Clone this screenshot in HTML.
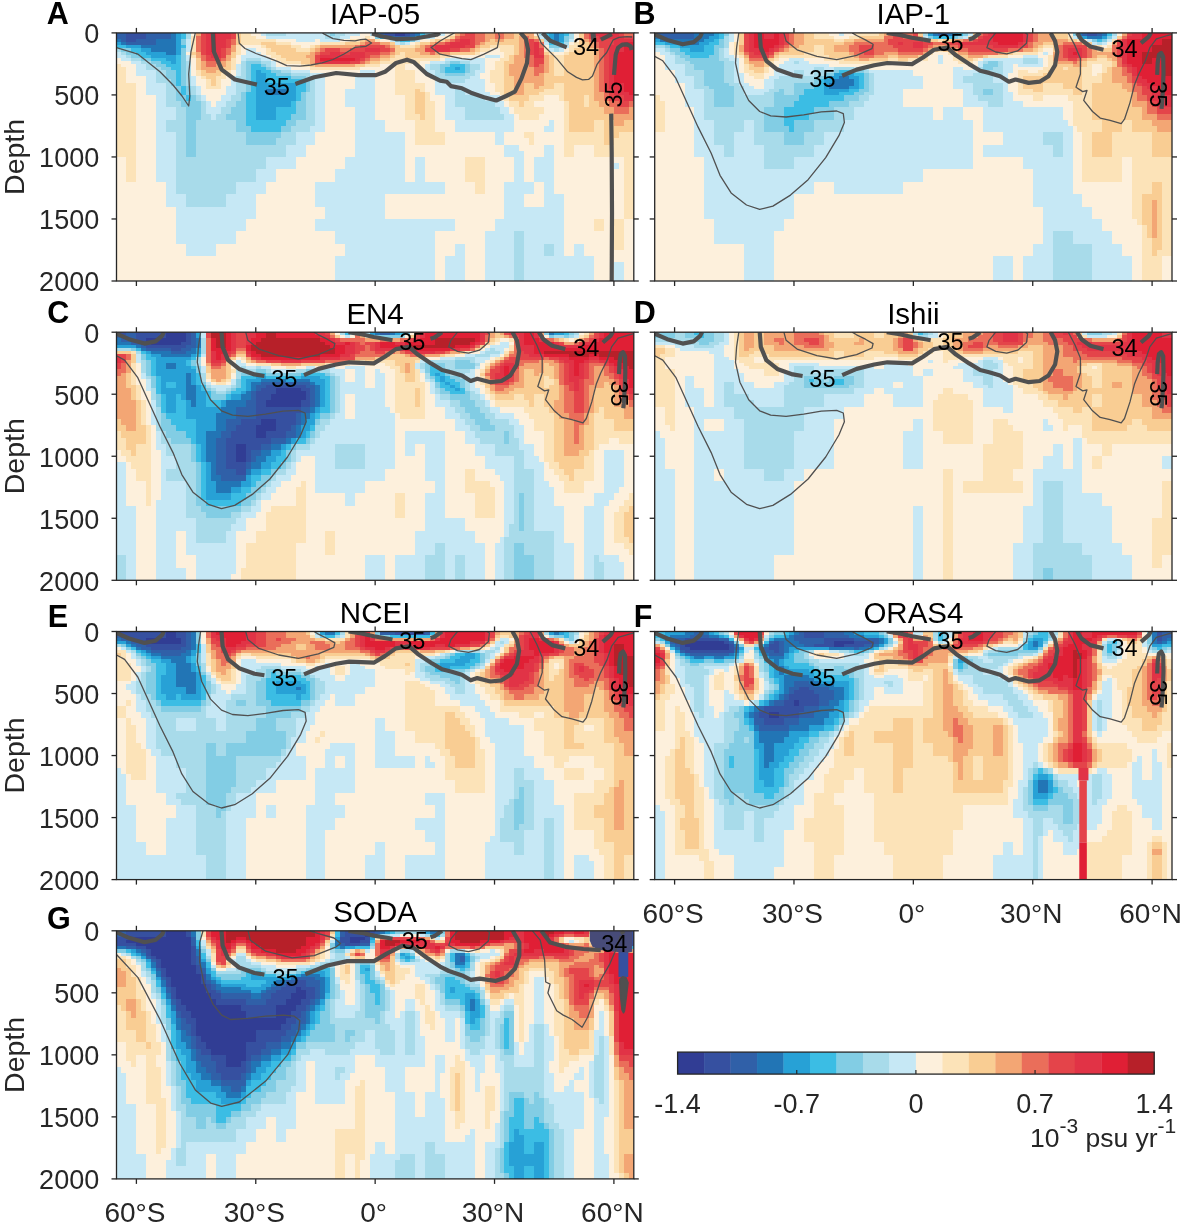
<!DOCTYPE html>
<html><head><meta charset="utf-8"><title>Salinity trend sections</title>
<style>html,body{margin:0;padding:0;background:#fff;} body{width:1181px;height:1225px;overflow:hidden;} svg{display:block;font-family:'Liberation Sans', Arial, Helvetica, sans-serif;}</style>
</head><body>
<svg width="1181" height="1225" viewBox="0 0 1181 1225">
<clipPath id="clipA"><rect x="116.50" y="32.90" width="517.30" height="248.10"/></clipPath>
<g clip-path="url(#clipA)">
<rect x="116.50" y="32.90" width="517.30" height="248.10" fill="#fdf0dc"/>
<g shape-rendering="crispEdges">
<g transform="translate(116.50,32.90) scale(4.97404,3.10125)">
<path fill="#f3a674" d="M16 0h1V1H16zM68 0h1V1H68zM82 0h2V1H82zM74 0h2V2H74zM78 0h2V2H78zM83 1h1V2H83zM50 2h2V3H50zM66 2h1V3H66zM74 2h1V3H74zM76 2h2V3H76zM94 2h1V3H94zM49 3h1V4H49zM53 3h2V4H53zM63 3h1V4H63zM73 3h1V4H73zM41 4h7V5H41zM55 4h1V5H55zM61 4h1V5H61zM72 4h1V5H72zM95 3h1V5H95zM23 4h1V6H23zM40 5h1V6H40zM60 5h2V6H60zM71 5h1V6H71zM39 6h1V7H39zM55 6h1V7H55zM61 6h2V7H61zM64 6h3V7H64zM81 1h1V7H81zM16 6h1V8H16zM38 7h2V8H38zM53 7h2V8H53zM80 7h2V8H80zM22 7h1V9H22zM51 8h2V9H51zM21 9h1V10H21zM39 8h1V10H39zM50 9h1V10H50zM80 8h3V10H80zM17 9h1V11H17zM20 10h2V11H20zM40 10h8V11H40zM79 10h4V11H79zM17 11h4V12H17zM18 12h2V13H18zM86 7h1V13H86zM79 11h5V14H79zM85 13h1V14H85zM80 14h6V16H80zM84 16h2V17H84zM84 17h1V18H84zM96 5h1V19H96zM80 16h2V20H80zM96 19h2V22H96zM97 22h2V24H97zM98 24h2V26H98zM103 24h1V26H103zM99 26h5V28H99zM100 28h2V30H100z"/>
<path fill="#fce3b8" d="M25 0h2V1H25zM67 0h1V1H67zM25 1h3V2H25zM50 1h1V2H50zM66 1h1V2H66zM25 2h7V3H25zM47 2h2V3H47zM52 2h1V3H52zM63 2h1V3H63zM25 3h4V4H25zM32 3h3V4H32zM41 3h5V4H41zM60 3h1V4H60zM92 3h1V4H92zM29 4h1V5H29zM35 4h2V5H35zM39 4h1V5H39zM57 4h3V5H57zM75 4h5V5H75zM91 4h2V5H91zM15 1h1V6H15zM30 5h1V6H30zM36 5h3V6H36zM73 5h2V6H73zM77 5h3V6H77zM86 5h1V6H86zM91 5h1V6H91zM24 4h1V7H24zM30 6h2V7H30zM57 6h1V7H57zM72 6h1V7H72zM78 6h2V7H78zM87 6h1V7H87zM90 6h1V7H90zM15 7h1V8H15zM31 7h2V8H31zM56 7h2V8H56zM65 7h2V8H65zM78 7h1V8H78zM32 8h2V9H32zM55 8h10V9H55zM77 8h2V9H77zM33 9h4V10H33zM53 9h8V10H53zM0 10h1V11H0zM37 10h2V11H37zM50 10h3V11H50zM23 8h1V12H23zM39 11h10V12H39zM56 10h2V12H56zM76 9h2V12H76zM22 12h1V13H22zM16 12h1V14H16zM21 13h2V14H21zM88 7h2V14H88zM17 14h1V15H17zM20 14h2V15H20zM0 11h2V16H0zM56 12h4V16H56zM75 12h3V16H75zM18 15h1V17H18zM20 15h1V17H20zM18 17h3V18H18zM56 16h6V18H56zM88 16h2V18H88zM61 18h1V19H61zM76 16h2V19H76zM86 18h4V19H86zM56 18h4V20H56zM77 19h1V20H77zM85 19h5V20H85zM62 19h1V22H62zM78 20h1V22H78zM83 20h3V22H83zM89 20h1V22H89zM79 22h2V24H79zM82 22h2V24H82zM94 20h1V24H94zM58 20h2V26H58zM80 24h6V26H80zM58 26h3V28H58zM62 22h2V28H62zM81 26h4V28H81zM60 28h4V32H60zM90 22h1V32H90zM96 28h2V32H96zM82 32h2V34H82zM101 32h3V34H101zM60 32h6V36H60zM83 34h1V36H83zM90 32h8V36H90zM100 34h4V36H100zM0 16h4V40H0zM90 36h2V40H90zM96 36h8V40H96zM2 40h2V48H2zM70 40h4V48H70zM72 48h2V52H72zM102 40h2V60H102zM96 60h2V64H96zM100 60h2V70H100z"/>
<path fill="#c6e8f5" d="M29 0h1V1H29zM34 0h8V1H34zM46 0h3V1H46zM51 0h1V1H51zM64 0h2V1H64zM30 1h12V2H30zM45 1h2V2H45zM63 1h1V2H63zM85 1h1V2H85zM36 2h4V3H36zM41 2h4V3H41zM55 2h1V3H55zM60 2h1V3H60zM91 2h1V3H91zM56 3h1V4H56zM58 3h1V4H58zM86 3h1V4H86zM90 4h1V5H90zM14 2h1V6H14zM26 5h2V6H26zM87 5h1V6H87zM89 5h1V6H89zM0 6h1V7H0zM26 6h3V7H26zM0 7h2V8H0zM25 7h5V8H25zM74 7h3V8H74zM1 8h2V9H1zM14 7h1V9H14zM25 8h1V9H25zM29 8h2V9H29zM66 8h8V9H66zM3 9h2V10H3zM63 9h3V10H63zM71 9h3V10H71zM31 9h1V11H31zM4 10h2V12H4zM32 11h3V12H32zM62 10h1V12H62zM73 10h1V12H73zM35 12h4V13H35zM49 12h3V13H49zM72 12h2V13H72zM4 12h4V14H4zM24 10h1V14H24zM39 13h3V14H39zM46 13h6V14H46zM62 12h2V14H62zM72 13h1V14H72zM63 14h1V15H63zM71 14h2V15H71zM6 14h2V16H6zM64 15h1V16H64zM70 15h4V16H70zM15 14h1V17H15zM23 14h1V17H23zM48 14h4V18H48zM64 16h10V18H64zM70 18h4V19H70zM6 16h4V20H6zM16 17h1V20H16zM22 17h2V20H22zM64 18h4V20H64zM70 19h5V20H70zM17 20h1V22H17zM21 20h2V22H21zM74 20h3V22H74zM8 20h2V24H8zM18 22h1V24H18zM20 22h2V24H20zM46 18h6V24H46zM66 20h2V24H66zM76 22h2V24H76zM18 24h3V26H18zM77 24h2V26H77zM8 24h4V28H8zM19 26h1V28H19zM48 24h4V28H48zM66 24h4V28H66zM78 26h2V28H78zM40 14h2V30H40zM87 28h1V30H87zM8 28h2V32H8zM39 30h3V32H39zM48 28h6V32H48zM68 28h12V32H68zM86 30h2V32H86zM36 32h4V36H36zM76 32h2V36H76zM78 36h3V38H78zM34 36h4V40H34zM48 32h10V40H48zM78 38h4V40H78zM86 36h2V40H86zM30 40h6V44H30zM46 40h12V44H46zM100 42h1V44H100zM8 32h4V48H8zM28 44h4V48H28zM44 44h14V48H44zM60 40h2V48H60zM80 40h2V48H80zM84 40h4V48H84zM10 48h2V52H10zM24 48h6V52H24zM40 48h26V52H40zM78 48h6V52H78zM86 48h2V52H86zM10 52h4V56H10zM22 52h6V56H22zM40 52h14V56H40zM78 52h4V56H78zM86 52h4V56H86zM12 56h16V60H12zM42 56h12V60H42zM78 56h12V60H78zM12 60h14V64H12zM40 60h28V64H40zM76 60h14V64H76zM12 64h12V68H12zM44 64h20V68H44zM82 64h8V68H82zM14 68h6V72H14zM46 68h18V72H46zM68 68h2V72H68zM82 68h4V72H82zM88 68h2V72H88zM92 68h2V72H92zM44 72h20V80H44zM66 72h4V80H66zM74 64h6V80H74zM82 72h14V80H82zM100 74h2V80H100z"/>
<path fill="#a8dbea" d="M30 0h4V1H30zM42 0h1V1H42zM44 0h2V1H44zM63 0h1V1H63zM85 0h1V1H85zM14 0h1V2H14zM42 1h3V2H42zM62 1h1V2H62zM91 0h1V2H91zM86 2h1V3H86zM57 3h1V4H57zM90 3h1V4H90zM0 5h1V6H0zM88 5h1V6H88zM1 6h1V7H1zM2 7h1V8H2zM3 8h2V9H3zM26 8h3V9H26zM5 9h2V10H5zM29 9h2V10H29zM66 9h1V10H66zM69 9h2V10H69zM6 10h2V11H6zM30 10h1V11H30zM6 11h3V12H6zM31 11h1V12H31zM63 10h2V12H63zM71 10h2V12H71zM33 12h2V13H33zM64 12h1V13H64zM71 12h1V13H71zM25 9h1V14H25zM35 13h4V14H35zM64 13h2V14H64zM70 13h2V14H70zM8 12h2V15H8zM38 14h2V15H38zM64 14h7V15H64zM8 15h3V16H8zM65 15h5V16H65zM10 16h1V17H10zM14 9h1V17H14zM24 14h2V19H24zM39 15h1V19H39zM15 17h1V20H15zM24 19h1V20H24zM68 18h2V20H68zM10 17h2V22H10zM16 20h1V22H16zM23 20h2V22H23zM68 20h6V22H68zM10 22h3V24H10zM22 22h2V24H22zM68 22h8V24H68zM17 22h1V26H17zM21 24h2V26H21zM70 24h7V26H70zM12 24h2V28H12zM17 26h2V28H17zM20 26h2V28H20zM38 19h2V28H38zM70 26h8V28H70zM36 28h4V30H36zM10 28h4V32H10zM16 28h8V32H16zM35 30h4V32H35zM33 32h3V34H33zM16 32h10V36H16zM32 34h4V36H32zM12 32h2V40H12zM16 36h18V40H16zM12 40h18V44H12zM12 44h16V48H12zM12 48h12V52H12zM14 52h8V56H14zM86 68h2V72H86zM80 64h2V80H80z"/>
<path fill="#82cde4" d="M43 0h1V1H43zM62 0h1V1H62zM52 1h1V2H52zM61 1h1V2H61zM86 1h1V2H86zM56 2h1V3H56zM59 2h1V3H59zM90 1h1V3H90zM13 2h1V4H13zM87 4h3V5H87zM1 5h2V6H1zM2 6h2V7H2zM3 7h2V8H3zM5 8h2V9H5zM7 9h2V10H7zM26 9h3V10H26zM67 9h2V10H67zM8 10h2V11H8zM29 10h1V11H29zM65 10h2V11H65zM9 11h2V12H9zM30 11h1V12H30zM31 12h2V13H31zM65 11h1V13H65zM70 10h1V13H70zM32 13h3V14H32zM66 13h4V14H66zM10 12h2V15H10zM35 14h3V15H35zM11 15h1V17H11zM13 5h1V17H13zM26 10h1V19H26zM38 15h1V19H38zM12 17h1V20H12zM14 17h1V20H14zM12 20h2V22H12zM15 20h1V22H15zM25 19h1V22H25zM37 19h1V22H37zM13 22h4V24H13zM24 22h2V24H24zM23 24h3V26H23zM36 22h2V26H36zM14 24h3V28H14zM22 26h4V28H22zM35 26h3V28H35zM24 28h2V30H24zM34 28h2V30H34zM24 30h3V32H24zM33 30h2V32H33zM26 32h7V34H26zM26 34h6V36H26zM14 28h2V40H14z"/>
<path fill="#27a1d6" d="M52 0h1V1H52zM53 1h2V2H53zM87 0h1V3H87zM89 0h1V3H89zM0 3h1V4H0zM88 3h1V4H88zM2 4h3V5H2zM5 5h2V6H5zM6 6h4V7H6zM12 0h1V7H12zM7 7h5V8H7zM10 8h2V9H10zM11 9h1V10H11zM68 11h1V12H68zM28 12h1V13H28zM28 13h2V16H28zM28 16h8V18H28zM28 18h2V20H28zM34 18h2V20H34zM28 20h8V22H28zM28 22h7V24H28zM28 24h4V28H28z"/>
<path fill="#3060a8" d="M53 0h1V1H53zM59 0h1V1H59zM0 0h2V2H0zM6 0h5V2H6zM56 1h3V2H56zM1 2h1V3H1zM4 2h4V3H4zM2 3h6V4H2z"/>
<path fill="#3650a0" d="M54 0h2V1H54zM58 0h1V1H58zM2 0h4V2H2zM2 2h2V3H2z"/>
<path fill="#313d94" d="M56 0h2V1H56z"/>
<path fill="#2275b5" d="M60 0h1V1H60zM11 0h1V2H11zM55 1h1V2H55zM59 1h1V2H59zM0 2h1V3H0zM88 0h1V3H88zM1 3h1V4H1zM8 2h4V4H8zM5 4h7V5H5zM7 5h5V6H7zM10 6h2V7H10zM30 18h4V20H30z"/>
<path fill="#3bbde4" d="M61 0h1V1H61zM86 0h1V1H86zM90 0h1V1H90zM13 0h1V2H13zM60 1h1V2H60zM57 2h2V3H57zM87 3h1V4H87zM89 3h1V4H89zM0 4h2V5H0zM13 4h1V5H13zM3 5h2V6H3zM4 6h2V7H4zM5 7h2V8H5zM7 8h3V9H7zM9 9h2V10H9zM12 7h1V10H12zM10 10h3V11H10zM27 10h2V11H27zM67 10h3V11H67zM11 11h2V12H11zM27 11h3V12H27zM66 11h2V12H66zM69 11h1V12H69zM29 12h2V13H29zM66 12h4V13H66zM30 13h2V14H30zM30 14h5V15H30zM30 15h8V16H30zM12 12h1V17H12zM27 12h1V19H27zM36 16h2V19H36zM13 17h1V20H13zM14 20h1V22H14zM36 19h1V22H36zM35 22h1V24H35zM32 24h4V26H32zM26 19h2V28H26zM32 26h3V28H32zM26 28h8V30H26zM27 30h6V32H27z"/>
<path fill="#ea6e5a" d="M69 0h1V1H69zM102 0h2V1H102zM68 1h1V2H68zM76 0h2V2H76zM94 0h1V2H94zM67 2h1V3H67zM72 0h2V3H72zM84 2h1V3H84zM95 2h1V3H95zM23 2h1V4H23zM50 3h3V4H50zM64 3h2V4H64zM72 3h1V4H72zM48 4h1V5H48zM54 4h1V5H54zM62 4h1V5H62zM85 3h1V5H85zM96 3h1V5H96zM16 1h1V6H16zM41 5h1V6H41zM45 5h2V6H45zM55 5h1V6H55zM69 5h2V6H69zM22 5h1V7H22zM40 6h1V7H40zM53 6h2V7H53zM63 6h1V7H63zM82 1h1V7H82zM51 7h2V8H51zM82 7h2V8H82zM17 7h1V9H17zM21 8h1V9H21zM50 8h1V9H50zM18 9h3V10H18zM49 9h1V10H49zM18 10h2V11H18zM83 8h1V11H83zM85 10h1V11H85zM84 11h2V13H84zM84 13h1V14H84zM97 5h1V19H97zM98 19h1V22H98zM99 22h2V24H99zM103 22h1V24H103zM100 24h3V26H100z"/>
<path fill="#e4444a" d="M70 0h2V1H70zM95 0h1V1H95zM101 0h1V1H101zM23 0h1V2H23zM69 1h3V2H69zM95 1h2V2H95zM102 1h2V2H102zM68 2h1V3H68zM96 2h4V3H96zM66 3h1V4H66zM71 2h1V4H71zM97 3h3V4H97zM22 2h1V5H22zM49 4h5V5H49zM63 4h1V5H63zM70 4h2V5H70zM97 4h2V5H97zM42 5h3V6H42zM47 5h3V6H47zM53 5h2V6H53zM62 5h2V6H62zM67 5h2V6H67zM17 0h1V7H17zM41 6h2V7H41zM45 6h2V7H45zM50 6h3V7H50zM83 2h1V7H83zM85 5h1V7H85zM18 7h1V8H18zM21 5h1V8H21zM50 7h1V8H50zM18 8h3V9H18zM49 8h1V9H49zM40 7h1V10H40zM47 9h2V10H47zM84 8h2V10H84zM84 10h1V11H84zM98 5h1V18H98zM98 18h2V19H98zM99 19h1V20H99zM99 20h3V22H99zM101 22h2V24H101z"/>
<path fill="#f9cd93" d="M80 0h2V1H80zM67 1h1V2H67zM80 1h1V2H80zM84 1h1V2H84zM49 2h1V3H49zM64 2h2V3H64zM75 2h1V3H75zM78 2h3V3H78zM85 2h1V3H85zM93 0h1V3H93zM24 0h1V4H24zM29 3h3V4H29zM46 3h3V4H46zM55 3h1V4H55zM61 3h2V4H61zM74 3h7V4H74zM30 4h5V5H30zM40 4h1V5H40zM56 4h1V5H56zM60 4h1V5H60zM73 4h2V5H73zM93 3h2V5H93zM31 5h5V6H31zM39 5h1V6H39zM56 5h4V6H56zM72 5h1V6H72zM92 5h4V6H92zM15 6h1V7H15zM32 6h7V7H32zM56 6h1V7H56zM58 6h3V7H58zM67 6h5V7H67zM80 4h1V7H80zM86 6h1V7H86zM91 6h5V7H91zM23 6h1V8H23zM33 7h5V8H33zM55 7h1V8H55zM58 7h7V8H58zM34 8h5V9H34zM53 8h2V9H53zM79 7h1V9H79zM37 9h2V10H37zM51 9h2V10H51zM78 9h2V10H78zM22 9h1V11H22zM39 10h1V11H39zM48 10h2V11H48zM16 8h1V12H16zM21 11h2V12H21zM17 12h1V13H17zM20 12h2V13H20zM87 7h1V13H87zM17 13h4V14H17zM78 10h1V14H78zM86 13h2V14H86zM90 7h6V14H90zM18 14h2V15H18zM86 14h10V16H86zM19 15h1V17H19zM86 16h2V17H86zM82 16h2V18H82zM85 17h3V18H85zM60 18h1V19H60zM82 18h4V19H82zM78 14h2V20H78zM82 19h3V20H82zM90 16h6V20H90zM79 20h4V22H79zM90 20h4V22H90zM95 20h1V22H95zM81 22h1V24H81zM91 22h3V24H91zM95 22h2V24H95zM60 19h2V26H60zM91 24h7V26H91zM61 26h1V28H61zM91 26h8V28H91zM98 28h2V30H98zM102 28h2V30H102zM91 28h5V32H91zM98 30h6V32H98zM98 32h3V34H98zM98 34h2V36H98z"/>
<path fill="#e13346" d="M96 0h5V1H96zM20 0h3V2H20zM97 1h5V2H97zM69 2h2V3H69zM100 2h4V3H100zM67 3h4V4H67zM100 3h2V4H100zM20 2h2V5H20zM64 4h6V5H64zM18 0h1V6H18zM20 5h1V6H20zM50 5h3V6H50zM64 5h3V6H64zM99 4h3V6H99zM18 6h3V7H18zM43 6h2V7H43zM47 6h3V7H47zM84 3h1V7H84zM19 7h2V8H19zM41 7h9V8H41zM84 7h2V8H84zM48 8h1V9H48zM41 9h6V10H41zM99 6h1V16H99zM99 16h3V18H99zM100 18h2V19H100zM100 19h3V20H100zM102 20h2V22H102z"/>
<path fill="#e01f35" d="M19 0h1V6H19zM102 3h2V6H102zM41 8h7V9H41zM100 6h4V16H100zM102 16h2V19H102zM103 19h1V20H103z"/>
</g>
</g>
<path d="M116.5,47.6 L138.0,54.2 L160.0,71.8 L173.0,85.0 L182.0,96.0 L188.7,106.0 L189.8,96.0 L188.7,74.0 L190.9,52.0 L195.3,32.9" fill="none" stroke="#505050" stroke-width="1.3" stroke-linejoin="round" stroke-linecap="butt"/>
<path d="M212.9,33.3 L214.0,52.0 L221.7,69.6 L234.9,79.5 L256.9,84.6" fill="none" stroke="#505050" stroke-width="4.2" stroke-linejoin="round" stroke-linecap="butt"/>
<path d="M295.4,84.0 L314.2,77.3 L336.2,73.0 L358.2,75.1 L376.0,75.1 L385.0,71.8 L396.0,63.0 L407.0,59.7 L413.6,61.9 L426.8,74.0 L440.0,80.6 L446.7,81.7 L451.0,86.1 L462.0,88.3 L470.9,92.7 L484.0,97.2 L496.2,100.5 L506.1,96.0 L514.9,91.6 L521.5,78.4 L527.0,63.0 L528.1,49.8 L525.9,38.8 L520.4,32.6" fill="none" stroke="#505050" stroke-width="4.2" stroke-linejoin="round" stroke-linecap="butt"/>
<path d="M238.2,33.3 L239.3,43.2 L245.0,48.5 L256.0,53.5 L267.0,57.3 L278.0,61.7 L286.8,65.6 L300.0,66.1 L311.0,65.0 L322.0,62.8 L333.0,59.5 L344.0,54.0 L355.0,47.4 L366.0,46.3 L371.6,43.0 L366.0,39.2 L360.6,39.7 L355.0,40.8 L344.0,40.3 L333.0,38.6 L324.3,34.2 L322.5,32.9" fill="none" stroke="#505050" stroke-width="1.3" stroke-linejoin="round" stroke-linecap="butt"/>
<path d="M372.0,33.5 L380.0,36.0 L397.0,39.2 L415.0,38.5 L436.6,34.8 L440.0,33.0" fill="none" stroke="#505050" stroke-width="4.2" stroke-linejoin="round" stroke-linecap="butt"/>
<path d="M455.5,32.2 L440.0,41.0 L431.2,47.6 L440.0,54.2 L462.0,58.6 L470.9,59.7 L484.0,54.2 L497.3,47.6 L499.5,36.6 L498.4,32.2" fill="none" stroke="#505050" stroke-width="1.3" stroke-linejoin="round" stroke-linecap="butt"/>
<path d="M542.5,33.1 L550.2,40.8 L566.7,47.4" fill="none" stroke="#505050" stroke-width="4.2" stroke-linejoin="round" stroke-linecap="butt"/>
<path d="M600.9,39.7 L611.9,34.2" fill="none" stroke="#505050" stroke-width="4.2" stroke-linejoin="round" stroke-linecap="butt"/>
<path d="M593.0,32.9 L594.0,41.9" fill="none" stroke="#505050" stroke-width="5" stroke-linejoin="round" stroke-linecap="butt"/>
<path d="M537.0,33.3 L541.3,43.2 L556.7,58.6 L567.7,71.8 L576.5,77.4 L582.5,79.9 L588.5,79.4 L592.5,75.9 L596.9,64.7 L601.0,59.0 L606.7,52.5 L610.8,44.3 L613.2,39.8 L619.0,37.4 L627.1,36.6 L632.0,37.0" fill="none" stroke="#505050" stroke-width="1.3" stroke-linejoin="round" stroke-linecap="butt"/>
<path d="M614.0,74.9 L615.7,54.9 L618.1,47.6 L622.2,44.7 L627.1,44.3 L630.8,46.4 L631.6,50.0" fill="none" stroke="#505050" stroke-width="4.2" stroke-linejoin="round" stroke-linecap="butt"/>
<path d="M611.2,113.6 L611.7,152.9 L612.0,212.9 L611.7,281.0" fill="none" stroke="#505050" stroke-width="4.2" stroke-linejoin="round" stroke-linecap="butt"/>
<text x="276.7" y="94.5" font-size="23.5" text-anchor="middle" fill="#000">35</text>
<text x="586.0" y="54.7" font-size="23.5" text-anchor="middle" fill="#000">34</text>
<text x="613.2" y="102.9" font-size="23.5" text-anchor="middle" fill="#000" transform="rotate(-90 613.2 94.5)">35</text>
</g>
<rect x="116.50" y="32.90" width="517.30" height="248.10" fill="none" stroke="#262626" stroke-width="1.3"/>
<line x1="136.40" y1="281.00" x2="136.40" y2="286.00" stroke="#262626" stroke-width="1.3"/>
<line x1="136.40" y1="32.90" x2="136.40" y2="27.90" stroke="#262626" stroke-width="1.3"/>
<line x1="255.77" y1="281.00" x2="255.77" y2="286.00" stroke="#262626" stroke-width="1.3"/>
<line x1="255.77" y1="32.90" x2="255.77" y2="27.90" stroke="#262626" stroke-width="1.3"/>
<line x1="375.15" y1="281.00" x2="375.15" y2="286.00" stroke="#262626" stroke-width="1.3"/>
<line x1="375.15" y1="32.90" x2="375.15" y2="27.90" stroke="#262626" stroke-width="1.3"/>
<line x1="494.53" y1="281.00" x2="494.53" y2="286.00" stroke="#262626" stroke-width="1.3"/>
<line x1="494.53" y1="32.90" x2="494.53" y2="27.90" stroke="#262626" stroke-width="1.3"/>
<line x1="613.90" y1="281.00" x2="613.90" y2="286.00" stroke="#262626" stroke-width="1.3"/>
<line x1="613.90" y1="32.90" x2="613.90" y2="27.90" stroke="#262626" stroke-width="1.3"/>
<line x1="116.50" y1="32.90" x2="111.50" y2="32.90" stroke="#262626" stroke-width="1.3"/>
<line x1="633.80" y1="32.90" x2="638.80" y2="32.90" stroke="#262626" stroke-width="1.3"/>
<line x1="116.50" y1="94.92" x2="111.50" y2="94.92" stroke="#262626" stroke-width="1.3"/>
<line x1="633.80" y1="94.92" x2="638.80" y2="94.92" stroke="#262626" stroke-width="1.3"/>
<line x1="116.50" y1="156.95" x2="111.50" y2="156.95" stroke="#262626" stroke-width="1.3"/>
<line x1="633.80" y1="156.95" x2="638.80" y2="156.95" stroke="#262626" stroke-width="1.3"/>
<line x1="116.50" y1="218.97" x2="111.50" y2="218.97" stroke="#262626" stroke-width="1.3"/>
<line x1="633.80" y1="218.97" x2="638.80" y2="218.97" stroke="#262626" stroke-width="1.3"/>
<line x1="116.50" y1="281.00" x2="111.50" y2="281.00" stroke="#262626" stroke-width="1.3"/>
<line x1="633.80" y1="281.00" x2="638.80" y2="281.00" stroke="#262626" stroke-width="1.3"/>
<text x="99.2" y="43.2" font-size="27" text-anchor="end" fill="#262626">0</text>
<text x="99.2" y="105.2" font-size="27" text-anchor="end" fill="#262626">500</text>
<text x="99.2" y="167.2" font-size="27" text-anchor="end" fill="#262626">1000</text>
<text x="99.2" y="229.3" font-size="27" text-anchor="end" fill="#262626">1500</text>
<text x="99.2" y="291.3" font-size="27" text-anchor="end" fill="#262626">2000</text>
<text x="24.3" y="156.9" font-size="28.5" text-anchor="middle" fill="#262626" transform="rotate(-90 24.3 156.9)">Depth</text>
<text x="375.1" y="24.2" font-size="29.5" text-anchor="middle" fill="#000">IAP-05</text>
<text x="46.8" y="24.1" font-size="30.5" font-weight="bold" fill="#000">A</text>
<clipPath id="clipB"><rect x="654.70" y="32.90" width="517.30" height="248.10"/></clipPath>
<g clip-path="url(#clipB)">
<rect x="654.70" y="32.90" width="517.30" height="248.10" fill="#fdf0dc"/>
<g shape-rendering="crispEdges">
<g transform="translate(654.70,32.90) scale(4.97404,3.10125)">
<path fill="#3060a8" d="M0 0h8V1H0zM57 0h2V1H57zM86 0h1V1H86zM89 0h1V1H89zM1 1h7V2H1z"/>
<path fill="#2275b5" d="M8 0h4V1H8zM56 0h1V1H56zM59 0h1V1H59zM85 0h1V1H85zM90 0h1V1H90zM0 1h1V2H0zM8 1h3V2H8zM87 1h3V2H87zM1 2h9V3H1zM5 3h4V4H5zM37 14h2V15H37zM36 15h4V16H36zM35 16h5V17H35zM35 17h4V18H35z"/>
<path fill="#27a1d6" d="M12 0h1V1H12zM55 0h1V1H55zM60 0h1V1H60zM11 1h2V2H11zM86 1h1V2H86zM90 1h1V2H90zM0 2h1V3H0zM10 2h2V3H10zM2 3h3V4H2zM9 3h2V4H9zM5 4h5V5H5zM7 5h3V6H7zM36 13h4V14H36zM35 14h2V15H35zM39 14h2V15H39zM34 15h2V16H34zM40 15h1V17H40zM34 16h1V18H34zM39 17h2V18H39zM34 18h5V19H34zM34 19h3V20H34z"/>
<path fill="#82cde4" d="M14 0h1V1H14zM62 0h1V1H62zM84 0h1V1H84zM55 1h1V2H55zM60 1h1V2H60zM85 1h1V2H85zM91 1h1V2H91zM88 2h1V3H88zM90 2h1V3H90zM13 2h1V4H13zM2 4h1V5H2zM12 4h2V5H12zM3 5h2V6H3zM4 6h2V7H4zM12 5h1V7H12zM5 7h2V8H5zM11 7h2V8H11zM6 8h7V9H6zM7 9h7V10H7zM67 9h2V10H67zM66 10h3V11H66zM8 10h6V12H8zM66 11h2V12H66zM36 12h1V13H36zM40 12h2V13H40zM34 13h2V14H34zM33 14h1V15H33zM10 12h4V16H10zM32 15h1V16H32zM10 16h5V17H10zM28 16h5V17H28zM11 17h5V18H11zM28 17h4V18H28zM42 13h1V18H42zM25 18h1V19H25zM41 18h2V19H41zM24 19h2V20H24zM28 18h2V20H28zM40 19h2V20H40zM66 18h2V20H66zM24 20h5V22H24zM38 20h3V22H38zM12 18h4V24H12zM24 22h4V24H24zM35 22h4V24H35zM32 24h4V26H32zM31 26h5V28H31zM22 24h4V30H22zM22 30h5V32H22zM28 28h4V32H28zM26 32h4V36H26z"/>
<path fill="#fce3b8" d="M32 0h3V1H32zM40 0h5V1H40zM32 1h4V2H32zM39 1h2V2H39zM63 1h1V2H63zM83 1h1V2H83zM36 2h2V3H36zM57 2h1V3H57zM85 2h1V3H85zM92 2h1V3H92zM78 4h2V5H78zM89 4h1V5H89zM91 4h1V5H91zM32 4h2V6H32zM57 5h1V6H57zM77 5h1V6H77zM16 3h1V7H16zM30 6h4V7H30zM55 6h1V7H55zM59 6h1V7H59zM72 6h5V7H72zM17 7h1V8H17zM25 7h10V8H25zM60 7h1V8H60zM67 7h4V8H67zM24 8h1V9H24zM34 8h4V9H34zM47 8h2V9H47zM51 8h2V9H51zM54 7h1V9H54zM60 8h2V9H60zM64 8h1V9H64zM89 8h2V9H89zM37 9h14V10H37zM61 9h3V10H61zM87 9h5V10H87zM23 9h1V11H23zM79 7h1V11H79zM87 10h1V11H87zM90 10h2V11H90zM18 10h1V12H18zM78 11h2V12H78zM82 11h1V12H82zM18 12h2V13H18zM22 11h1V13H22zM73 12h2V13H73zM77 12h2V13H77zM90 11h1V13H90zM19 13h3V14H19zM73 13h5V14H73zM86 11h2V14H86zM89 13h1V14H89zM20 14h2V15H20zM86 14h4V16H86zM73 14h1V18H73zM78 16h4V18H78zM73 18h3V19H73zM78 18h6V19H78zM73 19h11V20H73zM86 16h2V20H86zM0 20h1V22H0zM76 20h2V22H76zM83 20h5V22H83zM84 22h4V28H84zM84 28h6V30H84zM0 22h2V32H0zM85 30h5V32H85zM94 28h2V32H94zM86 32h2V40H86zM92 32h8V40H92zM86 40h8V48H86zM96 40h8V48H96zM96 48h4V52H96zM96 52h2V60H96zM97 60h1V62H97zM98 62h1V66H98zM102 48h2V70H102zM98 66h2V72H98zM101 70h3V72H101zM98 72h4V80H98z"/>
<path fill="#c6e8f5" d="M37 0h1V1H37zM63 0h1V1H63zM54 1h1V2H54zM62 1h1V2H62zM84 1h1V2H84zM92 1h1V2H92zM15 0h1V3H15zM87 2h1V3H87zM91 2h1V3H91zM88 3h1V4H88zM90 3h1V4H90zM0 5h2V6H0zM1 6h2V7H1zM14 5h1V7H14zM78 6h1V7H78zM14 7h2V8H14zM74 7h3V8H74zM15 8h2V9H15zM27 8h3V9H27zM66 8h8V9H66zM2 7h2V10H2zM26 9h2V10H26zM29 9h2V10H29zM57 7h1V10H57zM70 9h4V10H70zM77 8h1V10H77zM25 10h10V11H25zM65 9h1V11H65zM73 10h5V11H73zM2 10h4V12H2zM24 11h8V12H24zM34 11h2V12H34zM40 11h3V12H40zM60 11h2V12H60zM64 11h1V12H64zM16 9h1V13H16zM43 12h9V13H43zM60 12h5V13H60zM70 10h2V13H70zM4 12h2V14H4zM24 12h4V14H24zM30 12h2V14H30zM44 13h8V14H44zM60 13h4V14H60zM70 13h1V14H70zM23 14h2V15H23zM4 14h4V16H4zM16 13h2V16H16zM60 14h2V16H60zM68 14h3V16H68zM17 16h2V17H17zM6 16h2V18H6zM18 17h2V18H18zM22 15h2V18H22zM44 14h10V18H44zM60 16h4V18H60zM18 18h5V19H18zM70 16h1V19H70zM18 19h4V20H18zM44 18h6V20H44zM62 18h2V20H62zM43 20h7V22H43zM62 20h3V22H62zM70 19h2V22H70zM6 18h4V24H6zM42 22h8V24H42zM62 22h5V24H62zM70 22h4V24H70zM8 24h2V28H8zM40 24h16V28H40zM58 24h4V28H58zM66 24h16V28H66zM66 28h17V30H66zM18 28h2V32H18zM38 28h26V32H38zM66 30h18V32H66zM8 28h4V36H8zM16 32h4V36H16zM34 32h30V36H34zM70 32h8V36H70zM8 36h6V40H8zM16 36h6V40H16zM32 36h32V40H32zM66 36h14V40H66zM82 32h2V40H82zM10 40h12V44H10zM28 40h36V44H28zM74 40h10V44H74zM10 44h44V48H10zM10 48h22V52H10zM36 48h14V52H36zM76 44h8V52H76zM76 52h10V56H76zM10 52h18V60H10zM78 56h10V60H78zM12 60h14V64H12zM78 60h12V64H78zM12 64h12V68H12zM78 64h2V68H78zM84 64h8V68H84zM76 68h4V72H76zM88 68h6V72H88zM18 68h6V80H18zM68 72h4V80H68zM74 72h6V80H74zM88 72h8V80H88z"/>
<path fill="#f9cd93" d="M45 0h1V1H45zM53 0h1V1H53zM64 0h1V1H64zM30 0h2V2H30zM41 1h5V2H41zM80 0h3V2H80zM93 1h1V2H93zM30 2h6V3H30zM38 2h2V3H38zM55 2h2V3H55zM58 2h2V3H58zM83 2h2V3H83zM17 0h1V4H17zM30 3h8V4H30zM78 3h2V4H78zM87 3h1V4H87zM29 4h3V5H29zM77 4h1V5H77zM88 4h1V5H88zM27 5h5V6H27zM34 4h2V6H34zM56 5h1V6H56zM58 5h1V6H58zM76 5h1V6H76zM80 4h1V6H80zM89 5h3V6H89zM17 6h1V7H17zM25 6h5V7H25zM34 6h5V7H34zM60 6h1V7H60zM71 6h1V7H71zM24 7h1V8H24zM35 7h5V8H35zM47 7h2V8H47zM53 7h1V8H53zM61 7h2V8H61zM66 7h1V8H66zM89 7h2V8H89zM23 8h1V9H23zM38 8h3V9H38zM43 8h4V9H43zM49 8h2V9H49zM62 8h2V9H62zM87 8h2V9H87zM91 8h1V9H91zM18 8h1V10H18zM80 9h1V10H80zM19 10h1V11H19zM22 9h1V11H22zM80 10h4V11H80zM86 9h1V11H86zM92 9h1V11H92zM19 11h3V12H19zM80 11h2V12H80zM83 11h3V12H83zM20 12h2V13H20zM79 12h7V13H79zM91 11h1V13H91zM78 13h8V14H78zM74 14h12V16H74zM90 13h2V16H90zM74 16h4V18H74zM82 16h4V18H82zM88 16h6V18H88zM76 18h2V19H76zM88 18h7V19H88zM84 18h2V20H84zM88 19h8V24H88zM88 24h10V28H88zM96 28h4V30H96zM90 28h4V32H90zM96 30h5V32H96zM88 32h4V40H88zM100 32h4V40H100zM100 48h2V52H100zM98 52h4V54H98zM98 54h2V62H98zM99 62h1V66H99zM101 54h1V66H101zM100 66h2V70H100zM100 70h1V72H100z"/>
<path fill="#f3a674" d="M46 0h1V1H46zM94 0h1V1H94zM53 1h1V2H53zM64 1h1V2H64zM77 0h3V2H77zM40 2h6V3H40zM54 2h1V3H54zM60 2h2V3H60zM77 2h6V3H77zM28 0h2V4H28zM38 3h2V4H38zM76 3h2V4H76zM80 3h2V4H80zM86 3h1V4H86zM92 3h1V4H92zM27 4h2V5H27zM56 4h3V5H56zM76 4h1V5H76zM87 4h1V5H87zM17 4h1V6H17zM26 5h1V6H26zM36 4h3V6H36zM55 5h1V6H55zM59 5h2V6H59zM74 5h2V6H74zM88 5h1V6H88zM24 6h1V7H24zM39 6h1V7H39zM46 6h3V7H46zM54 6h1V7H54zM61 6h2V7H61zM69 6h2V7H69zM88 6h4V7H88zM18 7h1V8H18zM40 7h1V8H40zM44 7h3V8H44zM49 7h4V8H49zM63 7h3V8H63zM88 7h1V8H88zM91 7h2V8H91zM22 8h1V9H22zM41 8h2V9H41zM80 6h1V9H80zM86 8h1V9H86zM92 8h1V9H92zM19 9h3V10H19zM81 9h3V10H81zM85 9h1V10H85zM20 10h2V11H20zM84 10h2V11H84zM92 11h2V14H92zM92 14h3V16H92zM94 16h2V18H94zM95 18h1V19H95zM96 19h1V22H96zM96 22h3V24H96zM98 24h1V26H98zM98 26h3V28H98zM100 28h4V30H100zM101 30h3V32H101zM100 54h1V66H100z"/>
<path fill="#ea6e5a" d="M47 0h1V1H47zM65 0h1V1H65zM46 1h2V2H46zM50 0h2V2H50zM94 1h1V2H94zM46 2h1V3H46zM62 2h2V3H62zM76 0h1V3H76zM93 2h1V3H93zM27 0h1V4H27zM40 3h7V4H40zM56 3h3V4H56zM82 3h4V4H82zM26 4h1V5H26zM44 4h4V5H44zM55 4h1V5H55zM59 4h2V5H59zM75 3h1V5H75zM25 5h1V6H25zM39 4h2V6H39zM44 5h5V6H44zM54 5h1V6H54zM61 5h2V6H61zM71 5h3V6H71zM18 6h1V7H18zM40 6h2V7H40zM44 6h2V7H44zM49 6h5V7H49zM63 6h6V7H63zM92 4h1V7H92zM23 7h1V8H23zM41 7h3V8H41zM81 4h1V8H81zM87 5h1V8H87zM19 8h3V9H19zM81 8h2V9H81zM85 8h1V9H85zM84 9h1V10H84zM93 8h1V11H93zM94 11h1V13H94zM94 13h2V14H94zM95 14h1V16H95zM96 16h1V17H96zM96 17h2V19H96zM97 19h1V20H97zM97 20h2V22H97zM99 22h1V24H99zM99 24h2V26H99zM101 26h3V28H101z"/>
<path fill="#a8dbea" d="M54 0h1V1H54zM92 0h1V1H92zM61 1h1V2H61zM89 3h1V4H89zM0 4h2V5H0zM14 1h1V5H14zM2 5h1V6H2zM3 6h1V7H3zM4 7h1V8H4zM13 5h1V8H13zM4 8h2V9H4zM13 8h2V9H13zM4 9h3V10H4zM28 9h1V10H28zM66 9h1V10H66zM74 8h3V10H74zM69 9h1V11H69zM6 10h2V12H6zM32 11h2V12H32zM36 11h4V12H36zM65 11h1V12H65zM68 11h2V12H68zM32 12h4V13H32zM42 12h1V13H42zM65 12h5V13H65zM6 12h4V14H6zM28 12h2V14H28zM32 13h2V14H32zM64 13h6V14H64zM25 14h8V15H25zM14 9h2V16H14zM24 15h8V16H24zM62 14h6V16H62zM8 14h2V17H8zM15 16h2V17H15zM8 17h3V18H8zM24 16h4V18H24zM64 16h6V18H64zM23 18h2V19H23zM43 13h1V19H43zM16 17h2V20H16zM22 19h2V20H22zM26 18h2V20H26zM42 19h2V20H42zM64 18h2V20H64zM68 18h2V20H68zM41 20h2V22H41zM65 20h5V22H65zM10 18h2V24H10zM16 20h8V24H16zM39 22h3V24H39zM67 22h3V24H67zM10 24h12V28H10zM36 24h4V28H36zM12 28h6V32H12zM20 28h2V32H20zM32 28h6V32H32zM12 32h4V36H12zM20 32h6V36H20zM30 32h4V36H30zM78 32h4V36H78zM14 36h2V40H14zM22 36h10V40H22zM80 36h2V40H80zM22 40h6V44H22zM80 64h4V68H80zM80 68h8V80H80z"/>
<path fill="#3bbde4" d="M61 0h1V1H61zM91 0h1V1H91zM13 0h1V2H13zM56 1h4V2H56zM12 2h1V3H12zM89 2h1V3H89zM0 3h2V4H0zM11 3h2V4H11zM3 4h2V5H3zM5 5h2V6H5zM10 4h2V6H10zM6 6h6V7H6zM7 7h4V8H7zM37 12h3V13H37zM40 13h2V14H40zM34 14h1V15H34zM33 15h1V17H33zM32 17h2V18H32zM41 14h1V18H41zM39 18h2V19H39zM30 18h4V20H30zM37 19h3V20H37zM29 20h9V22H29zM28 22h7V24H28zM26 24h6V26H26zM26 26h5V28H26zM26 28h2V30H26zM27 30h1V32H27z"/>
<path fill="#e4444a" d="M66 0h1V1H66zM95 0h1V1H95zM48 0h2V2H48zM52 0h1V2H52zM65 1h1V2H65zM47 2h7V3H47zM64 2h1V3H64zM75 0h1V3H75zM26 0h1V4H26zM47 3h2V4H47zM50 3h2V4H50zM54 3h2V4H54zM59 3h2V4H59zM74 3h1V4H74zM25 4h1V5H25zM48 4h4V5H48zM54 4h1V5H54zM61 4h7V5H61zM73 4h2V5H73zM82 4h5V5H82zM18 0h1V6H18zM24 5h1V6H24zM41 4h3V6H41zM49 5h5V6H49zM63 5h8V6H63zM19 6h1V7H19zM23 6h1V7H23zM42 6h2V7H42zM19 7h4V8H19zM82 5h1V8H82zM86 5h1V8H86zM93 3h1V8H93zM83 8h2V9H83zM94 10h1V11H94zM95 11h1V13H95zM96 14h1V16H96zM97 16h1V17H97zM98 17h1V18H98zM98 18h2V20H98zM99 20h1V22H99zM100 22h1V24H100zM101 24h3V26H101z"/>
<path fill="#e13346" d="M67 0h1V1H67zM96 0h2V1H96zM22 0h2V2H22zM66 1h2V2H66zM95 1h3V2H95zM65 2h3V3H65zM74 0h1V3H74zM25 0h1V4H25zM49 3h1V4H49zM61 3h8V4H61zM73 3h1V4H73zM19 0h1V5H19zM24 4h1V5H24zM52 3h2V5H52zM68 4h5V5H68zM19 5h2V6H19zM23 5h1V6H23zM83 5h3V6H83zM20 6h3V7H20zM83 6h1V7H83zM85 6h1V7H85zM83 7h3V8H83zM94 2h1V10H94zM95 10h1V11H95zM96 11h1V14H96zM97 14h1V15H97zM97 15h2V16H97zM98 16h2V17H98zM99 17h2V18H99zM100 18h2V20H100zM100 20h4V22H100zM101 22h3V24H101z"/>
<path fill="#3650a0" d="M87 0h2V1H87z"/>
<path fill="#e01f35" d="M20 0h2V2H20zM24 0h1V2H24zM98 0h6V2H98zM68 0h6V3H68zM20 2h5V4H20zM69 3h4V4H69zM95 2h7V4H95zM20 4h4V5H20zM21 5h2V6H21zM95 4h5V6H95zM84 6h1V7H84zM95 6h3V10H95zM100 8h2V10H100zM96 10h6V11H96zM97 11h5V14H97zM98 14h6V15H98zM99 15h5V16H99zM100 16h4V17H100zM101 17h3V18H101zM102 18h2V20H102z"/>
<path fill="#b72029" d="M102 2h2V4H102zM100 4h4V6H100zM98 6h6V8H98zM98 8h2V10H98zM102 8h2V14H102z"/>
</g>
</g>
<path d="M654.7,34.4 L667.2,39.9 L682.7,44.3 L693.7,42.1 L700.2,36.6 L702.0,32.9" fill="none" stroke="#505050" stroke-width="4.2" stroke-linejoin="round" stroke-linecap="butt"/>
<path d="M654.7,56.4 L662.8,60.8 L676.0,78.4 L687.0,102.7 L698.0,126.9 L711.2,153.3 L720.0,175.3 L731.1,192.9 L746.5,205.0 L759.7,209.4 L772.9,206.1 L790.5,195.1 L808.1,179.7 L825.7,157.7 L838.9,135.7 L844.4,122.5 L843.3,113.7 L836.7,111.0 L821.3,111.9 L803.7,114.8 L786.1,117.0 L770.7,115.9 L759.7,111.5 L748.7,100.5 L739.9,82.9 L735.5,63.0 L736.6,47.6 L738.8,32.9" fill="none" stroke="#505050" stroke-width="1.3" stroke-linejoin="round" stroke-linecap="butt"/>
<path d="M759.7,32.9 L760.8,47.6 L766.3,60.8 L777.3,69.6 L792.7,75.1 L802.6,76.7" fill="none" stroke="#505050" stroke-width="4.2" stroke-linejoin="round" stroke-linecap="butt"/>
<path d="M842.2,75.8 L856.6,69.6 L874.2,65.2 L887.4,63.0 L912.0,64.1 L923.0,57.5 L934.0,49.8 L947.2,47.6 L956.0,55.3 L969.2,64.1 L980.2,70.7 L989.1,72.9 L1000.1,76.2 L1008.9,81.7 L1015.5,79.5 L1028.7,82.9 L1039.7,81.7 L1048.5,76.2 L1055.1,65.2 L1057.3,52.0 L1055.1,41.0 L1050.7,32.9" fill="none" stroke="#505050" stroke-width="4.2" stroke-linejoin="round" stroke-linecap="butt"/>
<path d="M783.9,32.9 L786.1,41.0 L797.1,49.8 L816.9,56.4 L836.7,59.7 L856.6,55.3 L872.0,48.7 L873.1,44.3 L865.4,39.9 L856.6,35.5 L852.2,32.9" fill="none" stroke="#505050" stroke-width="1.3" stroke-linejoin="round" stroke-linecap="butt"/>
<path d="M886.7,32.9 L899.7,34.9 L912.0,37.7 L925.2,39.9 L930.7,40.9" fill="none" stroke="#505050" stroke-width="4.2" stroke-linejoin="round" stroke-linecap="butt"/>
<path d="M968.7,39.4 L972.7,38.2 L980.2,32.9" fill="none" stroke="#505050" stroke-width="4.2" stroke-linejoin="round" stroke-linecap="butt"/>
<path d="M995.7,32.9 L989.1,41.0 L986.9,47.6 L995.7,52.0 L1006.7,53.8 L1017.7,50.9 L1026.5,43.2 L1027.6,34.4 L1025.4,32.9" fill="none" stroke="#505050" stroke-width="1.3" stroke-linejoin="round" stroke-linecap="butt"/>
<path d="M1077.1,32.9 L1081.5,39.9 L1090.3,46.5 L1103.5,49.8" fill="none" stroke="#505050" stroke-width="4.2" stroke-linejoin="round" stroke-linecap="butt"/>
<path d="M1141.0,43.2 L1148.7,36.6 L1150.9,32.9" fill="none" stroke="#505050" stroke-width="4.2" stroke-linejoin="round" stroke-linecap="butt"/>
<path d="M1068.3,32.9 L1074.9,45.4 L1080.4,58.6 L1080.4,74.0 L1076.0,87.2 L1082.7,91.6 L1087.0,90.5 L1083.7,100.4 L1092.5,111.5 L1100.2,118.1 L1110.1,120.3 L1121.2,123.6 L1124.5,119.2 L1130.0,102.6 L1134.4,85.0 L1138.8,74.0 L1145.4,60.8 L1149.8,47.6 L1156.4,38.8 L1167.4,35.5 L1172.0,34.4" fill="none" stroke="#505050" stroke-width="1.3" stroke-linejoin="round" stroke-linecap="butt"/>
<path d="M1157.2,74.9 L1157.7,62.9 L1158.9,54.9 L1161.2,52.9 L1163.2,56.9 L1163.5,72.9 L1163.0,87.9 L1162.0,103.9 L1161.5,108.9" fill="none" stroke="#505050" stroke-width="4.2" stroke-linejoin="round" stroke-linecap="butt"/>
<text x="822.4" y="87.3" font-size="23.5" text-anchor="middle" fill="#000">35</text>
<text x="950.5" y="50.5" font-size="23.5" text-anchor="middle" fill="#000">35</text>
<text x="1124.5" y="57.1" font-size="23.5" text-anchor="middle" fill="#000">34</text>
<text x="1158.0" y="102.6" font-size="23.5" text-anchor="middle" fill="#000" transform="rotate(90 1158.0 94.2)">35</text>
</g>
<rect x="654.70" y="32.90" width="517.30" height="248.10" fill="none" stroke="#262626" stroke-width="1.3"/>
<line x1="674.60" y1="281.00" x2="674.60" y2="286.00" stroke="#262626" stroke-width="1.3"/>
<line x1="674.60" y1="32.90" x2="674.60" y2="27.90" stroke="#262626" stroke-width="1.3"/>
<line x1="793.97" y1="281.00" x2="793.97" y2="286.00" stroke="#262626" stroke-width="1.3"/>
<line x1="793.97" y1="32.90" x2="793.97" y2="27.90" stroke="#262626" stroke-width="1.3"/>
<line x1="913.35" y1="281.00" x2="913.35" y2="286.00" stroke="#262626" stroke-width="1.3"/>
<line x1="913.35" y1="32.90" x2="913.35" y2="27.90" stroke="#262626" stroke-width="1.3"/>
<line x1="1032.73" y1="281.00" x2="1032.73" y2="286.00" stroke="#262626" stroke-width="1.3"/>
<line x1="1032.73" y1="32.90" x2="1032.73" y2="27.90" stroke="#262626" stroke-width="1.3"/>
<line x1="1152.10" y1="281.00" x2="1152.10" y2="286.00" stroke="#262626" stroke-width="1.3"/>
<line x1="1152.10" y1="32.90" x2="1152.10" y2="27.90" stroke="#262626" stroke-width="1.3"/>
<line x1="654.70" y1="32.90" x2="649.70" y2="32.90" stroke="#262626" stroke-width="1.3"/>
<line x1="1172.00" y1="32.90" x2="1177.00" y2="32.90" stroke="#262626" stroke-width="1.3"/>
<line x1="654.70" y1="94.92" x2="649.70" y2="94.92" stroke="#262626" stroke-width="1.3"/>
<line x1="1172.00" y1="94.92" x2="1177.00" y2="94.92" stroke="#262626" stroke-width="1.3"/>
<line x1="654.70" y1="156.95" x2="649.70" y2="156.95" stroke="#262626" stroke-width="1.3"/>
<line x1="1172.00" y1="156.95" x2="1177.00" y2="156.95" stroke="#262626" stroke-width="1.3"/>
<line x1="654.70" y1="218.97" x2="649.70" y2="218.97" stroke="#262626" stroke-width="1.3"/>
<line x1="1172.00" y1="218.97" x2="1177.00" y2="218.97" stroke="#262626" stroke-width="1.3"/>
<line x1="654.70" y1="281.00" x2="649.70" y2="281.00" stroke="#262626" stroke-width="1.3"/>
<line x1="1172.00" y1="281.00" x2="1177.00" y2="281.00" stroke="#262626" stroke-width="1.3"/>
<text x="913.4" y="24.2" font-size="29.5" text-anchor="middle" fill="#000">IAP-1</text>
<text x="633.6" y="24.0" font-size="30.5" font-weight="bold" fill="#000">B</text>
<clipPath id="clipC"><rect x="116.50" y="332.20" width="517.30" height="248.10"/></clipPath>
<g clip-path="url(#clipC)">
<rect x="116.50" y="332.20" width="517.30" height="248.10" fill="#fdf0dc"/>
<g shape-rendering="crispEdges">
<g transform="translate(116.50,332.20) scale(4.97404,3.10125)">
<path fill="#3650a0" d="M0 0h2V1H0zM4 0h6V2H4zM4 2h2V3H4zM14 0h1V3H14zM5 3h2V4H5zM13 3h2V4H13zM6 4h8V5H6zM11 5h2V6H11zM30 17h8V18H30zM29 18h3V19H29zM37 18h2V19H37zM28 19h4V20H28zM28 20h3V22H28zM38 19h1V22H38zM28 22h2V24H28zM37 22h2V24H37zM28 24h9V26H28zM28 26h8V28H28zM25 28h4V30H25zM32 28h4V30H32zM24 30h4V32H24zM32 30h3V32H32zM23 32h5V34H23zM30 32h4V34H30zM22 34h9V36H22zM26 36h3V38H26zM22 36h2V42H22zM26 38h1V42H26zM22 42h4V44H22zM24 44h2V46H24z"/>
<path fill="#3060a8" d="M2 0h2V1H2zM53 0h2V1H53zM0 1h4V2H0zM1 2h3V3H1zM3 3h2V4H3zM15 0h1V4H15zM5 4h1V5H5zM14 4h2V5H14zM6 5h5V6H6zM13 5h2V6H13zM11 6h3V7H11zM29 16h10V17H29zM28 17h2V18H28zM38 17h2V18H38zM28 18h1V19H28zM27 19h1V22H27zM26 22h2V24H26zM39 18h1V24H39zM37 24h2V26H37zM24 24h4V28H24zM22 28h3V30H22zM36 26h1V30H36zM22 30h2V32H22zM35 30h1V32H35zM21 32h2V34H21zM34 32h2V34H34zM31 34h3V36H31zM29 36h2V38H29zM27 38h2V40H27zM27 40h1V42H27zM20 34h2V44H20zM26 42h1V44H26zM20 44h4V46H20zM21 46h5V48H21z"/>
<path fill="#e01f35" d="M32 0h8V1H32zM28 0h2V2H28zM32 1h9V2H32zM62 0h11V2H62zM82 0h2V2H82zM98 0h6V2H98zM27 2h2V3H27zM41 2h2V3H41zM61 2h3V3H61zM72 2h1V3H72zM82 2h3V3H82zM97 2h7V3H97zM27 3h1V4H27zM42 3h2V4H42zM46 3h1V4H46zM53 3h3V4H53zM58 3h6V4H58zM71 3h1V4H71zM82 3h6V4H82zM96 3h8V4H96zM19 2h1V5H19zM22 0h1V5H22zM43 4h3V5H43zM53 4h6V5H53zM68 4h3V5H68zM84 4h5V5H84zM94 4h10V5H94zM19 5h4V6H19zM26 4h1V6H26zM58 5h9V6H58zM84 5h20V6H84zM20 6h2V7H20zM27 6h1V7H27zM44 5h2V7H44zM84 6h2V7H84zM27 7h2V8H27zM41 7h4V8H41zM86 7h5V8H86zM95 7h2V8H95zM20 7h1V9H20zM29 8h12V9H29zM91 8h4V9H91zM97 8h3V9H97zM92 9h2V10H92zM99 9h2V10H99zM100 10h2V11H100zM101 11h2V12H101zM78 11h1V14H78zM92 10h1V14H92zM102 12h2V15H102zM103 15h1V18H103z"/>
<path fill="#e13346" d="M40 0h2V1H40zM79 0h3V1H79zM26 0h2V2H26zM41 1h2V2H41zM61 0h1V2H61zM84 0h1V2H84zM97 0h1V2H97zM43 2h1V3H43zM60 2h1V3H60zM73 0h1V3H73zM85 2h1V3H85zM96 2h1V3H96zM26 2h1V4H26zM44 3h2V4H44zM47 3h1V4H47zM56 3h2V4H56zM72 3h1V4H72zM81 1h1V4H81zM88 3h1V4H88zM94 3h2V4H94zM52 3h1V5H52zM71 4h1V5H71zM89 4h5V5H89zM23 0h1V6H23zM52 5h6V6H52zM67 5h2V6H67zM81 4h3V6H81zM22 6h1V7H22zM26 6h1V7H26zM46 4h2V7H46zM60 6h4V7H60zM82 6h2V7H82zM45 7h2V8H45zM83 7h3V8H83zM19 6h1V9H19zM21 7h1V9H21zM28 8h1V9H28zM41 8h4V9H41zM89 8h2V9H89zM95 8h2V9H95zM0 8h1V10H0zM19 9h2V10H19zM33 9h4V10H33zM90 9h2V10H90zM94 9h1V10H94zM97 9h2V10H97zM78 10h2V11H78zM99 10h1V11H99zM100 11h1V12H100zM77 11h1V13H77zM100 12h2V13H100zM76 13h2V14H76zM79 11h1V14H79zM91 10h1V14H91zM93 10h1V14H93zM76 14h3V15H76zM91 14h3V15H91zM101 13h1V15H101zM77 15h2V16H77zM91 15h2V16H91zM102 15h1V18H102zM92 16h1V19H92zM102 18h2V19H102zM103 19h1V20H103z"/>
<path fill="#e4444a" d="M42 0h1V1H42zM74 0h1V1H74zM78 0h1V1H78zM18 0h1V2H18zM60 1h1V2H60zM80 1h1V2H80zM96 0h1V2H96zM44 2h1V3H44zM59 2h1V3H59zM95 2h1V3H95zM48 3h1V4H48zM50 3h2V4H50zM73 3h1V4H73zM89 3h1V4H89zM93 3h1V4H93zM24 0h2V5H24zM48 4h2V6H48zM51 4h1V6H51zM69 5h2V6H69zM23 6h1V7H23zM48 6h1V7H48zM52 6h2V7H52zM58 6h2V7H58zM64 6h2V7H64zM81 6h1V7H81zM0 7h2V8H0zM22 7h1V8H22zM26 7h1V8H26zM47 7h1V8H47zM81 7h2V8H81zM27 8h1V9H27zM45 8h3V9H45zM79 8h7V9H79zM87 8h2V9H87zM1 8h1V10H1zM21 9h1V10H21zM30 9h3V10H30zM37 9h5V10H37zM78 9h3V10H78zM89 9h1V10H89zM95 9h2V10H95zM19 10h2V11H19zM77 10h1V11H77zM98 10h1V11H98zM0 10h1V12H0zM76 11h1V12H76zM80 10h1V12H80zM75 12h2V13H75zM99 11h1V13H99zM75 13h1V15H75zM94 10h1V15H94zM100 13h1V15H100zM76 15h1V16H76zM79 14h1V16H79zM90 10h1V16H90zM76 16h3V17H76zM90 16h2V17H90zM91 17h1V19H91zM93 15h1V19H93zM101 15h1V19H101zM102 19h1V20H102zM103 20h1V22H103zM92 19h2V26H92z"/>
<path fill="#f3a674" d="M43 0h1V1H43zM48 0h2V1H48zM77 0h1V1H77zM85 0h1V1H85zM95 0h1V1H95zM49 1h1V2H49zM75 0h1V2H75zM78 1h1V2H78zM50 2h3V3H50zM55 2h2V3H55zM88 2h1V3H88zM93 2h1V3H93zM90 3h2V4H90zM24 6h2V7H24zM56 6h1V7H56zM67 6h2V7H67zM79 6h1V7H79zM54 7h1V8H54zM58 7h1V8H58zM62 7h3V8H62zM22 8h1V9H22zM26 8h1V9H26zM48 8h4V9H48zM27 9h1V10H27zM47 9h1V10H47zM76 9h1V10H76zM85 9h3V10H85zM18 10h1V11H18zM33 10h4V11H33zM75 10h1V11H75zM82 10h4V11H82zM87 10h2V11H87zM21 11h1V12H21zM81 11h5V12H81zM2 9h1V13H2zM58 10h1V13H58zM74 12h1V13H74zM84 12h2V13H84zM1 13h1V14H1zM84 13h1V14H84zM96 11h2V14H96zM19 12h3V15H19zM88 11h1V15H88zM96 14h3V15H96zM20 15h1V16H20zM74 14h1V16H74zM81 12h1V16H81zM96 15h4V16H96zM80 16h2V17H80zM96 16h2V17H96zM99 16h1V17H99zM0 14h2V18H0zM79 17h3V18H79zM95 17h3V18H95zM75 17h1V19H75zM78 18h2V19H78zM76 19h3V20H76zM0 18h3V22H0zM89 17h1V22H89zM100 17h1V22H100zM100 22h3V24H100zM88 22h2V26H88zM95 18h1V26H95zM0 22h4V28H0zM89 26h2V28H89zM102 24h2V28H102zM1 28h3V30H1zM94 26h1V30H94zM2 30h2V32H2zM90 28h2V36H90zM93 30h1V36H93zM90 36h4V38H90zM90 38h3V40H90z"/>
<path fill="#a8dbea" d="M45 0h1V1H45zM47 0h1V1H47zM50 0h1V1H50zM92 0h1V1H92zM57 1h1V2H57zM88 1h2V2H88zM91 1h1V2H91zM0 5h3V6H0zM75 5h1V6H75zM4 6h1V7H4zM17 2h1V7H17zM74 6h3V7H74zM72 7h3V8H72zM68 8h4V9H68zM62 9h6V10H62zM71 9h1V10H71zM16 8h1V11H16zM72 10h1V11H72zM25 11h1V12H25zM28 11h1V12H28zM61 10h1V12H61zM66 10h2V12H66zM5 9h1V13H5zM24 12h4V13H24zM30 12h1V13H30zM36 12h2V13H36zM41 12h2V13H41zM67 12h4V13H67zM43 13h1V14H43zM67 13h3V14H67zM6 14h1V15H6zM24 13h1V15H24zM62 13h1V15H62zM69 14h1V15H69zM17 13h1V16H17zM63 15h1V16H63zM18 17h1V18H18zM23 17h1V18H23zM19 18h1V19H19zM22 18h1V19H22zM70 15h1V19H70zM20 19h2V20H20zM64 18h1V20H64zM71 19h1V20H71zM7 18h1V22H7zM65 20h2V22H65zM71 20h2V22H71zM67 22h2V24H67zM72 22h2V24H72zM44 14h1V26H44zM68 24h2V26H68zM73 24h2V26H73zM43 26h1V28H43zM69 26h2V28H69zM74 26h2V28H74zM41 28h2V30H41zM70 28h2V30H70zM75 28h4V30H75zM8 24h1V32H8zM40 30h2V32H40zM71 30h2V32H71zM76 30h4V32H76zM9 32h1V34H9zM40 32h1V34H40zM72 32h6V34H72zM79 32h1V34H79zM9 34h2V36H9zM39 34h1V36H39zM73 34h5V36H73zM79 34h2V36H79zM36 36h3V38H36zM76 36h5V38H76zM10 36h5V40H10zM76 38h6V40H76zM12 40h3V42H12zM35 38h1V42H35zM12 42h4V44H12zM34 42h1V44H34zM44 36h6V44H44zM80 40h2V44H80zM32 44h2V46H32zM10 44h6V48H10zM31 46h1V48H31zM30 48h1V50H30zM29 50h1V52H29zM80 44h4V52H80zM28 52h1V54H28zM14 48h2V56H14zM27 54h1V56H27zM14 56h3V58H14zM25 56h2V58H25zM14 58h4V60H14zM23 58h2V60H23zM16 60h8V62H16zM80 52h1V62H80zM16 62h7V64H16zM79 62h2V64H79zM82 52h2V64H82zM79 64h9V66H79zM16 64h6V68H16zM78 66h10V68H78zM64 68h2V72H64zM82 68h6V72H82zM96 72h1V74H96zM0 72h2V80H0zM62 72h4V80H62zM68 72h2V80H68zM78 68h2V80H78zM84 72h4V80H84zM96 74h2V80H96z"/>
<path fill="#3bbde4" d="M46 0h1V1H46zM57 0h1V1H57zM90 0h1V1H90zM4 5h1V6H4zM5 6h1V7H5zM6 7h1V8H6zM16 7h1V8H16zM6 8h2V9H6zM15 8h1V9H15zM14 9h1V11H14zM15 11h1V12H15zM63 11h2V12H63zM63 12h3V13H63zM7 9h1V14H7zM28 13h2V14H28zM37 13h5V14H37zM63 13h1V14H63zM65 13h1V14H65zM25 14h3V15H25zM30 14h7V15H30zM41 14h2V15H41zM66 14h1V15H66zM64 14h1V16H64zM66 15h2V16H66zM16 13h1V17H16zM65 16h1V17H65zM67 16h2V17H67zM10 16h2V18H10zM25 15h1V18H25zM65 17h2V18H65zM68 17h1V18H68zM17 17h1V19H17zM24 18h2V19H24zM66 18h2V19H66zM69 18h1V19H69zM8 14h1V20H8zM23 19h2V20H23zM67 19h3V20H67zM12 20h1V22H12zM18 19h1V22H18zM22 20h1V22H22zM18 22h3V24H18zM42 15h1V24H42zM9 20h1V26H9zM12 22h2V26H12zM41 24h2V26H41zM10 26h4V28H10zM40 26h1V28H40zM11 28h5V30H11zM12 30h4V32H12zM39 30h1V32H39zM14 32h2V34H14zM38 32h1V34H38zM15 34h1V36H15zM36 34h2V36H36zM34 36h1V38H34zM33 38h1V40H33zM16 36h1V42H16zM32 40h2V42H32zM31 42h2V44H31zM29 44h2V46H29zM27 46h2V48H27zM27 48h1V50H27zM25 50h2V52H25zM17 42h1V54H17zM23 52h3V54H23zM18 54h7V56H18z"/>
<path fill="#27a1d6" d="M51 0h1V1H51zM56 0h1V1H56zM88 0h2V1H88zM16 0h1V2H16zM0 4h4V5H0zM6 6h1V7H6zM16 5h1V7H16zM7 7h2V8H7zM15 7h1V8H15zM8 8h7V9H8zM8 9h6V10H8zM12 10h2V11H12zM8 10h2V12H8zM12 11h3V12H12zM8 12h8V13H8zM8 13h6V14H8zM64 13h1V14H64zM28 14h2V15H28zM37 14h4V15H37zM9 14h5V16H9zM26 15h3V16H26zM34 15h2V16H34zM39 15h3V16H39zM65 14h1V16H65zM15 13h1V17H15zM40 16h2V17H40zM66 16h1V17H66zM9 16h1V18H9zM12 16h2V18H12zM67 17h1V18H67zM16 17h1V19H16zM26 16h1V19H26zM68 18h1V19H68zM9 18h5V20H9zM25 19h1V20H25zM13 20h1V22H13zM23 20h2V22H23zM14 22h1V24H14zM16 19h2V24H16zM21 22h1V24H21zM41 17h1V24H41zM10 20h2V26H10zM14 24h7V26H14zM40 24h1V26H40zM14 26h6V28H14zM39 26h1V28H39zM38 28h2V30H38zM16 28h4V32H16zM37 30h2V32H37zM37 32h1V34H37zM16 32h2V36H16zM35 34h1V36H35zM33 36h1V38H33zM31 38h2V40H31zM17 36h1V42H17zM30 40h2V42H30zM29 42h2V44H29zM27 44h2V46H27zM18 42h1V48H18zM26 46h1V48H26zM25 48h2V50H25zM18 48h2V52H18zM23 50h2V52H23zM18 52h5V54H18z"/>
<path fill="#2275b5" d="M52 0h1V1H52zM55 0h1V1H55zM87 0h1V1H87zM0 2h1V3H0zM0 3h3V4H0zM4 4h1V5H4zM16 2h1V5H16zM5 5h1V6H5zM15 5h1V6H15zM7 6h4V7H7zM14 6h2V7H14zM9 7h6V8H9zM10 10h2V12H10zM29 15h5V16H29zM36 15h3V16H36zM14 13h1V17H14zM27 16h2V17H27zM39 16h1V17H39zM27 17h1V19H27zM26 19h1V20H26zM14 17h2V22H14zM25 20h2V22H25zM15 22h1V24H15zM22 22h4V24H22zM40 17h1V24H40zM21 24h3V26H21zM39 24h1V26H39zM20 26h4V28H20zM37 26h2V28H37zM37 28h1V30H37zM20 28h2V32H20zM18 32h3V34H18zM36 30h1V34H36zM34 34h1V36H34zM31 36h2V38H31zM29 38h2V40H29zM18 34h2V42H18zM28 40h2V42H28zM27 42h2V44H27zM19 42h1V46H19zM26 44h1V46H26zM19 46h2V48H19zM20 48h5V50H20zM20 50h3V52H20z"/>
<path fill="#82cde4" d="M58 0h1V1H58zM86 0h1V1H86zM91 0h1V1H91zM51 1h6V2H51zM87 1h1V2H87zM90 1h1V2H90zM3 5h1V6H3zM5 7h1V9H5zM68 9h3V10H68zM15 9h1V11H15zM62 10h4V11H62zM65 11h1V12H65zM68 10h4V12H68zM16 11h1V13H16zM28 12h2V13H28zM38 12h3V13H38zM62 11h1V13H62zM6 9h1V14H6zM25 13h3V14H25zM30 13h7V14H30zM42 13h1V14H42zM66 12h1V14H66zM63 14h1V15H63zM67 14h2V15H67zM68 15h2V16H68zM17 16h1V17H17zM7 14h1V18H7zM24 15h1V18H24zM64 16h1V18H64zM69 16h1V18H69zM18 18h1V19H18zM23 18h1V19H23zM65 18h1V19H65zM19 19h1V20H19zM22 19h1V20H22zM65 19h2V20H65zM70 19h1V20H70zM19 20h3V22H19zM67 20h4V22H67zM8 20h1V24H8zM69 22h3V24H69zM43 14h1V26H43zM70 24h3V26H70zM9 26h1V28H9zM41 26h2V28H41zM71 26h3V28H71zM9 28h2V30H9zM40 28h1V30H40zM72 28h3V30H72zM9 30h3V32H9zM73 30h3V32H73zM10 32h4V34H10zM39 32h1V34H39zM11 34h4V36H11zM38 34h1V36H38zM78 32h1V36H78zM35 36h1V38H35zM15 36h1V42H15zM34 38h1V42H34zM33 42h1V44H33zM31 44h1V46H31zM29 46h2V48H29zM28 48h2V50H28zM27 50h2V52H27zM16 42h1V54H16zM26 52h2V54H26zM16 54h2V56H16zM25 54h2V56H25zM17 56h8V58H17zM18 58h5V60H18zM81 52h1V64H81zM80 68h2V72H80zM80 72h4V80H80z"/>
<path fill="#ea6e5a" d="M60 0h1V1H60zM43 1h1V2H43zM48 1h1V2H48zM79 1h1V2H79zM85 1h1V2H85zM95 1h1V2H95zM45 2h5V3H45zM53 2h2V3H53zM57 2h2V3H57zM74 1h1V3H74zM86 2h2V3H86zM94 2h1V3H94zM49 3h1V4H49zM92 3h1V4H92zM72 4h1V5H72zM24 5h2V6H24zM50 4h1V6H50zM71 5h1V6H71zM49 6h3V7H49zM54 6h2V7H54zM57 6h1V7H57zM66 6h1V7H66zM80 2h1V7H80zM23 7h1V8H23zM48 7h6V8H48zM59 7h3V8H59zM79 7h2V8H79zM2 7h1V9H2zM78 8h1V9H78zM86 8h1V9H86zM18 2h1V10H18zM28 9h2V10H28zM42 9h5V10H42zM77 9h1V10H77zM81 9h4V10H81zM88 9h1V10H88zM21 10h1V11H21zM76 10h1V11H76zM81 10h1V11H81zM95 10h3V11H95zM1 10h1V12H1zM19 11h2V12H19zM75 11h1V12H75zM0 12h2V13H0zM98 11h1V13H98zM0 13h1V14H0zM74 13h1V14H74zM98 13h2V14H98zM95 11h1V15H95zM99 14h1V15H99zM80 12h1V16H80zM75 15h1V17H75zM79 16h1V17H79zM89 10h1V17H89zM94 15h2V17H94zM100 15h1V17H100zM76 17h3V18H76zM76 18h2V19H76zM90 17h1V19H90zM101 19h1V20H101zM101 20h2V22H101zM103 22h1V24H103zM90 19h2V26H90zM94 17h1V26H94zM91 26h3V28H91zM92 28h2V30H92zM92 30h1V36H92z"/>
<path fill="#f9cd93" d="M76 0h1V1H76zM44 1h1V2H44zM59 1h1V2H59zM76 1h2V2H76zM94 1h1V2H94zM75 2h1V3H75zM89 2h1V3H89zM74 3h1V4H74zM73 4h1V5H73zM72 5h1V6H72zM0 6h3V7H0zM69 6h1V7H69zM24 7h2V8H24zM55 7h3V8H55zM65 7h1V8H65zM78 7h1V8H78zM23 8h1V9H23zM52 8h9V9H52zM77 8h1V9H77zM3 7h1V10H3zM26 9h1V10H26zM48 9h1V10H48zM50 9h2V10H50zM56 9h4V10H56zM31 10h2V11H31zM37 10h5V11H37zM56 10h2V11H56zM86 10h1V11H86zM74 11h1V12H74zM18 11h1V13H18zM57 11h1V13H57zM59 10h1V13H59zM86 11h2V13H86zM73 13h1V14H73zM82 12h2V14H82zM85 13h3V14H85zM22 9h1V15H22zM87 14h1V15H87zM19 15h1V16H19zM21 15h1V16H21zM58 13h2V16H58zM2 13h1V17H2zM88 15h1V17H88zM98 16h1V17H98zM2 17h2V18H2zM74 16h1V18H74zM82 14h4V18H82zM87 17h2V18H87zM98 17h2V18H98zM80 18h9V19H80zM75 19h1V20H75zM79 19h10V20H79zM3 18h1V22H3zM76 20h4V22H76zM82 20h2V22H82zM86 20h3V22H86zM60 18h1V24H60zM83 22h1V24H83zM86 22h2V24H86zM96 18h4V24H96zM87 24h1V26H87zM96 24h1V26H96zM88 26h1V28H88zM98 24h4V28H98zM0 28h1V30H0zM4 22h1V30H4zM95 26h1V30H95zM0 30h2V32H0zM4 30h2V32H4zM100 28h4V32H100zM1 32h5V34H1zM2 34h4V36H2zM2 36h2V38H2zM94 30h2V38H94zM3 38h1V40H3zM88 28h2V40H88zM93 38h2V40H93zM88 40h6V42H88zM89 42h5V44H89zM90 44h2V46H90zM91 46h1V48H91zM103 56h1V58H103zM102 58h2V66H102zM103 66h1V68H103z"/>
<path fill="#fce3b8" d="M94 0h1V1H94zM93 1h1V2H93zM76 2h1V3H76zM79 2h1V3H79zM90 2h1V3H90zM92 2h1V3H92zM75 3h1V4H75zM79 4h1V6H79zM3 6h1V7H3zM70 6h1V7H70zM78 6h1V7H78zM66 7h2V8H66zM25 8h1V9H25zM61 8h1V9H61zM76 8h1V9H76zM49 9h1V10H49zM52 9h4V10H52zM60 9h1V10H60zM75 9h1V10H75zM28 10h3V11H28zM42 10h5V11H42zM51 10h1V11H51zM54 10h2V11H54zM74 10h1V11H74zM34 11h2V12H34zM55 11h2V12H55zM23 12h1V13H23zM56 12h1V13H56zM73 12h1V13H73zM18 13h1V15H18zM86 14h1V15H86zM22 15h1V16H22zM56 13h2V16H56zM60 12h1V16H60zM3 10h1V17H3zM20 16h2V17H20zM73 14h1V17H73zM86 15h2V17H86zM56 16h6V18H56zM86 17h1V18H86zM74 18h1V20H74zM4 17h1V22H4zM75 20h1V22H75zM80 20h2V22H80zM56 18h4V24H56zM61 18h1V24H61zM76 22h7V24H76zM84 20h2V24H84zM56 24h6V26H56zM82 24h5V26H82zM97 24h1V26H97zM57 26h5V28H57zM83 26h5V28H83zM96 26h2V28H96zM5 22h1V30H5zM84 28h4V32H84zM96 28h4V32H96zM0 32h1V34H0zM96 32h8V34H96zM6 30h1V36H6zM96 34h3V36H96zM101 34h3V36H101zM0 34h2V38H0zM96 36h1V38H96zM1 38h2V40H1zM4 36h3V40H4zM95 38h1V40H95zM2 40h5V42H2zM86 32h2V42H86zM3 42h4V44H3zM87 42h2V44H87zM94 40h2V44H94zM88 44h2V46H88zM4 44h3V48H4zM70 44h2V48H70zM89 46h2V48H89zM92 44h4V48H92zM37 48h1V50H37zM70 48h5V50H70zM70 50h6V52H70zM90 48h4V52H90zM103 52h1V54H103zM6 48h1V56H6zM36 50h2V56H36zM102 54h2V56H102zM31 56h7V58H31zM101 56h2V58H101zM56 52h2V60H56zM72 52h4V60H72zM30 58h8V64H30zM100 58h2V66H100zM28 64h10V68H28zM100 66h3V68H100zM102 68h2V70H102zM42 64h2V72H42zM103 70h1V72H103zM26 68h10V76H26zM25 76h11V80H25z"/>
<path fill="#313d94" d="M10 0h4V2H10zM6 2h8V3H6zM7 3h6V4H7zM32 18h5V19H32zM32 19h6V20H32zM31 20h7V22H31zM30 22h7V24H30zM29 28h3V30H29zM28 30h4V32H28zM28 32h2V34H28zM24 36h2V42H24z"/>
<path fill="#c6e8f5" d="M17 0h1V2H17zM46 1h1V2H46zM92 1h1V2H92zM77 3h2V4H77zM75 4h4V5H75zM74 5h1V6H74zM76 5h2V6H76zM73 6h1V7H73zM77 6h1V7H77zM17 7h1V8H17zM70 7h2V8H70zM75 7h2V8H75zM65 8h3V9H65zM72 8h3V9H72zM4 7h1V10H4zM24 9h1V10H24zM61 9h1V10H61zM72 9h2V10H72zM24 10h2V11H24zM24 11h1V12H24zM26 11h2V12H26zM29 11h2V12H29zM38 11h2V12H38zM42 11h2V12H42zM46 11h4V12H46zM60 10h1V12H60zM72 11h1V12H72zM17 11h1V13H17zM31 12h5V13H31zM43 12h3V13H43zM52 12h1V13H52zM61 12h1V13H61zM71 12h1V13H71zM44 13h2V14H44zM5 13h1V15H5zM70 13h2V15H70zM45 14h1V16H45zM48 12h2V16H48zM62 15h1V16H62zM18 16h1V17H18zM23 15h1V17H23zM19 17h4V18H19zM45 16h5V18H45zM52 13h2V18H52zM71 15h1V18H71zM6 15h1V19H6zM20 18h2V19H20zM71 18h2V19H71zM45 18h9V20H45zM63 16h1V20H63zM72 19h1V20H72zM64 20h1V22H64zM73 20h1V22H73zM48 20h6V24H48zM64 22h3V24H64zM74 22h1V24H74zM45 20h1V26H45zM48 24h7V26H48zM66 24h2V26H66zM75 24h2V26H75zM44 26h2V28H44zM48 26h8V28H48zM66 26h3V28H66zM76 26h4V28H76zM7 22h1V30H7zM43 28h13V30H43zM68 28h2V30H68zM79 28h2V30H79zM42 30h14V32H42zM68 30h3V32H68zM41 32h15V34H41zM70 32h2V34H70zM80 30h2V34H80zM8 32h1V36H8zM40 34h16V36H40zM58 32h8V36H58zM70 34h3V36H70zM81 34h1V36H81zM8 36h2V38H8zM39 36h5V38H39zM81 36h3V38H81zM9 38h1V40H9zM36 38h8V40H36zM58 36h2V40H58zM72 36h4V40H72zM82 38h2V40H82zM36 40h1V42H36zM82 40h3V42H82zM9 40h3V44H9zM35 42h1V44H35zM40 40h4V44H40zM50 36h6V44H50zM74 40h6V44H74zM82 42h4V44H82zM34 44h2V46H34zM76 44h4V46H76zM9 44h1V48H9zM32 46h3V48H32zM40 44h14V48H40zM62 36h4V48H62zM77 46h3V48H77zM84 44h2V48H84zM31 48h2V50H31zM84 48h3V50H84zM98 38h4V50H98zM30 50h2V52H30zM40 48h10V52H40zM64 48h2V52H64zM98 50h3V52H98zM9 48h5V54H9zM29 52h2V54H29zM96 52h4V54H96zM0 42h2V56H0zM28 54h1V56H28zM46 52h2V56H46zM84 50h4V56H84zM96 54h3V56H96zM27 56h2V58H27zM8 54h6V60H8zM25 58h3V60H25zM62 52h4V60H62zM24 60h2V62H24zM78 48h2V62H78zM8 60h8V64H8zM23 62h3V64H23zM62 60h8V64H62zM84 56h6V64H84zM78 62h1V66H78zM14 64h2V68H14zM22 64h2V68H22zM60 64h12V68H60zM77 66h1V68H77zM88 64h2V68H88zM0 56h4V72H0zM14 68h10V72H14zM60 68h4V72H60zM66 68h8V72H66zM94 56h4V72H94zM97 72h4V74H97zM8 64h4V76H8zM16 72h8V78H16zM2 72h2V80H2zM8 76h6V80H8zM16 78h7V80H16zM50 72h4V80H50zM56 72h6V80H56zM66 72h2V80H66zM70 72h4V80H70zM76 68h2V80H76zM88 68h4V80H88zM94 72h2V80H94zM98 74h4V80H98z"/>
<path fill="#b72029" d="M19 0h3V2H19zM30 0h2V2H30zM29 2h12V3H29zM64 2h8V3H64zM28 3h14V4H28zM64 3h7V4H64zM20 2h2V5H20zM27 4h16V5H27zM59 4h9V5H59zM27 5h17V6H27zM28 6h16V7H28zM86 6h18V7H86zM29 7h12V8H29zM91 7h4V8H91zM97 7h7V8H97zM100 8h4V9H100zM101 9h3V10H101zM102 10h2V11H102zM103 11h1V12H103z"/>
</g>
</g>
<path d="M116.5,333.7 L129.0,339.2 L144.5,343.6 L155.5,341.4 L162.0,335.9 L163.8,332.2" fill="none" stroke="#505050" stroke-width="4.2" stroke-linejoin="round" stroke-linecap="butt"/>
<path d="M116.5,355.7 L124.6,360.1 L137.8,377.7 L148.8,402.0 L159.8,426.2 L173.0,452.6 L181.8,474.6 L192.9,492.2 L208.3,504.3 L221.5,508.7 L234.7,505.4 L252.3,494.4 L269.9,479.0 L287.5,457.0 L300.7,435.0 L306.2,421.8 L305.1,413.0 L298.5,410.3 L283.1,411.2 L265.5,414.1 L247.9,416.3 L232.5,415.2 L221.5,410.8 L210.5,399.8 L201.7,382.2 L197.3,362.3 L198.4,346.9 L200.6,332.2" fill="none" stroke="#505050" stroke-width="1.3" stroke-linejoin="round" stroke-linecap="butt"/>
<path d="M221.5,332.2 L222.6,346.9 L228.1,360.1 L239.1,368.9 L254.5,374.4 L264.4,376.0" fill="none" stroke="#505050" stroke-width="4.2" stroke-linejoin="round" stroke-linecap="butt"/>
<path d="M304.0,375.1 L318.4,368.9 L336.0,364.5 L349.2,362.3 L373.8,363.4 L384.8,356.8 L395.8,349.1 L409.0,346.9 L417.8,354.6 L431.0,363.4 L442.0,370.0 L450.9,372.2 L461.9,375.5 L470.7,381.0 L477.3,378.8 L490.5,382.2 L501.5,381.0 L510.3,375.5 L516.9,364.5 L519.1,351.3 L516.9,340.3 L512.5,332.2" fill="none" stroke="#505050" stroke-width="4.2" stroke-linejoin="round" stroke-linecap="butt"/>
<path d="M245.7,332.2 L247.9,340.3 L258.9,349.1 L278.7,355.7 L298.5,359.0 L318.4,354.6 L333.8,348.0 L334.9,343.6 L327.2,339.2 L318.4,334.8 L314.0,332.2" fill="none" stroke="#505050" stroke-width="1.3" stroke-linejoin="round" stroke-linecap="butt"/>
<path d="M348.5,332.2 L361.5,334.2 L373.8,337.0 L387.0,339.2 L392.5,340.2" fill="none" stroke="#505050" stroke-width="4.2" stroke-linejoin="round" stroke-linecap="butt"/>
<path d="M430.5,338.7 L434.5,337.5 L442.0,332.2" fill="none" stroke="#505050" stroke-width="4.2" stroke-linejoin="round" stroke-linecap="butt"/>
<path d="M457.5,332.2 L450.9,340.3 L448.7,346.9 L457.5,351.3 L468.5,353.1 L479.5,350.2 L488.3,342.5 L489.4,333.7 L487.2,332.2" fill="none" stroke="#505050" stroke-width="1.3" stroke-linejoin="round" stroke-linecap="butt"/>
<path d="M538.9,332.2 L543.3,339.2 L552.1,345.8 L565.3,349.1" fill="none" stroke="#505050" stroke-width="4.2" stroke-linejoin="round" stroke-linecap="butt"/>
<path d="M602.8,342.5 L610.5,335.9 L612.7,332.2" fill="none" stroke="#505050" stroke-width="4.2" stroke-linejoin="round" stroke-linecap="butt"/>
<path d="M530.1,332.2 L536.7,344.7 L542.2,357.9 L542.2,373.3 L537.8,386.5 L544.5,390.9 L548.8,389.8 L545.5,399.7 L554.3,410.8 L562.0,417.4 L571.9,419.6 L583.0,422.9 L586.3,418.5 L591.8,401.9 L596.2,384.3 L600.6,373.3 L607.2,360.1 L611.6,346.9 L618.2,338.1 L629.2,334.8 L633.8,333.7" fill="none" stroke="#505050" stroke-width="1.3" stroke-linejoin="round" stroke-linecap="butt"/>
<path d="M619.0,374.2 L619.5,362.2 L620.7,354.2 L623.0,352.2 L625.0,356.2 L625.3,372.2 L624.8,387.2 L623.8,403.2 L623.3,408.2" fill="none" stroke="#505050" stroke-width="4.2" stroke-linejoin="round" stroke-linecap="butt"/>
<text x="284.2" y="386.6" font-size="23.5" text-anchor="middle" fill="#000">35</text>
<text x="412.3" y="349.8" font-size="23.5" text-anchor="middle" fill="#000">35</text>
<text x="586.3" y="356.4" font-size="23.5" text-anchor="middle" fill="#000">34</text>
<text x="619.8" y="401.9" font-size="23.5" text-anchor="middle" fill="#000" transform="rotate(90 619.8 393.5)">35</text>
</g>
<rect x="116.50" y="332.20" width="517.30" height="248.10" fill="none" stroke="#262626" stroke-width="1.3"/>
<line x1="136.40" y1="580.30" x2="136.40" y2="585.30" stroke="#262626" stroke-width="1.3"/>
<line x1="136.40" y1="332.20" x2="136.40" y2="327.20" stroke="#262626" stroke-width="1.3"/>
<line x1="255.77" y1="580.30" x2="255.77" y2="585.30" stroke="#262626" stroke-width="1.3"/>
<line x1="255.77" y1="332.20" x2="255.77" y2="327.20" stroke="#262626" stroke-width="1.3"/>
<line x1="375.15" y1="580.30" x2="375.15" y2="585.30" stroke="#262626" stroke-width="1.3"/>
<line x1="375.15" y1="332.20" x2="375.15" y2="327.20" stroke="#262626" stroke-width="1.3"/>
<line x1="494.53" y1="580.30" x2="494.53" y2="585.30" stroke="#262626" stroke-width="1.3"/>
<line x1="494.53" y1="332.20" x2="494.53" y2="327.20" stroke="#262626" stroke-width="1.3"/>
<line x1="613.90" y1="580.30" x2="613.90" y2="585.30" stroke="#262626" stroke-width="1.3"/>
<line x1="613.90" y1="332.20" x2="613.90" y2="327.20" stroke="#262626" stroke-width="1.3"/>
<line x1="116.50" y1="332.20" x2="111.50" y2="332.20" stroke="#262626" stroke-width="1.3"/>
<line x1="633.80" y1="332.20" x2="638.80" y2="332.20" stroke="#262626" stroke-width="1.3"/>
<line x1="116.50" y1="394.22" x2="111.50" y2="394.22" stroke="#262626" stroke-width="1.3"/>
<line x1="633.80" y1="394.22" x2="638.80" y2="394.22" stroke="#262626" stroke-width="1.3"/>
<line x1="116.50" y1="456.25" x2="111.50" y2="456.25" stroke="#262626" stroke-width="1.3"/>
<line x1="633.80" y1="456.25" x2="638.80" y2="456.25" stroke="#262626" stroke-width="1.3"/>
<line x1="116.50" y1="518.27" x2="111.50" y2="518.27" stroke="#262626" stroke-width="1.3"/>
<line x1="633.80" y1="518.27" x2="638.80" y2="518.27" stroke="#262626" stroke-width="1.3"/>
<line x1="116.50" y1="580.30" x2="111.50" y2="580.30" stroke="#262626" stroke-width="1.3"/>
<line x1="633.80" y1="580.30" x2="638.80" y2="580.30" stroke="#262626" stroke-width="1.3"/>
<text x="99.2" y="342.5" font-size="27" text-anchor="end" fill="#262626">0</text>
<text x="99.2" y="404.5" font-size="27" text-anchor="end" fill="#262626">500</text>
<text x="99.2" y="466.6" font-size="27" text-anchor="end" fill="#262626">1000</text>
<text x="99.2" y="528.6" font-size="27" text-anchor="end" fill="#262626">1500</text>
<text x="99.2" y="590.6" font-size="27" text-anchor="end" fill="#262626">2000</text>
<text x="24.3" y="456.2" font-size="28.5" text-anchor="middle" fill="#262626" transform="rotate(-90 24.3 456.2)">Depth</text>
<text x="375.1" y="323.5" font-size="29.5" text-anchor="middle" fill="#000">EN4</text>
<text x="47.3" y="323.0" font-size="30.5" font-weight="bold" fill="#000">C</text>
<clipPath id="clipD"><rect x="654.70" y="332.20" width="517.30" height="248.10"/></clipPath>
<g clip-path="url(#clipD)">
<rect x="654.70" y="332.20" width="517.30" height="248.10" fill="#fdf0dc"/>
<g shape-rendering="crispEdges">
<g transform="translate(654.70,332.20) scale(4.97404,3.10125)">
<path fill="#82cde4" d="M6 0h2V1H6zM54 0h1V1H54zM87 0h3V1H87zM0 0h4V2H0zM6 1h3V2H6zM10 0h2V2H10zM8 2h4V3H8zM9 3h2V4H9zM30 14h3V15H30zM36 14h4V15H36zM30 15h1V16H30zM32 15h2V16H32zM35 15h1V16H35zM30 16h6V17H30zM38 15h2V17H38zM30 17h9V18H30zM78 76h2V80H78z"/>
<path fill="#3bbde4" d="M8 0h2V1H8zM53 0h1V1H53zM9 1h1V2H9zM31 15h1V16H31zM36 15h2V17H36z"/>
<path fill="#ea6e5a" d="M28 0h5V1H28zM66 0h2V1H66zM84 0h1V1H84zM94 0h1V1H94zM28 1h6V2H28zM50 1h1V2H50zM65 1h3V2H65zM74 0h2V2H74zM78 0h2V2H78zM24 2h2V3H24zM28 2h2V3H28zM63 2h5V3H63zM74 2h1V3H74zM78 2h4V3H78zM86 2h2V3H86zM93 2h1V3H93zM25 3h1V4H25zM28 3h3V4H28zM33 2h1V4H33zM62 3h2V4H62zM66 3h3V4H66zM79 3h4V4H79zM30 4h4V5H30zM49 2h1V5H49zM52 3h1V5H52zM62 4h1V5H62zM66 4h1V5H66zM69 4h4V5H69zM62 5h4V6H62zM82 4h2V6H82zM82 6h4V7H82zM82 7h5V8H82zM84 8h10V9H84zM84 9h1V10H84zM93 9h3V10H93zM96 10h2V11H96zM97 11h2V12H97zM98 12h1V13H98zM80 12h2V14H80zM98 13h2V14H98zM99 14h1V15H99zM79 14h5V16H79zM80 16h4V18H80zM82 18h2V19H82zM100 15h1V19H100zM100 19h2V22H100zM101 22h2V24H101zM102 24h2V26H102z"/>
<path fill="#f3a674" d="M33 0h1V1H33zM50 0h1V1H50zM62 0h4V1H62zM22 0h6V2H22zM49 1h1V2H49zM51 1h1V2H51zM62 1h3V2H62zM76 0h2V2H76zM85 1h1V2H85zM22 2h2V3H22zM34 1h1V3H34zM41 2h1V3H41zM52 2h1V3H52zM60 2h3V3H60zM75 2h3V3H75zM88 2h5V3H88zM22 3h3V4H22zM26 2h2V4H26zM40 3h2V4H40zM74 3h5V4H74zM18 0h2V5H18zM24 4h6V5H24zM34 3h2V5H34zM48 2h1V5H48zM53 3h1V5H53zM60 3h2V5H60zM67 4h2V5H67zM73 4h2V5H73zM18 5h1V6H18zM24 5h11V6H24zM48 5h2V6H48zM52 5h1V6H52zM61 5h1V6H61zM66 5h7V6H66zM49 6h4V7H49zM62 6h4V7H62zM78 4h4V8H78zM78 8h6V10H78zM85 9h8V10H85zM78 10h8V11H78zM93 10h3V11H93zM78 11h7V12H78zM96 11h1V12H96zM82 12h3V13H82zM78 12h2V14H78zM82 13h4V14H82zM96 12h2V14H96zM96 14h3V15H96zM78 14h1V16H78zM78 16h2V18H78zM84 14h2V18H84zM92 16h2V18H92zM78 18h4V19H78zM84 18h1V19H84zM79 19h5V20H79zM96 15h4V20H96zM82 20h1V22H82zM98 20h2V22H98zM98 22h3V24H98zM100 24h2V26H100zM100 26h4V28H100z"/>
<path fill="#f9cd93" d="M34 0h2V1H34zM46 0h4V1H46zM51 0h1V1H51zM85 0h1V1H85zM35 1h1V2H35zM40 0h4V2H40zM46 1h3V2H46zM59 0h3V2H59zM93 1h1V2H93zM35 2h6V3H35zM53 2h1V3H53zM20 0h2V4H20zM36 3h4V4H36zM42 2h6V4H42zM58 2h2V4H58zM20 4h4V5H20zM36 4h12V5H36zM54 3h2V5H54zM59 4h1V5H59zM75 4h3V5H75zM17 0h1V6H17zM19 5h5V6H19zM35 5h13V6H35zM53 5h2V6H53zM60 5h1V6H60zM73 5h5V6H73zM0 5h2V7H0zM17 6h3V7H17zM22 6h14V7H22zM46 6h3V7H46zM53 6h1V7H53zM60 6h2V7H60zM66 6h7V7H66zM0 7h1V8H0zM17 7h2V8H17zM23 7h13V8H23zM38 6h4V8H38zM49 7h4V8H49zM86 10h1V11H86zM90 10h3V11H90zM76 6h2V12H76zM85 11h1V13H85zM86 13h1V14H86zM74 12h4V16H74zM90 11h6V16H90zM76 16h2V18H76zM86 14h2V18H86zM90 16h2V18H90zM94 16h2V18H94zM77 18h1V19H77zM85 18h11V19H85zM78 19h1V20H78zM84 19h12V20H84zM79 20h3V22H79zM83 20h5V22H83zM81 22h7V24H81zM90 20h8V24H90zM84 24h2V26H84zM88 24h12V28H88zM88 28h8V30H88zM98 28h6V30H98zM88 30h7V32H88zM99 30h5V32H99z"/>
<path fill="#a8dbea" d="M52 0h1V1H52zM55 0h1V1H55zM90 0h2V1H90zM4 0h2V2H4zM53 1h2V2H53zM0 2h8V3H0zM12 0h2V3H12zM4 3h5V4H4zM11 3h2V4H11zM8 4h4V5H8zM66 9h2V10H66zM66 10h3V12H66zM28 11h4V13H28zM34 12h8V13H34zM28 13h14V14H28zM64 12h4V14H64zM33 14h3V15H33zM28 14h2V16H28zM34 15h1V16H34zM27 16h3V17H27zM40 14h2V17H40zM66 14h2V17H66zM26 17h4V18H26zM39 17h3V18H39zM67 17h1V18H67zM14 16h2V20H14zM26 18h14V20H26zM14 20h5V22H14zM14 22h6V24H14zM26 20h8V24H26zM16 24h14V28H16zM18 28h12V32H18zM18 32h10V44H18zM22 44h4V48H22zM78 48h4V68H78zM76 68h10V72H76zM76 72h12V76H76zM76 76h2V80H76zM80 76h8V80H80z"/>
<path fill="#c6e8f5" d="M56 0h1V1H56zM86 0h1V1H86zM92 0h1V1H92zM55 1h2V2H55zM87 1h4V2H87zM14 0h1V3H14zM0 3h4V4H0zM13 3h2V4H13zM4 4h4V5H4zM12 4h2V5H12zM5 5h9V6H5zM11 6h3V7H11zM12 7h2V8H12zM12 8h3V9H12zM66 8h3V9H66zM55 9h1V10H55zM65 9h1V10H65zM68 9h2V10H68zM27 10h6V11H27zM46 10h5V11H46zM61 10h5V11H61zM12 9h4V12H12zM32 11h12V12H32zM46 11h6V12H46zM60 11h6V12H60zM69 10h1V12H69zM12 12h5V13H12zM27 11h1V13H27zM32 12h2V13H32zM42 12h10V14H42zM54 12h2V14H54zM62 12h2V14H62zM12 13h6V16H12zM26 13h2V16H26zM42 14h12V16H42zM62 14h4V16H62zM68 12h2V16H68zM24 16h3V17H24zM64 16h2V17H64zM68 16h3V17H68zM6 14h2V18H6zM16 16h4V18H16zM24 17h2V18H24zM42 16h6V18H42zM50 16h4V18H50zM64 17h3V18H64zM68 17h4V18H68zM16 18h10V20H16zM40 18h4V20H40zM46 18h8V20H46zM19 20h7V22H19zM6 18h4V24H6zM12 16h2V24H12zM20 22h6V24H20zM34 20h8V24H34zM48 20h6V24H48zM66 18h6V24H66zM70 24h2V26H70zM8 24h8V28H8zM30 24h8V28H30zM78 28h1V30H78zM8 28h2V32H8zM14 28h4V32H14zM30 28h6V32H30zM52 28h2V32H52zM78 30h2V32H78zM0 32h1V34H0zM80 36h2V40H80zM0 34h2V44H0zM8 32h10V44H8zM28 32h8V44H28zM50 32h4V44H50zM78 40h4V44H78zM84 34h2V44H84zM102 40h2V44H102zM8 44h4V48H8zM14 44h8V48H14zM26 44h4V48H26zM76 44h10V48H76zM82 48h4V52H82zM76 48h2V56H76zM82 52h8V56H82zM74 56h4V68H74zM82 56h10V68H82zM8 48h20V72H8zM86 68h8V72H86zM0 44h4V80H0zM8 72h16V80H8zM52 56h2V80H52zM72 68h4V80H72zM88 72h8V80H88z"/>
<path fill="#e4444a" d="M80 0h2V1H80zM83 0h1V1H83zM80 1h5V2H80zM30 2h3V3H30zM68 0h2V3H68zM73 0h1V3H73zM82 2h4V3H82zM94 1h1V3H94zM31 3h2V4H31zM64 3h2V4H64zM69 3h5V4H69zM83 3h2V4H83zM88 3h6V4H88zM63 4h3V5H63zM84 4h2V5H84zM50 2h2V6H50zM84 5h3V6H84zM86 6h8V7H86zM87 7h8V8H87zM94 8h4V9H94zM96 9h3V10H96zM98 10h2V11H98zM99 11h1V13H99zM100 13h1V14H100zM100 14h2V15H100zM101 15h1V19H101zM102 19h1V20H102zM102 20h2V22H102zM103 22h1V24H103z"/>
<path fill="#e13346" d="M82 0h1V1H82zM102 0h2V2H102zM70 0h3V3H70zM95 0h1V3H95zM85 3h3V4H85zM94 3h2V4H94zM86 4h10V5H86zM87 5h9V6H87zM94 6h4V7H94zM95 7h4V8H95zM98 8h2V9H98zM99 9h2V10H99zM100 10h2V13H100zM101 13h2V14H101zM102 14h2V19H102zM103 19h1V20H103z"/>
<path fill="#fce3b8" d="M93 0h1V1H93zM36 0h4V2H36zM44 0h2V2H44zM58 0h1V2H58zM86 1h1V2H86zM54 2h4V3H54zM56 3h2V4H56zM0 4h2V5H0zM56 4h3V5H56zM55 5h5V6H55zM2 5h2V7H2zM20 6h2V7H20zM42 6h4V7H42zM54 6h2V7H54zM58 6h2V7H58zM73 6h3V7H73zM1 7h3V8H1zM16 0h1V8H16zM19 7h4V8H19zM36 6h2V8H36zM42 7h7V8H42zM53 7h2V8H53zM58 7h18V8H58zM16 8h4V9H16zM22 8h22V9H22zM49 8h5V9H49zM58 8h3V9H58zM17 9h3V10H17zM22 9h2V10H22zM58 9h1V10H58zM70 8h3V10H70zM74 8h2V10H74zM18 10h7V11H18zM71 10h5V11H71zM87 10h3V11H87zM0 8h2V12H0zM19 11h6V12H19zM72 11h4V12H72zM86 11h2V12H86zM89 11h1V12H89zM86 12h4V13H86zM22 12h3V14H22zM87 13h3V14H87zM72 12h2V16H72zM72 16h4V17H72zM73 17h3V18H73zM88 14h2V18H88zM74 18h3V19H74zM58 18h2V20H58zM74 19h4V20H74zM57 20h6V22H57zM77 20h2V22H77zM0 12h4V24H0zM78 22h3V24H78zM88 20h2V24H88zM80 24h4V26H80zM86 24h2V26H86zM81 26h7V28H81zM2 24h2V30H2zM68 28h3V30H68zM82 28h6V30H82zM96 28h2V30H96zM3 30h1V32H3zM56 22h8V32H56zM68 30h4V32H68zM82 30h1V32H82zM86 30h2V32H86zM95 30h4V32H95zM86 32h18V34H86zM58 32h6V36H58zM68 32h6V36H68zM87 34h17V36H87zM90 36h2V40H90zM66 36h8V44H66zM88 40h2V44H88zM66 44h6V48H66zM62 48h12V52H62zM102 48h2V60H102zM100 60h4V72H100zM100 72h2V76H100zM58 44h2V80H58z"/>
<path fill="#e01f35" d="M96 0h6V2H96zM96 2h8V6H96zM98 6h6V7H98zM99 7h5V8H99zM100 8h4V9H100zM101 9h3V10H101zM102 10h2V13H102zM103 13h1V14H103z"/>
</g>
</g>
<path d="M654.7,333.7 L667.2,339.2 L682.7,343.6 L693.7,341.4 L700.2,335.9 L702.0,332.2" fill="none" stroke="#505050" stroke-width="4.2" stroke-linejoin="round" stroke-linecap="butt"/>
<path d="M654.7,355.7 L662.8,360.1 L676.0,377.7 L687.0,402.0 L698.0,426.2 L711.2,452.6 L720.0,474.6 L731.1,492.2 L746.5,504.3 L759.7,508.7 L772.9,505.4 L790.5,494.4 L808.1,479.0 L825.7,457.0 L838.9,435.0 L844.4,421.8 L843.3,413.0 L836.7,410.3 L821.3,411.2 L803.7,414.1 L786.1,416.3 L770.7,415.2 L759.7,410.8 L748.7,399.8 L739.9,382.2 L735.5,362.3 L736.6,346.9 L738.8,332.2" fill="none" stroke="#505050" stroke-width="1.3" stroke-linejoin="round" stroke-linecap="butt"/>
<path d="M759.7,332.2 L760.8,346.9 L766.3,360.1 L777.3,368.9 L792.7,374.4 L802.6,376.0" fill="none" stroke="#505050" stroke-width="4.2" stroke-linejoin="round" stroke-linecap="butt"/>
<path d="M842.2,375.1 L856.6,368.9 L874.2,364.5 L887.4,362.3 L912.0,363.4 L923.0,356.8 L934.0,349.1 L947.2,346.9 L956.0,354.6 L969.2,363.4 L980.2,370.0 L989.1,372.2 L1000.1,375.5 L1008.9,381.0 L1015.5,378.8 L1028.7,382.2 L1039.7,381.0 L1048.5,375.5 L1055.1,364.5 L1057.3,351.3 L1055.1,340.3 L1050.7,332.2" fill="none" stroke="#505050" stroke-width="4.2" stroke-linejoin="round" stroke-linecap="butt"/>
<path d="M783.9,332.2 L786.1,340.3 L797.1,349.1 L816.9,355.7 L836.7,359.0 L856.6,354.6 L872.0,348.0 L873.1,343.6 L865.4,339.2 L856.6,334.8 L852.2,332.2" fill="none" stroke="#505050" stroke-width="1.3" stroke-linejoin="round" stroke-linecap="butt"/>
<path d="M886.7,332.2 L899.7,334.2 L912.0,337.0 L925.2,339.2 L930.7,340.2" fill="none" stroke="#505050" stroke-width="4.2" stroke-linejoin="round" stroke-linecap="butt"/>
<path d="M968.7,338.7 L972.7,337.5 L980.2,332.2" fill="none" stroke="#505050" stroke-width="4.2" stroke-linejoin="round" stroke-linecap="butt"/>
<path d="M995.7,332.2 L989.1,340.3 L986.9,346.9 L995.7,351.3 L1006.7,353.1 L1017.7,350.2 L1026.5,342.5 L1027.6,333.7 L1025.4,332.2" fill="none" stroke="#505050" stroke-width="1.3" stroke-linejoin="round" stroke-linecap="butt"/>
<path d="M1077.1,332.2 L1081.5,339.2 L1090.3,345.8 L1103.5,349.1" fill="none" stroke="#505050" stroke-width="4.2" stroke-linejoin="round" stroke-linecap="butt"/>
<path d="M1141.0,342.5 L1148.7,335.9 L1150.9,332.2" fill="none" stroke="#505050" stroke-width="4.2" stroke-linejoin="round" stroke-linecap="butt"/>
<path d="M1068.3,332.2 L1074.9,344.7 L1080.4,357.9 L1080.4,373.3 L1076.0,386.5 L1082.7,390.9 L1087.0,389.8 L1083.7,399.7 L1092.5,410.8 L1100.2,417.4 L1110.1,419.6 L1121.2,422.9 L1124.5,418.5 L1130.0,401.9 L1134.4,384.3 L1138.8,373.3 L1145.4,360.1 L1149.8,346.9 L1156.4,338.1 L1167.4,334.8 L1172.0,333.7" fill="none" stroke="#505050" stroke-width="1.3" stroke-linejoin="round" stroke-linecap="butt"/>
<path d="M1157.2,374.2 L1157.7,362.2 L1158.9,354.2 L1161.2,352.2 L1163.2,356.2 L1163.5,372.2 L1163.0,387.2 L1162.0,403.2 L1161.5,408.2" fill="none" stroke="#505050" stroke-width="4.2" stroke-linejoin="round" stroke-linecap="butt"/>
<text x="822.4" y="386.6" font-size="23.5" text-anchor="middle" fill="#000">35</text>
<text x="950.5" y="349.8" font-size="23.5" text-anchor="middle" fill="#000">35</text>
<text x="1124.5" y="356.4" font-size="23.5" text-anchor="middle" fill="#000">34</text>
<text x="1158.0" y="401.9" font-size="23.5" text-anchor="middle" fill="#000" transform="rotate(90 1158.0 393.5)">35</text>
</g>
<rect x="654.70" y="332.20" width="517.30" height="248.10" fill="none" stroke="#262626" stroke-width="1.3"/>
<line x1="674.60" y1="580.30" x2="674.60" y2="585.30" stroke="#262626" stroke-width="1.3"/>
<line x1="674.60" y1="332.20" x2="674.60" y2="327.20" stroke="#262626" stroke-width="1.3"/>
<line x1="793.97" y1="580.30" x2="793.97" y2="585.30" stroke="#262626" stroke-width="1.3"/>
<line x1="793.97" y1="332.20" x2="793.97" y2="327.20" stroke="#262626" stroke-width="1.3"/>
<line x1="913.35" y1="580.30" x2="913.35" y2="585.30" stroke="#262626" stroke-width="1.3"/>
<line x1="913.35" y1="332.20" x2="913.35" y2="327.20" stroke="#262626" stroke-width="1.3"/>
<line x1="1032.73" y1="580.30" x2="1032.73" y2="585.30" stroke="#262626" stroke-width="1.3"/>
<line x1="1032.73" y1="332.20" x2="1032.73" y2="327.20" stroke="#262626" stroke-width="1.3"/>
<line x1="1152.10" y1="580.30" x2="1152.10" y2="585.30" stroke="#262626" stroke-width="1.3"/>
<line x1="1152.10" y1="332.20" x2="1152.10" y2="327.20" stroke="#262626" stroke-width="1.3"/>
<line x1="654.70" y1="332.20" x2="649.70" y2="332.20" stroke="#262626" stroke-width="1.3"/>
<line x1="1172.00" y1="332.20" x2="1177.00" y2="332.20" stroke="#262626" stroke-width="1.3"/>
<line x1="654.70" y1="394.22" x2="649.70" y2="394.22" stroke="#262626" stroke-width="1.3"/>
<line x1="1172.00" y1="394.22" x2="1177.00" y2="394.22" stroke="#262626" stroke-width="1.3"/>
<line x1="654.70" y1="456.25" x2="649.70" y2="456.25" stroke="#262626" stroke-width="1.3"/>
<line x1="1172.00" y1="456.25" x2="1177.00" y2="456.25" stroke="#262626" stroke-width="1.3"/>
<line x1="654.70" y1="518.27" x2="649.70" y2="518.27" stroke="#262626" stroke-width="1.3"/>
<line x1="1172.00" y1="518.27" x2="1177.00" y2="518.27" stroke="#262626" stroke-width="1.3"/>
<line x1="654.70" y1="580.30" x2="649.70" y2="580.30" stroke="#262626" stroke-width="1.3"/>
<line x1="1172.00" y1="580.30" x2="1177.00" y2="580.30" stroke="#262626" stroke-width="1.3"/>
<text x="913.4" y="323.5" font-size="29.5" text-anchor="middle" fill="#000">Ishii</text>
<text x="633.8" y="323.0" font-size="30.5" font-weight="bold" fill="#000">D</text>
<clipPath id="clipE"><rect x="116.50" y="631.50" width="517.30" height="248.10"/></clipPath>
<g clip-path="url(#clipE)">
<rect x="116.50" y="631.50" width="517.30" height="248.10" fill="#fdf0dc"/>
<g shape-rendering="crispEdges">
<g transform="translate(116.50,631.50) scale(4.97404,3.10125)">
<path fill="#3650a0" d="M0 0h10V1H0zM56 0h6V1H56zM1 1h9V2H1zM12 0h2V2H12zM4 2h2V3H4zM5 3h2V4H5zM13 2h1V4H13zM6 4h8V5H6zM7 5h6V6H7z"/>
<path fill="#e13346" d="M19 0h1V1H19zM50 0h1V1H50zM83 0h2V1H83zM98 0h1V1H98zM19 1h2V2H19zM65 0h1V2H65zM82 1h3V2H82zM20 2h2V3H20zM26 0h2V3H26zM51 2h1V3H51zM64 2h1V3H64zM74 0h1V3H74zM85 2h1V3H85zM25 3h3V4H25zM56 3h3V4H56zM71 3h3V4H71zM21 3h1V5H21zM24 4h2V5H24zM49 1h1V5H49zM56 4h1V5H56zM58 4h2V5H58zM64 4h2V5H64zM68 4h3V5H68zM22 5h2V6H22zM50 5h2V6H50zM54 5h1V6H54zM61 5h2V6H61zM82 2h1V6H82zM22 6h1V7H22zM52 6h2V7H52zM81 6h3V7H81zM88 3h1V7H88zM97 1h1V7H97zM80 7h4V8H80zM85 7h2V8H85zM78 8h2V9H78zM84 8h1V9H84zM77 9h1V10H77zM83 9h2V10H83zM98 7h1V11H98zM76 11h1V12H76zM82 10h2V12H82zM76 12h2V13H76zM80 12h4V13H80zM93 11h1V13H93zM77 13h2V14H77zM80 13h3V14H80zM78 14h5V15H78zM99 11h1V15H99zM79 15h4V16H79zM79 16h3V17H79zM79 17h2V18H79zM100 15h1V18H100zM100 18h2V19H100zM101 19h1V20H101zM101 20h3V22H101zM103 22h1V24H103z"/>
<path fill="#e01f35" d="M20 0h6V1H20zM99 0h5V1H99zM21 1h5V2H21zM66 0h8V2H66zM22 2h4V3H22zM50 1h1V3H50zM65 2h9V3H65zM83 2h2V3H83zM22 3h3V4H22zM59 3h12V4H59zM98 1h6V4H98zM22 4h2V5H22zM50 3h6V5H50zM60 4h4V5H60zM66 4h2V5H66zM52 5h2V6H52zM83 3h5V6H83zM84 6h4V7H84zM98 4h2V7H98zM84 7h1V8H84zM102 4h2V8H102zM80 8h4V9H80zM78 9h5V10H78zM99 7h1V11H99zM77 10h5V12H77zM78 12h2V13H78zM79 13h1V14H79zM100 11h1V14H100zM100 14h2V15H100zM101 15h1V17H101zM101 17h2V18H101zM102 18h2V20H102z"/>
<path fill="#f3a674" d="M34 0h4V1H34zM51 0h1V1H51zM64 0h1V1H64zM76 0h1V1H76zM85 0h1V1H85zM34 1h5V2H34zM47 0h1V2H47zM36 2h4V3H36zM46 2h1V3H46zM55 2h8V3H55zM88 2h1V3H88zM95 0h1V3H95zM18 2h1V4H18zM35 3h4V4H35zM42 3h2V4H42zM45 3h1V4H45zM80 0h1V4H80zM89 3h1V4H89zM33 4h3V5H33zM90 4h1V5H90zM94 3h1V5H94zM32 5h4V6H32zM38 4h2V6H38zM43 4h3V6H43zM69 5h2V6H69zM25 6h24V7H25zM55 6h1V7H55zM61 6h3V7H61zM35 7h6V8H35zM50 7h1V8H50zM54 7h1V8H54zM92 5h2V8H92zM19 6h1V9H19zM36 8h2V9H36zM39 8h2V9H39zM52 8h2V9H52zM87 8h1V9H87zM90 8h2V9H90zM23 8h1V10H23zM38 9h2V10H38zM86 9h1V10H86zM20 9h1V11H20zM22 10h1V11H22zM75 10h1V11H75zM20 11h3V12H20zM20 12h2V13H20zM21 13h1V14H21zM74 12h1V15H74zM90 9h1V15H90zM75 15h2V16H75zM76 16h1V17H76zM96 16h2V17H96zM85 12h1V18H85zM90 15h2V18H90zM95 17h3V18H95zM77 17h1V19H77zM97 18h1V19H97zM78 19h1V20H78zM84 18h2V20H84zM90 18h6V20H90zM78 20h2V22H78zM82 20h3V22H82zM98 19h1V22H98zM90 20h4V26H90zM98 22h2V26H98zM91 26h2V28H91zM99 26h2V28H99zM100 28h2V32H100zM100 32h4V34H100zM101 34h3V36H101zM102 36h2V40H102zM101 48h1V50H101zM100 50h2V64H100z"/>
<path fill="#f9cd93" d="M38 0h1V1H38zM77 0h3V1H77zM76 1h1V2H76zM79 1h1V2H79zM40 2h2V3H40zM94 1h1V3H94zM44 3h1V4H44zM75 3h1V4H75zM93 3h1V4H93zM74 4h1V5H74zM79 4h1V5H79zM91 4h3V5H91zM36 4h2V6H36zM71 5h2V6H71zM18 4h1V7H18zM56 6h5V7H56zM64 6h2V7H64zM78 5h1V7H78zM0 7h1V8H0zM24 7h1V8H24zM27 7h8V8H27zM41 7h9V8H41zM55 7h1V8H55zM77 7h1V8H77zM35 8h1V9H35zM41 8h1V9H41zM51 8h1V9H51zM54 8h1V9H54zM76 8h1V9H76zM88 8h2V9H88zM36 9h2V10H36zM40 9h1V10H40zM58 10h1V11H58zM23 10h1V12H23zM74 11h1V12H74zM19 9h1V13H19zM20 13h1V14H20zM22 12h1V14H22zM89 12h1V14H89zM20 14h3V15H20zM73 13h1V15H73zM21 15h2V16H21zM73 15h2V16H73zM86 10h1V16H86zM88 14h2V16H88zM74 16h2V17H74zM75 17h2V18H75zM76 18h1V19H76zM96 18h1V19H96zM76 19h2V20H76zM86 16h4V20H86zM96 19h2V20H96zM77 20h1V22H77zM85 20h5V22H85zM78 22h12V24H78zM88 24h2V26H88zM94 20h4V26H94zM66 26h2V28H66zM88 26h3V28H88zM93 26h6V28H93zM66 28h3V30H66zM90 28h3V30H90zM66 30h4V32H66zM66 32h5V34H66zM98 28h2V34H98zM90 30h2V36H90zM98 34h3V36H98zM66 34h6V38H66zM90 36h4V38H90zM67 38h5V40H67zM100 36h2V40H100zM68 40h4V44H68zM100 40h4V48H100zM100 48h1V50H100zM99 50h1V52H99zM98 52h2V56H98zM96 56h4V60H96zM98 60h2V64H98zM102 48h2V64H102zM98 64h6V68H98zM100 68h4V72H100zM100 72h2V80H100z"/>
<path fill="#a8dbea" d="M40 0h1V1H40zM45 0h1V1H45zM86 0h1V1H86zM92 0h1V1H92zM44 1h1V2H44zM87 1h1V2H87zM90 2h1V3H90zM77 3h1V4H77zM0 4h1V5H0zM76 5h1V6H76zM3 6h1V7H3zM69 6h4V7H69zM74 6h2V7H74zM66 7h1V8H66zM4 8h1V9H4zM64 8h2V9H64zM74 7h1V9H74zM62 9h1V10H62zM5 9h1V11H5zM61 10h2V11H61zM73 10h1V11H73zM29 11h4V12H29zM72 11h1V12H72zM6 11h1V13H6zM17 10h1V13H17zM33 12h4V13H33zM61 11h1V13H61zM70 12h1V13H70zM28 12h2V14H28zM37 13h2V14H37zM62 13h1V14H62zM26 14h4V15H26zM39 14h1V15H39zM62 14h3V15H62zM5 13h1V16H5zM18 14h1V16H18zM26 15h3V16H26zM40 15h1V16H40zM63 15h4V16H63zM66 16h2V17H66zM69 13h1V17H69zM67 17h3V18H67zM4 16h2V20H4zM19 17h1V20H19zM26 16h2V20H26zM40 16h2V20H40zM68 18h2V20H68zM5 20h2V22H5zM23 20h5V22H23zM40 20h1V22H40zM6 22h2V24H6zM18 20h1V24H18zM22 22h2V24H22zM26 22h2V24H26zM39 22h1V24H39zM6 24h3V26H6zM17 24h1V26H17zM37 24h2V26H37zM7 26h11V28H7zM22 24h8V28H22zM35 26h3V28H35zM8 28h4V32H8zM16 28h4V32H16zM22 28h6V32H22zM32 28h4V32H32zM34 32h2V34H34zM8 32h18V36H8zM8 36h10V38H8zM34 34h1V38H34zM9 38h9V40H9zM20 36h2V40H20zM33 38h1V40H33zM24 40h9V42H24zM12 40h6V44H12zM24 42h8V44H24zM24 44h6V48H24zM80 44h2V48H80zM24 48h4V50H24zM80 48h4V50H80zM14 44h4V52H14zM23 50h4V52H23zM12 52h6V54H12zM80 50h1V54H80zM13 54h5V56H13zM22 52h2V56H22zM79 54h1V56H79zM22 56h1V58H22zM16 56h4V60H16zM21 58h1V60H21zM78 56h2V60H78zM82 50h2V62H82zM77 60h3V64H77zM81 62h3V64H81zM77 64h5V68H77zM16 60h6V72H16zM80 68h2V72H80zM18 72h4V80H18zM86 60h2V80H86z"/>
<path fill="#27a1d6" d="M41 0h1V1H41zM87 0h1V1H87zM89 0h1V1H89zM0 3h2V4H0zM2 4h1V5H2zM5 6h1V7H5zM6 7h1V8H6zM15 6h1V8H15zM70 7h2V8H70zM7 8h2V9H7zM69 8h3V9H69zM9 9h2V10H9zM14 8h1V10H14zM68 9h3V10H68zM65 10h5V11H65zM65 11h2V12H65zM15 10h1V13H15zM10 10h2V14H10zM32 16h5V17H32zM9 14h3V18H9zM32 17h6V18H32zM32 18h4V19H32zM37 18h1V19H37zM9 18h5V20H9zM16 13h1V20H16zM32 19h6V20H32zM10 20h2V22H10zM13 20h4V22H13zM36 20h1V22H36z"/>
<path fill="#2275b5" d="M42 0h2V1H42zM88 0h1V1H88zM0 2h1V3H0zM2 3h1V4H2zM3 4h1V5H3zM4 5h1V6H4zM15 0h1V6H15zM6 6h1V7H6zM14 6h1V7H14zM7 7h2V8H7zM13 7h2V8H13zM9 8h5V9H9zM11 9h3V10H11zM12 10h3V13H12zM12 13h4V18H12zM36 18h1V19H36zM14 18h2V20H14z"/>
<path fill="#3bbde4" d="M44 0h1V1H44zM63 0h1V1H63zM42 1h2V2H42zM55 1h8V2H55zM90 0h1V2H90zM3 5h1V6H3zM4 6h1V7H4zM16 4h1V7H16zM5 7h1V8H5zM68 7h2V8H68zM6 8h1V9H6zM67 8h2V9H67zM72 7h1V9H72zM7 9h2V10H7zM15 8h1V10H15zM65 9h3V10H65zM71 9h2V10H71zM70 10h2V11H70zM64 10h1V12H64zM67 11h4V12H67zM16 11h1V13H16zM64 12h3V13H64zM8 10h2V14H8zM31 13h1V14H31zM31 14h6V15H31zM30 15h8V16H30zM37 16h2V17H37zM8 14h1V20H8zM30 16h2V20H30zM38 17h1V20H38zM8 20h2V22H8zM12 20h1V22H12zM17 14h1V22H17zM30 20h6V22H30zM37 20h2V22H37zM9 22h8V24H9zM31 22h6V24H31z"/>
<path fill="#ea6e5a" d="M48 0h1V1H48zM81 0h1V1H81zM18 0h1V2H18zM30 0h4V2H30zM51 1h1V2H51zM64 1h1V2H64zM85 1h1V2H85zM96 0h1V2H96zM30 2h2V3H30zM33 2h3V3H33zM47 2h1V3H47zM52 2h3V3H52zM63 2h1V3H63zM75 2h1V3H75zM87 2h1V3H87zM30 3h5V4H30zM39 3h3V4H39zM74 3h1V4H74zM19 4h1V5H19zM30 4h3V5H30zM46 3h2V5H46zM73 4h1V5H73zM80 4h1V5H80zM95 3h1V5H95zM19 5h2V6H19zM26 5h6V6H26zM40 4h3V6H40zM46 5h3V6H46zM56 5h2V6H56zM67 5h2V6H67zM79 5h2V6H79zM20 6h1V7H20zM24 6h1V7H24zM49 6h2V7H49zM79 6h1V7H79zM90 5h2V7H90zM20 7h2V8H20zM23 7h1V8H23zM51 7h1V8H51zM53 7h1V8H53zM78 7h1V8H78zM89 7h3V8H89zM94 5h2V8H94zM20 8h3V9H20zM38 8h1V9H38zM77 8h1V9H77zM86 8h1V9H86zM92 8h4V9H92zM21 9h2V10H21zM76 9h1V10H76zM91 9h5V10H91zM21 10h1V11H21zM94 10h3V11H94zM85 10h1V12H85zM95 11h3V12H95zM75 11h1V14H75zM91 10h1V14H91zM75 14h2V15H75zM91 14h2V15H91zM96 12h2V15H96zM92 15h2V16H92zM95 15h4V16H95zM77 15h1V17H77zM84 13h1V17H84zM92 16h4V17H92zM83 17h2V18H83zM92 17h3V18H92zM78 18h1V19H78zM82 18h2V19H82zM98 16h1V19H98zM79 19h5V20H79zM80 20h2V22H80zM99 19h1V22H99zM100 22h1V24H100zM100 24h2V26H100zM101 26h2V28H101zM102 28h2V32H102z"/>
<path fill="#e4444a" d="M49 0h1V1H49zM82 0h1V1H82zM97 0h1V1H97zM75 0h1V2H75zM19 2h1V3H19zM32 2h1V3H32zM86 2h1V3H86zM19 3h2V4H19zM28 0h2V4H28zM20 4h1V5H20zM26 4h4V5H26zM48 1h1V5H48zM57 4h1V5H57zM71 4h2V5H71zM24 5h2V6H24zM49 5h1V6H49zM55 5h1V6H55zM58 5h3V6H58zM63 5h4V6H63zM81 1h1V6H81zM21 5h1V7H21zM23 6h1V7H23zM51 6h1V7H51zM54 6h1V7H54zM80 6h1V7H80zM89 4h1V7H89zM96 2h1V7H96zM22 7h1V8H22zM52 7h1V8H52zM79 7h1V8H79zM87 7h2V8H87zM85 8h1V10H85zM96 7h2V10H96zM76 10h1V11H76zM92 10h2V11H92zM97 10h1V11H97zM94 11h1V12H94zM84 10h1V13H84zM92 11h1V13H92zM94 12h2V13H94zM76 13h1V14H76zM92 13h4V14H92zM77 14h1V15H77zM93 14h3V15H93zM98 11h1V15H98zM83 13h1V16H83zM94 15h1V16H94zM82 16h2V17H82zM78 15h1V18H78zM81 17h2V18H81zM79 18h3V19H79zM99 15h1V19H99zM100 19h1V22H100zM101 22h2V24H101zM102 24h2V26H102zM103 26h1V28H103z"/>
<path fill="#82cde4" d="M52 0h1V1H52zM41 1h1V2H41zM53 1h2V2H53zM88 1h2V2H88zM91 0h1V3H91zM16 0h1V4H16zM1 4h1V5H1zM2 5h1V6H2zM4 7h1V8H4zM67 7h1V8H67zM5 8h1V9H5zM66 8h1V9H66zM6 9h1V10H6zM63 9h2V10H63zM73 7h1V10H73zM6 10h2V11H6zM16 7h1V11H16zM63 10h1V11H63zM72 10h1V11H72zM71 11h1V12H71zM7 11h1V13H7zM30 12h3V13H30zM62 11h2V13H62zM67 12h3V13H67zM17 13h1V14H17zM32 13h5V14H32zM63 13h6V14H63zM30 13h1V15H30zM37 14h2V15H37zM65 14h4V15H65zM29 15h1V16H29zM38 15h2V16H38zM67 15h2V16H67zM68 16h1V17H68zM6 13h2V20H6zM18 16h1V20H18zM7 20h1V22H7zM28 16h2V22H28zM39 16h1V22H39zM8 22h1V24H8zM17 22h1V24H17zM24 22h2V24H24zM28 22h3V24H28zM37 22h2V24H37zM9 24h8V26H9zM30 24h7V26H30zM30 26h5V28H30zM28 28h4V32H28zM26 32h8V36H26zM22 36h12V38H22zM18 36h2V40H18zM22 38h11V40H22zM18 40h6V50H18zM18 50h5V52H18zM81 50h1V54H81zM18 52h4V56H18zM20 56h2V58H20zM20 58h1V60H20zM80 54h2V62H80zM80 62h1V64H80z"/>
<path fill="#3060a8" d="M53 0h3V1H53zM62 0h1V1H62zM0 1h1V2H0zM1 2h3V3H1zM3 3h2V4H3zM4 4h2V5H4zM14 0h1V5H14zM5 5h2V6H5zM13 5h2V6H13zM7 6h7V7H7zM9 7h4V8H9z"/>
<path fill="#fce3b8" d="M94 0h1V1H94zM39 1h1V2H39zM46 0h1V2H46zM77 1h2V2H77zM42 2h4V3H42zM76 2h1V3H76zM89 2h1V3H89zM93 2h1V3H93zM79 3h1V4H79zM78 4h1V5H78zM73 5h1V6H73zM0 6h2V7H0zM66 6h1V7H66zM1 7h1V8H1zM25 7h2V8H25zM56 7h8V8H56zM24 8h1V9H24zM28 8h7V9H28zM42 8h9V9H42zM55 8h5V9H55zM0 8h2V10H0zM35 9h1V10H35zM41 9h1V10H41zM51 9h9V10H51zM75 9h1V10H75zM87 9h3V10H87zM18 7h1V11H18zM38 10h2V11H38zM53 10h5V11H53zM59 10h1V11H59zM54 11h6V12H54zM87 10h1V12H87zM89 10h1V12H89zM58 12h2V13H58zM73 12h1V13H73zM19 13h1V14H19zM44 11h2V14H44zM58 13h1V14H58zM87 12h2V14H87zM0 10h3V16H0zM20 15h1V16H20zM23 12h1V16H23zM72 13h1V16H72zM87 14h1V16H87zM21 16h3V17H21zM58 16h3V17H58zM72 16h2V17H72zM58 17h4V18H58zM73 17h2V18H73zM58 18h5V19H58zM74 18h2V20H74zM75 20h2V22H75zM2 22h1V24H2zM58 19h6V24H58zM77 22h1V24H77zM58 24h11V26H58zM77 24h11V26H77zM0 24h2V28H0zM68 26h2V28H68zM81 26h3V28H81zM86 26h2V28H86zM2 28h1V30H2zM69 28h2V30H69zM93 28h5V30H93zM58 26h8V32H58zM70 30h2V32H70zM84 28h6V32H84zM92 30h2V32H92zM96 30h2V32H96zM41 32h1V34H41zM71 32h1V34H71zM2 30h2V36H2zM40 34h1V36H40zM60 32h6V36H60zM92 32h6V36H92zM2 36h3V38H2zM64 36h2V38H64zM72 34h1V38H72zM86 32h4V38H86zM94 36h6V38H94zM65 38h2V40H65zM86 38h14V40H86zM88 40h3V42H88zM66 40h2V44H66zM72 38h2V44H72zM88 42h2V44H88zM96 40h4V44H96zM2 38h4V46H2zM3 46h3V48H3zM66 44h8V48H66zM90 44h4V48H90zM98 44h2V48H98zM96 48h4V50H96zM68 48h6V52H68zM96 50h3V52H96zM92 52h6V56H92zM92 56h4V60H92zM92 60h6V64H92zM96 64h2V68H96zM96 68h4V70H96zM97 70h3V72H97zM98 72h2V80H98zM102 72h2V80H102z"/>
<path fill="#313d94" d="M10 0h2V2H10zM6 2h7V3H6zM7 3h6V4H7z"/>
<path fill="#c6e8f5" d="M40 1h1V2H40zM45 1h1V2H45zM52 1h1V2H52zM63 1h1V2H63zM77 2h2V3H77zM92 1h1V3H92zM76 3h1V4H76zM78 3h1V4H78zM91 3h1V4H91zM76 4h2V5H76zM1 5h1V6H1zM75 5h1V6H75zM2 6h1V7H2zM68 6h1V7H68zM73 6h1V7H73zM76 6h1V7H76zM65 7h1V8H65zM3 7h1V9H3zM61 8h3V9H61zM75 7h1V9H75zM17 4h1V10H17zM25 9h3V10H25zM60 9h2V10H60zM74 9h1V10H74zM4 9h1V11H4zM25 10h8V11H25zM42 10h1V11H42zM47 10h2V11H47zM25 11h4V12H25zM33 11h5V12H33zM40 11h3V12H40zM47 11h3V12H47zM73 11h1V12H73zM5 11h1V13H5zM37 12h6V13H37zM60 10h1V13H60zM71 12h1V13H71zM18 13h1V14H18zM25 12h3V14H25zM39 13h4V14H39zM47 12h5V14H47zM40 14h4V15H40zM60 13h2V15H60zM4 13h1V16H4zM41 15h3V16H41zM46 14h6V16H46zM61 15h2V16H61zM3 16h1V17H3zM19 15h1V17H19zM25 14h1V17H25zM63 16h3V17H63zM70 13h1V17H70zM42 16h10V18H42zM65 17h2V18H65zM2 17h2V19H2zM20 17h1V19H20zM24 17h2V19H24zM3 19h1V20H3zM20 19h2V20H20zM23 19h3V20H23zM42 18h8V20H42zM66 18h2V20H66zM70 17h2V20H70zM4 20h1V22H4zM19 20h4V22H19zM41 20h2V22H41zM67 20h6V22H67zM19 22h3V24H19zM40 22h2V24H40zM44 20h4V24H44zM69 22h5V24H69zM4 22h2V26H4zM39 24h2V26H39zM72 24h3V26H72zM5 26h2V28H5zM18 24h4V28H18zM38 26h2V28H38zM73 26h3V28H73zM36 28h4V30H36zM74 28h5V30H74zM12 28h4V32H12zM20 28h2V32H20zM36 30h3V32H36zM52 28h2V32H52zM36 32h2V34H36zM74 30h8V34H74zM35 34h3V36H35zM75 34h7V36H75zM6 28h2V38H6zM35 36h1V38H35zM43 36h5V38H43zM7 38h2V40H7zM34 38h2V40H34zM42 38h6V40H42zM52 32h4V40H52zM76 36h6V40H76zM33 40h5V42H33zM62 40h1V42H62zM8 40h4V44H8zM32 42h6V44H32zM42 40h2V44H42zM46 40h2V44H46zM52 40h8V44H52zM62 42h2V44H62zM76 40h8V44H76zM0 44h1V46H0zM30 44h8V48H30zM82 44h4V48H82zM28 48h4V50H28zM8 44h6V52H8zM27 50h5V52H27zM40 44h8V52H40zM10 52h2V54H10zM76 44h4V54H76zM0 46h2V56H0zM10 54h3V56H10zM24 52h4V56H24zM40 52h4V56H40zM62 52h4V56H62zM76 54h3V56H76zM84 48h4V56H84zM23 56h5V58H23zM12 56h4V60H12zM22 58h6V60H22zM30 56h2V60H30zM38 56h8V60H38zM64 56h2V60H64zM76 56h2V60H76zM84 56h6V60H84zM38 60h6V64H38zM60 60h6V64H60zM84 60h2V64H84zM76 60h1V66H76zM0 56h4V68H0zM62 64h4V68H62zM75 66h2V68H75zM0 68h6V72H0zM10 60h6V72H10zM52 68h2V72H52zM64 68h2V72H64zM74 68h6V72H74zM82 64h4V72H82zM92 72h3V74H92zM0 72h18V80H0zM22 60h4V80H22zM38 64h4V80H38zM50 72h4V80H50zM58 72h8V80H58zM74 72h12V80H74zM88 60h2V80H88zM92 74h4V80H92z"/>
<path fill="#b72029" d="M100 4h2V8H100zM100 8h4V11H100zM101 11h3V14H101zM102 14h2V17H102zM103 17h1V18H103z"/>
</g>
</g>
<path d="M116.5,633.0 L129.0,638.5 L144.5,642.9 L155.5,640.7 L162.0,635.2 L163.8,631.5" fill="none" stroke="#505050" stroke-width="4.2" stroke-linejoin="round" stroke-linecap="butt"/>
<path d="M116.5,655.0 L124.6,659.4 L137.8,677.0 L148.8,701.3 L159.8,725.5 L173.0,751.9 L181.8,773.9 L192.9,791.5 L208.3,803.6 L221.5,808.0 L234.7,804.7 L252.3,793.7 L269.9,778.3 L287.5,756.3 L300.7,734.3 L306.2,721.1 L305.1,712.3 L298.5,709.6 L283.1,710.5 L265.5,713.4 L247.9,715.6 L232.5,714.5 L221.5,710.1 L210.5,699.1 L201.7,681.5 L197.3,661.6 L198.4,646.2 L200.6,631.5" fill="none" stroke="#505050" stroke-width="1.3" stroke-linejoin="round" stroke-linecap="butt"/>
<path d="M221.5,631.5 L222.6,646.2 L228.1,659.4 L239.1,668.2 L254.5,673.7 L264.4,675.3" fill="none" stroke="#505050" stroke-width="4.2" stroke-linejoin="round" stroke-linecap="butt"/>
<path d="M304.0,674.4 L318.4,668.2 L336.0,663.8 L349.2,661.6 L373.8,662.7 L384.8,656.1 L395.8,648.4 L409.0,646.2 L417.8,653.9 L431.0,662.7 L442.0,669.3 L450.9,671.5 L461.9,674.8 L470.7,680.3 L477.3,678.1 L490.5,681.5 L501.5,680.3 L510.3,674.8 L516.9,663.8 L519.1,650.6 L516.9,639.6 L512.5,631.5" fill="none" stroke="#505050" stroke-width="4.2" stroke-linejoin="round" stroke-linecap="butt"/>
<path d="M245.7,631.5 L247.9,639.6 L258.9,648.4 L278.7,655.0 L298.5,658.3 L318.4,653.9 L333.8,647.3 L334.9,642.9 L327.2,638.5 L318.4,634.1 L314.0,631.5" fill="none" stroke="#505050" stroke-width="1.3" stroke-linejoin="round" stroke-linecap="butt"/>
<path d="M348.5,631.5 L361.5,633.5 L373.8,636.3 L387.0,638.5 L392.5,639.5" fill="none" stroke="#505050" stroke-width="4.2" stroke-linejoin="round" stroke-linecap="butt"/>
<path d="M430.5,638.0 L434.5,636.8 L442.0,631.5" fill="none" stroke="#505050" stroke-width="4.2" stroke-linejoin="round" stroke-linecap="butt"/>
<path d="M457.5,631.5 L450.9,639.6 L448.7,646.2 L457.5,650.6 L468.5,652.4 L479.5,649.5 L488.3,641.8 L489.4,633.0 L487.2,631.5" fill="none" stroke="#505050" stroke-width="1.3" stroke-linejoin="round" stroke-linecap="butt"/>
<path d="M538.9,631.5 L543.3,638.5 L552.1,645.1 L565.3,648.4" fill="none" stroke="#505050" stroke-width="4.2" stroke-linejoin="round" stroke-linecap="butt"/>
<path d="M602.8,641.8 L610.5,635.2 L612.7,631.5" fill="none" stroke="#505050" stroke-width="4.2" stroke-linejoin="round" stroke-linecap="butt"/>
<path d="M530.1,631.5 L536.7,644.0 L542.2,657.2 L542.2,672.6 L537.8,685.8 L544.5,690.2 L548.8,689.1 L545.5,699.0 L554.3,710.1 L562.0,716.7 L571.9,718.9 L583.0,722.2 L586.3,717.8 L591.8,701.2 L596.2,683.6 L600.6,672.6 L607.2,659.4 L611.6,646.2 L618.2,637.4 L629.2,634.1 L633.8,633.0" fill="none" stroke="#505050" stroke-width="1.3" stroke-linejoin="round" stroke-linecap="butt"/>
<path d="M619.0,673.5 L619.5,661.5 L620.7,653.5 L623.0,651.5 L625.0,655.5 L625.3,671.5 L624.8,686.5 L623.8,702.5 L623.3,707.5" fill="none" stroke="#505050" stroke-width="4.2" stroke-linejoin="round" stroke-linecap="butt"/>
<text x="284.2" y="685.9" font-size="23.5" text-anchor="middle" fill="#000">35</text>
<text x="412.3" y="649.1" font-size="23.5" text-anchor="middle" fill="#000">35</text>
<text x="586.3" y="655.7" font-size="23.5" text-anchor="middle" fill="#000">34</text>
<text x="619.8" y="701.2" font-size="23.5" text-anchor="middle" fill="#000" transform="rotate(90 619.8 692.8)">35</text>
</g>
<rect x="116.50" y="631.50" width="517.30" height="248.10" fill="none" stroke="#262626" stroke-width="1.3"/>
<line x1="136.40" y1="879.60" x2="136.40" y2="884.60" stroke="#262626" stroke-width="1.3"/>
<line x1="136.40" y1="631.50" x2="136.40" y2="626.50" stroke="#262626" stroke-width="1.3"/>
<line x1="255.77" y1="879.60" x2="255.77" y2="884.60" stroke="#262626" stroke-width="1.3"/>
<line x1="255.77" y1="631.50" x2="255.77" y2="626.50" stroke="#262626" stroke-width="1.3"/>
<line x1="375.15" y1="879.60" x2="375.15" y2="884.60" stroke="#262626" stroke-width="1.3"/>
<line x1="375.15" y1="631.50" x2="375.15" y2="626.50" stroke="#262626" stroke-width="1.3"/>
<line x1="494.53" y1="879.60" x2="494.53" y2="884.60" stroke="#262626" stroke-width="1.3"/>
<line x1="494.53" y1="631.50" x2="494.53" y2="626.50" stroke="#262626" stroke-width="1.3"/>
<line x1="613.90" y1="879.60" x2="613.90" y2="884.60" stroke="#262626" stroke-width="1.3"/>
<line x1="613.90" y1="631.50" x2="613.90" y2="626.50" stroke="#262626" stroke-width="1.3"/>
<line x1="116.50" y1="631.50" x2="111.50" y2="631.50" stroke="#262626" stroke-width="1.3"/>
<line x1="633.80" y1="631.50" x2="638.80" y2="631.50" stroke="#262626" stroke-width="1.3"/>
<line x1="116.50" y1="693.52" x2="111.50" y2="693.52" stroke="#262626" stroke-width="1.3"/>
<line x1="633.80" y1="693.52" x2="638.80" y2="693.52" stroke="#262626" stroke-width="1.3"/>
<line x1="116.50" y1="755.55" x2="111.50" y2="755.55" stroke="#262626" stroke-width="1.3"/>
<line x1="633.80" y1="755.55" x2="638.80" y2="755.55" stroke="#262626" stroke-width="1.3"/>
<line x1="116.50" y1="817.58" x2="111.50" y2="817.58" stroke="#262626" stroke-width="1.3"/>
<line x1="633.80" y1="817.58" x2="638.80" y2="817.58" stroke="#262626" stroke-width="1.3"/>
<line x1="116.50" y1="879.60" x2="111.50" y2="879.60" stroke="#262626" stroke-width="1.3"/>
<line x1="633.80" y1="879.60" x2="638.80" y2="879.60" stroke="#262626" stroke-width="1.3"/>
<text x="99.2" y="641.8" font-size="27" text-anchor="end" fill="#262626">0</text>
<text x="99.2" y="703.8" font-size="27" text-anchor="end" fill="#262626">500</text>
<text x="99.2" y="765.8" font-size="27" text-anchor="end" fill="#262626">1000</text>
<text x="99.2" y="827.9" font-size="27" text-anchor="end" fill="#262626">1500</text>
<text x="99.2" y="889.9" font-size="27" text-anchor="end" fill="#262626">2000</text>
<text x="24.3" y="755.5" font-size="28.5" text-anchor="middle" fill="#262626" transform="rotate(-90 24.3 755.5)">Depth</text>
<text x="375.1" y="622.8" font-size="29.5" text-anchor="middle" fill="#000">NCEI</text>
<text x="47.8" y="626.6" font-size="30.5" font-weight="bold" fill="#000">E</text>
<clipPath id="clipF"><rect x="654.70" y="631.50" width="517.30" height="248.10"/></clipPath>
<g clip-path="url(#clipF)">
<rect x="654.70" y="631.50" width="517.30" height="248.10" fill="#fdf0dc"/>
<g shape-rendering="crispEdges">
<g transform="translate(654.70,631.50) scale(4.97404,3.10125)">
<path fill="#27a1d6" d="M2 0h4V1H2zM11 0h1V1H11zM27 0h1V1H27zM40 0h2V1H40zM2 1h1V2H2zM13 1h1V2H13zM26 1h1V2H26zM42 1h3V2H42zM23 2h1V3H23zM76 2h2V3H76zM2 3h1V4H2zM46 2h1V4H46zM103 3h1V4H103zM45 4h1V5H45zM75 3h1V5H75zM77 3h1V5H77zM100 4h2V5H100zM17 5h1V6H17zM27 5h8V6H27zM43 5h1V6H43zM75 5h2V6H75zM4 6h1V7H4zM21 6h1V7H21zM27 6h1V7H27zM5 7h1V8H5zM16 7h1V8H16zM7 8h1V9H7zM10 8h2V9H10zM14 8h2V9H14zM22 8h1V9H22zM26 7h1V9H26zM61 9h1V10H61zM23 9h1V11H23zM25 9h1V11H25zM26 11h1V12H26zM26 12h5V13H26zM24 11h1V14H24zM26 13h6V14H26zM24 14h2V15H24zM31 14h1V15H31zM32 15h1V16H32zM33 16h6V17H33zM36 17h3V18H36zM25 15h1V20H25zM24 20h1V22H24zM38 18h1V22H38zM22 22h1V24H22zM37 22h1V24H37zM19 24h1V26H19zM36 24h2V26H36zM18 26h1V28H18zM35 26h2V28H35zM19 28h1V30H19zM34 28h2V30H34zM31 30h3V32H31zM27 32h4V34H27zM20 32h1V36H20zM26 34h3V36H26zM20 36h2V38H20zM24 36h4V38H24zM24 38h3V40H24zM24 40h2V42H24zM21 38h1V44H21zM23 42h2V44H23zM21 44h3V48H21zM77 46h2V48H77zM22 48h2V50H22zM76 48h1V52H76zM79 48h1V52H79zM76 52h3V54H76z"/>
<path fill="#2275b5" d="M6 0h2V1H6zM10 0h1V1H10zM28 0h1V1H28zM38 0h2V1H38zM3 1h4V2H3zM11 1h2V2H11zM27 1h1V2H27zM39 1h3V2H39zM2 2h1V3H2zM24 2h4V3H24zM103 2h1V3H103zM26 3h3V4H26zM45 2h1V4H45zM100 0h1V4H100zM102 3h1V4H102zM3 4h1V5H3zM16 4h1V5H16zM22 4h1V5H22zM26 4h4V5H26zM44 4h1V5H44zM76 3h1V5H76zM4 5h1V6H4zM21 5h1V6H21zM35 5h5V6H35zM41 5h2V6H41zM16 6h1V7H16zM26 5h1V7H26zM6 7h1V8H6zM15 7h1V8H15zM22 7h1V8H22zM8 8h2V9H8zM12 8h2V9H12zM23 8h3V9H23zM24 9h1V11H24zM25 11h1V14H25zM26 14h5V15H26zM26 15h6V16H26zM31 16h2V17H31zM26 16h2V18H26zM32 17h4V18H32zM35 18h3V19H35zM26 18h1V20H26zM25 20h1V22H25zM36 19h2V22H36zM23 22h1V24H23zM35 22h2V24H35zM20 24h1V26H20zM33 24h3V26H33zM19 26h1V28H19zM32 26h3V28H32zM29 28h5V30H29zM20 30h1V32H20zM27 30h4V32H27zM21 32h6V34H21zM21 34h5V36H21zM22 36h2V42H22zM22 42h1V44H22zM77 48h2V52H77z"/>
<path fill="#3060a8" d="M8 0h2V1H8zM29 0h1V1H29zM34 0h4V1H34zM7 1h4V2H7zM28 1h2V2H28zM34 1h5V2H34zM102 0h2V2H102zM3 2h3V3H3zM13 2h2V3H13zM28 2h6V3H28zM40 2h5V3H40zM102 2h1V3H102zM3 3h1V4H3zM15 3h1V4H15zM23 3h1V4H23zM29 3h5V4H29zM44 3h1V4H44zM101 3h1V4H101zM4 4h1V5H4zM30 4h2V5H30zM42 4h2V5H42zM16 5h1V6H16zM22 5h1V6H22zM40 5h1V6H40zM5 6h1V7H5zM22 6h2V7H22zM25 3h1V7H25zM7 7h8V8H7zM23 7h3V8H23zM28 16h3V17H28zM28 17h4V18H28zM27 18h2V19H27zM31 18h4V19H31zM27 19h1V20H27zM32 19h4V20H32zM26 20h1V22H26zM33 20h3V22H33zM24 22h2V24H24zM33 22h2V24H33zM21 24h1V26H21zM30 24h3V26H30zM20 26h1V28H20zM29 26h3V28H29zM20 28h2V30H20zM26 28h3V30H26zM21 30h6V32H21z"/>
<path fill="#3bbde4" d="M12 0h1V1H12zM26 0h1V1H26zM42 0h3V1H42zM77 0h2V1H77zM0 0h2V2H0zM14 1h1V2H14zM24 1h2V2H24zM45 1h1V2H45zM76 1h3V2H76zM1 2h1V3H1zM15 2h1V3H15zM57 0h1V3H57zM75 2h1V3H75zM78 2h1V3H78zM22 3h1V4H22zM92 3h1V4H92zM21 4h1V5H21zM102 4h2V5H102zM3 5h1V6H3zM20 5h1V6H20zM44 5h1V6H44zM74 4h1V6H74zM101 5h1V6H101zM17 6h1V7H17zM28 6h1V7H28zM40 6h2V7H40zM91 4h1V7H91zM21 7h1V8H21zM6 8h1V9H6zM16 8h1V9H16zM27 7h1V9H27zM7 9h3V10H7zM12 9h2V10H12zM22 9h1V10H22zM26 9h2V10H26zM62 9h1V10H62zM26 10h5V11H26zM27 11h5V12H27zM61 10h1V12H61zM31 12h2V13H31zM32 13h2V14H32zM23 11h1V15H23zM32 14h7V15H32zM33 15h7V16H33zM24 15h1V17H24zM24 19h1V20H24zM23 20h1V22H23zM39 16h1V22H39zM21 22h1V24H21zM18 24h1V26H18zM38 22h1V26H38zM37 26h1V28H37zM18 28h1V30H18zM36 28h1V30H36zM19 30h1V32H19zM34 30h2V32H34zM31 32h2V34H31zM29 34h2V36H29zM28 36h2V38H28zM27 38h2V40H27zM26 40h2V42H26zM15 40h1V44H15zM25 42h2V44H25zM77 44h1V46H77zM20 38h1V48H20zM76 46h1V48H76zM79 46h1V48H79zM20 48h2V50H20zM24 44h2V50H24zM20 50h5V52H20zM80 50h1V52H80zM22 52h2V54H22zM79 52h1V54H79zM76 54h3V56H76z"/>
<path fill="#82cde4" d="M13 0h1V1H13zM24 0h2V1H24zM45 0h1V1H45zM76 0h1V1H76zM23 1h1V2H23zM46 1h1V2H46zM75 1h1V2H75zM79 0h1V2H79zM0 2h1V3H0zM58 0h1V3H58zM16 3h1V4H16zM47 2h1V4H47zM74 3h1V4H74zM78 3h1V4H78zM91 3h1V4H91zM99 0h1V4H99zM2 4h1V5H2zM17 4h1V5H17zM46 4h1V5H46zM77 5h1V6H77zM100 5h1V6H100zM102 5h1V6H102zM20 6h1V7H20zM29 6h2V7H29zM39 6h1V7H39zM42 6h1V7H42zM69 6h8V7H69zM92 4h1V7H92zM4 7h1V8H4zM17 7h1V8H17zM67 7h6V8H67zM91 7h1V8H91zM5 8h1V9H5zM21 8h1V9H21zM28 7h2V9H28zM61 8h2V9H61zM6 9h1V10H6zM10 9h2V10H10zM14 9h2V10H14zM28 9h3V10H28zM63 9h1V10H63zM7 10h2V11H7zM31 10h1V11H31zM32 11h1V12H32zM36 11h2V12H36zM60 9h1V12H60zM62 10h1V12H62zM22 10h1V13H22zM33 12h7V13H33zM61 12h1V13H61zM34 13h6V14H34zM39 14h1V15H39zM23 15h1V17H23zM24 17h1V19H24zM23 19h1V20H23zM22 20h1V22H22zM40 15h1V22H40zM17 24h1V26H17zM39 22h1V26H39zM16 26h2V28H16zM38 26h1V28H38zM17 28h1V30H17zM37 28h1V30H37zM17 30h2V32H17zM36 30h1V32H36zM16 32h4V34H16zM33 32h2V34H33zM16 34h2V36H16zM19 34h1V36H19zM31 34h2V36H31zM15 36h5V38H15zM30 36h2V38H30zM14 38h6V40H14zM29 38h2V40H29zM28 40h2V42H28zM14 40h1V44H14zM16 40h4V44H16zM27 42h2V44H27zM26 44h2V46H26zM76 44h1V46H76zM78 44h1V46H78zM26 46h1V50H26zM80 48h1V50H80zM14 44h6V52H14zM25 50h1V52H25zM81 50h1V52H81zM14 52h2V54H14zM18 52h4V54H18zM24 52h2V54H24zM80 52h3V54H80zM15 54h1V56H15zM19 54h6V56H19zM75 48h1V56H75zM79 54h5V56H79zM76 56h3V58H76zM82 56h2V62H82z"/>
<path fill="#a8dbea" d="M14 0h1V1H14zM23 0h1V1H23zM46 0h1V1H46zM75 0h1V1H75zM80 0h1V1H80zM22 2h1V3H22zM56 0h1V3H56zM74 2h1V3H74zM79 2h1V3H79zM1 3h1V4H1zM57 3h1V4H57zM20 4h1V5H20zM47 4h1V5H47zM45 5h1V6H45zM69 5h5V6H69zM93 3h1V6H93zM99 4h1V6H99zM103 5h1V6H103zM31 6h1V7H31zM37 6h2V7H37zM43 6h1V7H43zM67 6h2V7H67zM100 6h3V7H100zM40 7h2V8H40zM66 7h1V8H66zM73 7h3V8H73zM90 4h1V8H90zM92 7h1V8H92zM4 8h1V9H4zM17 8h1V9H17zM20 7h1V9H20zM30 7h1V9H30zM63 8h2V9H63zM67 8h6V9H67zM91 8h2V9H91zM5 9h1V10H5zM16 9h1V10H16zM31 9h2V10H31zM64 9h2V10H64zM68 9h3V10H68zM5 10h2V11H5zM9 10h6V11H9zM32 10h9V11H32zM63 10h7V11H63zM6 11h4V12H6zM33 11h3V12H33zM38 11h4V12H38zM63 11h6V12H63zM21 9h1V13H21zM62 12h4V13H62zM6 12h5V14H6zM61 13h5V14H61zM40 12h2V15H40zM64 14h5V15H64zM22 13h1V16H22zM64 15h6V16H64zM6 14h4V17H6zM46 16h2V17H46zM64 16h7V17H64zM7 17h3V18H7zM47 17h1V18H47zM65 17h6V18H65zM23 17h1V19H23zM22 19h1V20H22zM66 18h6V20H66zM41 15h1V22H41zM70 20h3V22H70zM20 22h1V24H20zM71 22h3V24H71zM8 18h2V26H8zM15 24h2V26H15zM40 22h1V26H40zM72 24h3V26H72zM9 26h1V28H9zM14 26h2V28H14zM39 26h1V28H39zM73 26h3V28H73zM14 28h3V32H14zM89 22h1V32H89zM35 32h1V34H35zM14 32h2V36H14zM18 34h1V36H18zM33 34h2V36H33zM12 36h3V38H12zM32 36h2V38H32zM31 38h2V40H31zM30 40h2V42H30zM29 42h2V44H29zM76 42h1V44H76zM28 44h2V46H28zM79 44h1V46H79zM27 46h2V48H27zM75 44h1V48H75zM80 46h1V48H80zM27 48h1V50H27zM81 48h2V50H81zM26 50h2V52H26zM82 50h2V52H82zM12 38h2V54H12zM16 52h2V54H16zM26 52h1V54H26zM83 52h2V54H83zM88 46h2V54H88zM13 54h2V56H13zM16 54h3V56H16zM25 54h1V56H25zM74 50h1V56H74zM88 54h1V56H88zM14 56h11V58H14zM74 56h2V58H74zM79 56h3V58H79zM20 58h4V60H20zM75 58h7V60H75zM80 60h2V62H80zM84 54h2V62H84zM14 58h4V64H14zM81 62h4V64H81zM76 60h2V66H76zM82 64h2V66H82zM20 60h2V68H20zM83 66h1V68H83zM76 66h1V80H76z"/>
<path fill="#e4444a" d="M16 0h1V1H16zM21 0h1V1H21zM48 0h1V1H48zM97 0h1V1H97zM49 1h1V2H49zM61 0h1V2H61zM68 0h2V2H68zM90 1h1V2H90zM93 1h2V2H93zM54 2h1V3H54zM67 2h2V3H67zM82 2h1V3H82zM89 2h1V3H89zM19 3h1V4H19zM52 3h3V4H52zM66 3h1V4H66zM53 4h2V5H53zM60 4h5V5H60zM81 4h1V5H81zM88 4h1V5H88zM0 5h1V6H0zM50 2h1V6H50zM80 5h1V6H80zM1 6h1V7H1zM50 6h2V7H50zM79 6h2V7H79zM79 7h1V8H79zM51 7h1V9H51zM53 5h1V9H53zM78 8h1V9H78zM52 9h2V10H52zM100 9h1V10H100zM1 9h1V11H1zM77 10h1V11H77zM101 10h1V11H101zM0 11h1V12H0zM76 11h1V12H76zM75 12h2V13H75zM18 11h1V15H18zM75 13h1V15H75zM76 15h1V16H76zM101 15h1V16H101zM18 15h2V17H18zM76 16h4V17H76zM18 17h1V18H18zM77 17h4V18H77zM87 8h1V18H87zM81 18h2V19H81zM83 19h1V20H83zM100 16h2V20H100zM100 20h1V22H100zM86 19h1V32H86zM86 34h1V36H86zM83 36h1V38H83zM82 38h1V42H82zM87 38h1V42H87zM84 42h3V44H84z"/>
<path fill="#e01f35" d="M17 0h4V1H17zM49 0h1V1H49zM88 0h9V1H88zM18 1h3V2H18zM64 0h2V2H64zM84 0h2V2H84zM88 1h1V2H88zM19 2h1V3H19zM63 2h3V3H63zM84 2h4V3H84zM84 3h3V4H84zM83 4h3V5H83zM82 5h4V6H82zM85 6h2V7H85zM82 6h2V8H82zM81 8h3V9H81zM86 7h1V9H86zM0 7h1V10H0zM80 9h4V10H80zM79 10h5V12H79zM80 12h4V14H80zM80 14h2V15H80zM83 14h1V15H83zM85 9h1V15H85zM81 15h1V16H81zM84 15h2V19H84zM84 36h2V42H84z"/>
<path fill="#c6e8f5" d="M52 0h2V1H52zM15 1h1V2H15zM22 1h1V2H22zM47 1h1V2H47zM59 0h1V2H59zM74 0h1V2H74zM80 1h1V2H80zM91 2h2V3H91zM0 3h1V4H0zM48 3h1V4H48zM58 3h1V4H58zM90 3h1V4H90zM73 4h1V5H73zM78 4h1V5H78zM98 3h1V5H98zM18 5h2V6H18zM46 5h1V6H46zM68 5h1V6H68zM3 6h1V7H3zM18 6h1V7H18zM35 6h2V7H35zM66 6h1V7H66zM77 6h1V7H77zM99 6h1V7H99zM103 6h1V7H103zM38 7h2V8H38zM42 7h1V8H42zM76 7h1V8H76zM31 8h1V9H31zM38 8h5V9H38zM60 8h1V9H60zM65 8h2V9H65zM73 8h1V9H73zM90 8h1V9H90zM93 6h1V9H93zM17 9h1V10H17zM20 9h1V10H20zM33 9h9V10H33zM66 9h2V10H66zM71 9h1V10H71zM90 9h3V10H90zM4 9h1V11H4zM15 10h1V11H15zM41 10h2V11H41zM70 10h1V11H70zM10 11h5V12H10zM69 11h1V12H69zM14 12h1V13H14zM11 12h1V14H11zM42 11h1V14H42zM60 12h1V14H60zM66 12h4V14H66zM4 11h2V15H4zM21 13h1V15H21zM42 14h2V15H42zM46 14h3V15H46zM69 14h2V15H69zM42 15h8V16H42zM61 14h3V16H61zM70 15h1V16H70zM91 15h1V16H91zM5 15h1V17H5zM42 16h4V17H42zM62 16h2V17H62zM5 17h2V18H5zM42 17h5V18H42zM48 16h2V18H48zM63 17h2V18H63zM71 16h1V18H71zM22 16h1V19H22zM72 18h1V19H72zM14 19h1V20H14zM46 18h4V20H46zM64 18h2V20H64zM72 19h2V20H72zM90 16h2V20H90zM6 18h2V22H6zM14 20h2V22H14zM21 20h1V22H21zM42 18h2V22H42zM65 20h5V22H65zM73 20h2V22H73zM89 20h3V22H89zM10 14h1V24H10zM14 22h4V24H14zM19 22h1V24H19zM41 22h2V24H41zM67 22h4V24H67zM74 22h2V24H74zM7 22h1V26H7zM14 24h1V26H14zM41 24h1V26H41zM70 24h2V26H70zM75 24h2V26H75zM8 26h1V28H8zM10 24h2V28H10zM13 26h1V28H13zM40 26h1V28H40zM71 26h2V28H71zM76 26h2V28H76zM90 22h2V28H90zM38 28h1V30H38zM72 28h7V30H72zM37 30h1V32H37zM88 22h1V32H88zM90 28h1V32H90zM8 28h6V34H8zM36 32h1V34H36zM73 30h6V34H73zM89 32h1V34H89zM9 34h5V36H9zM35 34h1V36H35zM73 34h5V36H73zM34 36h2V38H34zM33 38h2V40H33zM32 40h2V42H32zM74 36h3V42H74zM97 40h1V42H97zM100 38h1V42H100zM31 42h2V44H31zM74 42h2V44H74zM77 42h1V44H77zM30 44h2V46H30zM89 44h2V46H89zM29 46h3V48H29zM74 44h1V48H74zM81 46h5V48H81zM87 46h1V48H87zM96 42h2V48H96zM100 42h2V48H100zM10 36h2V50H10zM73 48h2V50H73zM83 48h2V50H83zM86 48h2V50H86zM28 48h2V52H28zM84 50h4V52H84zM11 50h1V54H11zM27 52h3V54H27zM73 50h1V54H73zM85 52h3V54H85zM90 46h2V54H90zM96 48h6V54H96zM12 54h1V56H12zM26 54h4V56H26zM86 54h2V56H86zM89 54h2V56H89zM97 54h5V56H97zM0 56h1V58H0zM25 56h3V58H25zM72 54h2V58H72zM24 58h4V60H24zM72 58h3V60H72zM98 56h4V60H98zM78 60h2V62H78zM86 56h4V62H86zM12 56h2V64H12zM18 58h2V64H18zM22 60h6V64H22zM78 62h3V64H78zM85 62h4V64H85zM100 60h2V64H100zM78 64h1V66H78zM80 64h2V66H80zM12 64h8V68H12zM22 64h4V68H22zM80 66h3V68H80zM84 64h2V68H84zM12 68h14V70H12zM82 68h4V70H82zM13 70h13V72H13zM70 68h2V72H70zM74 60h2V72H74zM82 70h3V72H82zM16 72h10V76H16zM0 58h2V80H0zM16 76h8V80H16zM68 72h8V80H68zM77 66h1V80H77z"/>
<path fill="#f9cd93" d="M54 0h2V1H54zM55 1h1V2H55zM73 0h1V2H73zM71 2h1V3H71zM94 2h1V3H94zM97 2h1V3H97zM49 3h1V4H49zM72 3h1V4H72zM80 3h1V4H80zM95 3h2V4H95zM56 4h3V5H56zM67 4h1V5H67zM79 4h1V5H79zM48 5h1V6H48zM89 4h1V6H89zM2 6h1V7H2zM46 6h2V7H46zM63 6h2V7H63zM33 7h1V8H33zM44 7h1V8H44zM59 7h1V8H59zM44 8h4V9H44zM99 8h1V9H99zM45 9h4V10H45zM75 9h1V10H75zM2 9h1V11H2zM17 10h1V11H17zM49 10h2V11H49zM55 10h4V11H55zM73 10h1V11H73zM98 9h1V11H98zM102 9h1V11H102zM45 10h1V12H45zM51 11h8V12H51zM72 11h1V12H72zM89 10h1V12H89zM97 11h1V12H97zM44 12h2V13H44zM52 12h2V13H52zM16 14h1V16H16zM72 14h1V16H72zM89 14h1V16H89zM103 12h1V16H103zM2 14h1V17H2zM59 13h1V17H59zM73 16h1V17H73zM74 17h1V18H74zM96 12h2V18H96zM20 15h1V19H20zM60 17h1V19H60zM75 18h1V19H75zM1 17h1V20H1zM17 19h1V20H17zM76 19h1V20H76zM88 19h1V20H88zM0 20h1V22H0zM18 20h2V22H18zM78 20h3V22H78zM60 19h2V24H60zM95 18h3V24H95zM61 24h2V26H61zM96 24h3V26H96zM102 16h1V26H102zM56 12h2V28H56zM62 26h2V28H62zM80 22h2V28H80zM96 26h4V28H96zM101 26h1V28H101zM63 28h7V30H63zM98 28h4V30H98zM48 28h4V32H48zM54 28h4V32H54zM80 28h1V32H80zM98 30h3V32H98zM39 32h1V34H39zM54 32h5V34H54zM81 32h1V34H81zM87 22h1V34H87zM44 32h8V36H44zM54 34h6V36H54zM80 34h1V36H80zM5 34h1V38H5zM64 30h4V38H64zM88 36h1V38H88zM38 34h2V40H38zM56 36h4V40H56zM63 38h5V40H63zM70 30h1V40H70zM59 40h1V42H59zM79 36h1V42H79zM89 38h1V42H89zM4 38h2V44H4zM48 36h4V44H48zM80 42h1V44H80zM88 42h1V44H88zM4 44h3V46H4zM60 42h1V48H60zM62 40h2V48H62zM66 40h5V48H66zM48 44h2V52H48zM60 48h10V52H60zM4 46h4V54H4zM5 54h3V56H5zM6 56h2V60H6zM5 60h4V64H5zM6 64h3V70H6zM100 68h2V70H100zM100 72h2V80H100z"/>
<path fill="#ea6e5a" d="M70 0h2V1H70zM21 1h1V2H21zM51 0h1V2H51zM70 1h1V2H70zM82 0h1V2H82zM91 1h2V2H91zM97 1h1V2H97zM69 2h1V3H69zM96 2h1V3H96zM18 3h1V4H18zM60 2h1V4H60zM67 3h2V4H67zM81 3h1V4H81zM55 3h1V5H55zM65 4h1V5H65zM80 4h1V5H80zM58 5h6V6H58zM79 5h1V6H79zM49 6h1V7H49zM49 7h2V8H49zM54 5h2V8H54zM78 7h1V8H78zM88 5h1V8H88zM50 8h1V9H50zM54 8h1V9H54zM51 9h1V10H51zM77 9h1V10H77zM101 9h1V10H101zM18 10h1V11H18zM75 10h2V11H75zM1 11h1V12H1zM74 11h2V12H74zM73 12h2V14H73zM19 11h1V15H19zM74 14h1V15H74zM0 12h1V16H0zM17 14h1V16H17zM88 10h1V16H88zM75 15h1V17H75zM19 17h1V18H19zM76 17h1V18H76zM18 18h2V19H18zM77 18h4V19H77zM79 19h4V20H79zM87 18h1V20H87zM99 10h1V22H99zM101 20h1V22H101zM100 22h2V24H100zM60 28h1V30H60zM60 30h2V34H60zM86 32h1V34H86zM61 34h1V36H61zM83 20h1V36H83zM81 36h2V38H81zM87 36h1V38H87zM81 38h1V42H81zM83 42h1V44H83zM87 42h1V44H87z"/>
<path fill="#f3a674" d="M72 0h1V1H72zM16 1h1V2H16zM48 1h1V2H48zM54 1h1V2H54zM60 0h1V2H60zM71 1h2V2H71zM17 2h1V3H17zM21 2h1V3H21zM49 2h1V3H49zM52 2h2V3H52zM55 2h1V3H55zM70 2h1V3H70zM72 2h1V3H72zM81 2h1V3H81zM95 2h1V3H95zM20 3h1V4H20zM69 3h1V4H69zM89 3h1V4H89zM0 4h1V5H0zM59 4h1V5H59zM66 4h1V5H66zM1 5h1V6H1zM49 4h1V6H49zM56 5h2V6H56zM64 5h2V6H64zM48 6h1V7H48zM56 6h7V7H56zM78 6h1V7H78zM45 7h4V8H45zM56 7h3V8H56zM2 7h1V9H2zM48 8h2V9H48zM55 8h4V9H55zM77 8h1V9H77zM100 8h2V9H100zM49 9h2V10H49zM54 9h5V10H54zM76 9h1V10H76zM88 8h1V10H88zM99 9h1V10H99zM19 10h1V11H19zM51 10h4V11H51zM74 10h1V11H74zM73 11h1V12H73zM17 11h1V14H17zM72 12h1V14H72zM89 12h1V14H89zM73 14h1V15H73zM1 12h1V16H1zM73 15h2V16H73zM102 11h1V16H102zM0 16h2V17H0zM58 12h1V17H58zM74 16h1V17H74zM75 17h1V18H75zM17 16h1V19H17zM76 18h1V19H76zM88 16h1V19H88zM0 17h1V20H0zM18 19h2V20H18zM77 19h2V20H77zM81 20h2V22H81zM87 20h1V22H87zM98 11h1V22H98zM58 17h2V24H58zM98 22h2V24H98zM58 24h3V26H58zM99 24h3V26H99zM58 26h4V28H58zM82 22h1V28H82zM100 26h1V28H100zM61 28h2V30H61zM58 28h2V32H58zM81 28h2V32H81zM59 32h1V34H59zM82 32h1V34H82zM60 34h1V36H60zM62 30h2V36H62zM81 34h2V36H81zM87 34h1V36H87zM60 36h4V38H60zM60 38h3V40H60zM68 30h2V40H68zM60 40h2V42H60zM80 36h1V42H80zM88 38h1V42H88zM81 42h2V44H81zM61 42h1V48H61zM100 70h2V72H100z"/>
<path fill="#e13346" d="M17 1h1V2H17zM50 0h1V2H50zM62 0h2V2H62zM66 0h2V2H66zM86 0h2V2H86zM89 1h1V2H89zM95 1h2V2H95zM18 2h1V3H18zM20 2h1V3H20zM61 2h2V3H61zM66 2h1V3H66zM83 0h1V3H83zM88 2h1V3H88zM51 2h1V4H51zM61 3h5V4H61zM82 3h2V4H82zM87 3h2V4H87zM82 4h1V5H82zM51 4h2V6H51zM86 4h2V6H86zM0 6h1V7H0zM81 5h1V7H81zM80 7h2V8H80zM87 6h1V8H87zM1 7h1V9H1zM52 6h1V9H52zM79 8h2V9H79zM78 9h2V10H78zM0 10h1V11H0zM78 10h1V11H78zM100 10h1V11H100zM77 11h2V12H77zM77 12h3V13H77zM76 13h4V15H76zM82 14h1V15H82zM100 11h2V15H100zM77 15h4V16H77zM82 15h2V16H82zM100 15h1V16H100zM80 16h4V17H80zM81 17h3V18H81zM83 18h1V19H83zM86 9h1V19H86zM84 19h2V36H84zM83 38h1V42H83zM86 36h1V42H86z"/>
<path fill="#3650a0" d="M30 0h4V2H30zM6 2h7V3H6zM34 2h6V3H34zM101 0h1V3H101zM4 3h2V4H4zM14 3h1V4H14zM24 3h1V4H24zM34 3h2V4H34zM40 3h4V4H40zM5 4h1V5H5zM32 4h4V5H32zM38 4h4V5H38zM5 5h2V6H5zM15 4h1V6H15zM23 4h2V6H23zM6 6h10V7H6zM24 6h1V7H24zM29 18h2V19H29zM28 19h4V20H28zM27 20h6V22H27zM26 22h2V24H26zM29 22h4V24H29zM22 24h8V26H22zM21 26h2V28H21zM25 26h4V28H25zM22 28h4V30H22z"/>
<path fill="#fce3b8" d="M52 1h1V2H52zM81 0h1V2H81zM73 2h1V3H73zM80 2h1V3H80zM90 2h1V3H90zM59 3h1V4H59zM70 3h2V4H70zM97 3h1V4H97zM1 4h1V5H1zM18 4h2V5H18zM68 4h1V5H68zM66 5h1V6H66zM78 5h1V6H78zM45 6h1V7H45zM65 6h1V7H65zM95 4h3V7H95zM32 7h1V8H32zM34 7h3V8H34zM60 7h3V8H60zM77 7h1V8H77zM76 8h1V9H76zM95 7h4V9H95zM102 8h1V9H102zM18 9h2V10H18zM59 8h1V10H59zM74 9h1V10H74zM89 6h1V10H89zM94 9h4V10H94zM46 10h3V11H46zM72 10h1V11H72zM93 10h5V11H93zM44 9h1V12H44zM46 11h5V12H46zM90 11h1V12H90zM92 11h5V12H92zM103 9h1V12H103zM46 12h1V13H46zM51 12h1V13H51zM54 12h2V13H54zM59 11h1V13H59zM2 11h1V14H2zM13 13h1V14H13zM16 11h1V14H16zM44 13h2V14H44zM51 13h5V14H51zM71 11h1V14H71zM90 12h6V14H90zM20 11h1V15H20zM92 14h4V15H92zM51 14h3V16H51zM55 14h1V16H55zM60 16h1V17H60zM72 16h1V17H72zM73 17h1V18H73zM93 15h3V18H93zM12 14h2V19H12zM61 17h1V19H61zM74 18h1V19H74zM89 16h1V19H89zM93 18h2V19H93zM2 17h2V20H2zM16 16h1V20H16zM20 19h1V20H20zM75 19h1V20H75zM1 20h2V22H1zM17 20h1V22H17zM62 19h1V22H62zM76 20h2V22H76zM54 16h2V24H54zM62 22h2V24H62zM94 19h1V24H94zM4 24h1V26H4zM43 24h13V26H43zM63 24h4V26H63zM79 22h1V26H79zM103 16h1V26H103zM42 26h14V28H42zM64 26h5V28H64zM94 24h2V28H94zM41 28h7V30H41zM70 28h1V30H70zM94 28h4V30H94zM102 26h2V30H102zM0 22h2V32H0zM4 26h2V32H4zM39 30h9V32H39zM95 30h3V32H95zM101 30h3V32H101zM4 32h3V34H4zM38 32h1V34H38zM80 32h1V34H80zM96 32h6V34H96zM40 32h4V36H40zM52 28h2V36H52zM88 34h1V36H88zM97 34h4V36H97zM4 34h1V38H4zM37 34h1V38H37zM89 36h6V38H89zM3 38h1V40H3zM36 38h2V40H36zM40 36h8V40H40zM52 36h4V40H52zM52 40h7V42H52zM78 36h1V42H78zM90 38h6V42H90zM6 34h2V44H6zM36 40h12V44H36zM52 42h8V44H52zM79 42h1V44H79zM89 42h6V44H89zM103 36h1V44H103zM7 44h1V46H7zM35 44h5V46H35zM81 44h7V46H81zM34 46h6V48H34zM64 40h2V48H64zM71 30h1V48H71zM8 46h1V50H8zM70 48h2V50H70zM34 48h4V52H34zM42 44h6V52H42zM50 44h10V52H50zM70 50h1V52H70zM2 40h2V54H2zM3 54h2V56H3zM32 52h4V56H32zM44 52h27V56H44zM93 56h2V58H93zM4 56h2V60H4zM8 50h2V60H8zM32 56h6V60H32zM4 60h1V64H4zM44 56h18V64H44zM92 58h4V64H92zM91 64h5V66H91zM30 60h8V68H30zM44 64h16V68H44zM90 66h6V68H90zM100 66h2V68H100zM4 64h2V70H4zM9 60h1V70H9zM87 68h9V70H87zM4 70h7V72H4zM32 68h6V72H32zM46 68h14V72H46zM86 70h10V72H86zM9 72h2V74H9zM10 74h2V80H10zM32 72h4V80H32zM48 72h10V80H48zM86 72h8V80H86zM99 68h1V80H99zM102 68h1V80H102z"/>
<path fill="#313d94" d="M6 3h8V4H6zM36 3h4V4H36zM6 4h9V5H6zM36 4h2V5H36zM7 5h8V6H7zM28 22h1V24H28zM23 26h2V28H23z"/>
<path fill="#b72029" d="M84 6h1V7H84zM84 7h2V9H84zM84 9h1V15H84z"/>
</g>
</g>
<rect x="1078.49" y="767.96" width="9.95" height="12.40" fill="#e13346"/>
<rect x="1079.28" y="780.36" width="7.56" height="62.02" fill="#e4444a"/>
<rect x="1079.28" y="842.38" width="7.56" height="37.22" fill="#e01f35"/>
<path d="M654.7,633.0 L667.2,638.5 L682.7,642.9 L693.7,640.7 L700.2,635.2 L702.0,631.5" fill="none" stroke="#505050" stroke-width="4.2" stroke-linejoin="round" stroke-linecap="butt"/>
<path d="M654.7,655.0 L662.8,659.4 L676.0,677.0 L687.0,701.3 L698.0,725.5 L711.2,751.9 L720.0,773.9 L731.1,791.5 L746.5,803.6 L759.7,808.0 L772.9,804.7 L790.5,793.7 L808.1,778.3 L825.7,756.3 L838.9,734.3 L844.4,721.1 L843.3,712.3 L836.7,709.6 L821.3,710.5 L803.7,713.4 L786.1,715.6 L770.7,714.5 L759.7,710.1 L748.7,699.1 L739.9,681.5 L735.5,661.6 L736.6,646.2 L738.8,631.5" fill="none" stroke="#505050" stroke-width="1.3" stroke-linejoin="round" stroke-linecap="butt"/>
<path d="M759.7,631.5 L760.8,646.2 L766.3,659.4 L777.3,668.2 L792.7,673.7 L802.6,675.3" fill="none" stroke="#505050" stroke-width="4.2" stroke-linejoin="round" stroke-linecap="butt"/>
<path d="M842.2,674.4 L856.6,668.2 L874.2,663.8 L887.4,661.6 L912.0,662.7 L923.0,656.1 L934.0,648.4 L947.2,646.2 L956.0,653.9 L969.2,662.7 L980.2,669.3 L989.1,671.5 L1000.1,674.8 L1008.9,680.3 L1015.5,678.1 L1028.7,681.5 L1039.7,680.3 L1048.5,674.8 L1055.1,663.8 L1057.3,650.6 L1055.1,639.6 L1050.7,631.5" fill="none" stroke="#505050" stroke-width="4.2" stroke-linejoin="round" stroke-linecap="butt"/>
<path d="M783.9,631.5 L786.1,639.6 L797.1,648.4 L816.9,655.0 L836.7,658.3 L856.6,653.9 L872.0,647.3 L873.1,642.9 L865.4,638.5 L856.6,634.1 L852.2,631.5" fill="none" stroke="#505050" stroke-width="1.3" stroke-linejoin="round" stroke-linecap="butt"/>
<path d="M886.7,631.5 L899.7,633.5 L912.0,636.3 L925.2,638.5 L930.7,639.5" fill="none" stroke="#505050" stroke-width="4.2" stroke-linejoin="round" stroke-linecap="butt"/>
<path d="M968.7,638.0 L972.7,636.8 L980.2,631.5" fill="none" stroke="#505050" stroke-width="4.2" stroke-linejoin="round" stroke-linecap="butt"/>
<path d="M995.7,631.5 L989.1,639.6 L986.9,646.2 L995.7,650.6 L1006.7,652.4 L1017.7,649.5 L1026.5,641.8 L1027.6,633.0 L1025.4,631.5" fill="none" stroke="#505050" stroke-width="1.3" stroke-linejoin="round" stroke-linecap="butt"/>
<path d="M1077.1,631.5 L1081.5,638.5 L1090.3,645.1 L1103.5,648.4" fill="none" stroke="#505050" stroke-width="4.2" stroke-linejoin="round" stroke-linecap="butt"/>
<path d="M1141.0,641.8 L1148.7,635.2 L1150.9,631.5" fill="none" stroke="#505050" stroke-width="4.2" stroke-linejoin="round" stroke-linecap="butt"/>
<path d="M1068.3,631.5 L1074.9,644.0 L1080.4,657.2 L1080.4,672.6 L1076.0,685.8 L1082.7,690.2 L1087.0,689.1 L1083.7,699.0 L1092.5,710.1 L1100.2,716.7 L1110.1,718.9 L1121.2,722.2 L1124.5,717.8 L1130.0,701.2 L1134.4,683.6 L1138.8,672.6 L1145.4,659.4 L1149.8,646.2 L1156.4,637.4 L1167.4,634.1 L1172.0,633.0" fill="none" stroke="#505050" stroke-width="1.3" stroke-linejoin="round" stroke-linecap="butt"/>
<path d="M1157.2,673.5 L1157.7,661.5 L1158.9,653.5 L1161.2,651.5 L1163.2,655.5 L1163.5,671.5 L1163.0,686.5 L1162.0,702.5 L1161.5,707.5" fill="none" stroke="#505050" stroke-width="4.2" stroke-linejoin="round" stroke-linecap="butt"/>
<text x="822.4" y="685.9" font-size="23.5" text-anchor="middle" fill="#000">35</text>
<text x="950.5" y="649.1" font-size="23.5" text-anchor="middle" fill="#000">35</text>
<text x="1124.5" y="655.7" font-size="23.5" text-anchor="middle" fill="#000">34</text>
<text x="1158.0" y="701.2" font-size="23.5" text-anchor="middle" fill="#000" transform="rotate(90 1158.0 692.8)">35</text>
</g>
<rect x="654.70" y="631.50" width="517.30" height="248.10" fill="none" stroke="#262626" stroke-width="1.3"/>
<line x1="674.60" y1="879.60" x2="674.60" y2="884.60" stroke="#262626" stroke-width="1.3"/>
<line x1="674.60" y1="631.50" x2="674.60" y2="626.50" stroke="#262626" stroke-width="1.3"/>
<line x1="793.97" y1="879.60" x2="793.97" y2="884.60" stroke="#262626" stroke-width="1.3"/>
<line x1="793.97" y1="631.50" x2="793.97" y2="626.50" stroke="#262626" stroke-width="1.3"/>
<line x1="913.35" y1="879.60" x2="913.35" y2="884.60" stroke="#262626" stroke-width="1.3"/>
<line x1="913.35" y1="631.50" x2="913.35" y2="626.50" stroke="#262626" stroke-width="1.3"/>
<line x1="1032.73" y1="879.60" x2="1032.73" y2="884.60" stroke="#262626" stroke-width="1.3"/>
<line x1="1032.73" y1="631.50" x2="1032.73" y2="626.50" stroke="#262626" stroke-width="1.3"/>
<line x1="1152.10" y1="879.60" x2="1152.10" y2="884.60" stroke="#262626" stroke-width="1.3"/>
<line x1="1152.10" y1="631.50" x2="1152.10" y2="626.50" stroke="#262626" stroke-width="1.3"/>
<line x1="654.70" y1="631.50" x2="649.70" y2="631.50" stroke="#262626" stroke-width="1.3"/>
<line x1="1172.00" y1="631.50" x2="1177.00" y2="631.50" stroke="#262626" stroke-width="1.3"/>
<line x1="654.70" y1="693.52" x2="649.70" y2="693.52" stroke="#262626" stroke-width="1.3"/>
<line x1="1172.00" y1="693.52" x2="1177.00" y2="693.52" stroke="#262626" stroke-width="1.3"/>
<line x1="654.70" y1="755.55" x2="649.70" y2="755.55" stroke="#262626" stroke-width="1.3"/>
<line x1="1172.00" y1="755.55" x2="1177.00" y2="755.55" stroke="#262626" stroke-width="1.3"/>
<line x1="654.70" y1="817.58" x2="649.70" y2="817.58" stroke="#262626" stroke-width="1.3"/>
<line x1="1172.00" y1="817.58" x2="1177.00" y2="817.58" stroke="#262626" stroke-width="1.3"/>
<line x1="654.70" y1="879.60" x2="649.70" y2="879.60" stroke="#262626" stroke-width="1.3"/>
<line x1="1172.00" y1="879.60" x2="1177.00" y2="879.60" stroke="#262626" stroke-width="1.3"/>
<text x="673.1" y="922.6" font-size="28" text-anchor="middle" fill="#262626">60<tspan dy="1.5">°</tspan><tspan dy="-1.5">S</tspan></text>
<text x="792.5" y="922.6" font-size="28" text-anchor="middle" fill="#262626">30<tspan dy="1.5">°</tspan><tspan dy="-1.5">S</tspan></text>
<text x="911.9" y="922.6" font-size="28" text-anchor="middle" fill="#262626">0<tspan dy="1.5">°</tspan></text>
<text x="1031.2" y="922.6" font-size="28" text-anchor="middle" fill="#262626">30<tspan dy="1.5">°</tspan><tspan dy="-1.5">N</tspan></text>
<text x="1150.6" y="922.6" font-size="28" text-anchor="middle" fill="#262626">60<tspan dy="1.5">°</tspan><tspan dy="-1.5">N</tspan></text>
<text x="913.4" y="622.8" font-size="29.5" text-anchor="middle" fill="#000">ORAS4</text>
<text x="633.8" y="626.6" font-size="30.5" font-weight="bold" fill="#000">F</text>
<clipPath id="clipG"><rect x="116.50" y="930.80" width="517.30" height="248.10"/></clipPath>
<g clip-path="url(#clipG)">
<rect x="116.50" y="930.80" width="517.30" height="248.10" fill="#fdf0dc"/>
<g shape-rendering="crispEdges">
<g transform="translate(116.50,930.80) scale(4.97404,3.10125)">
<path fill="#f9cd93" d="M43 0h1V1H43zM95 1h1V2H95zM42 3h1V4H42zM64 3h2V4H64zM89 2h1V4H89zM94 2h1V4H94zM18 4h1V5H18zM95 4h1V5H95zM98 4h1V5H98zM24 5h2V6H24zM74 5h4V6H74zM19 6h1V7H19zM41 6h1V7H41zM49 6h1V7H49zM60 6h1V7H60zM23 7h1V8H23zM26 7h1V8H26zM61 7h1V8H61zM22 8h1V9H22zM27 8h1V9H27zM40 7h1V9H40zM48 8h2V9H48zM64 8h1V9H64zM77 8h1V9H77zM30 9h2V10H30zM39 9h1V10H39zM76 9h1V10H76zM22 10h1V11H22zM74 10h1V11H74zM83 10h6V11H83zM0 9h2V12H0zM20 11h1V12H20zM82 11h7V12H82zM1 12h2V13H1zM53 11h1V13H53zM55 8h1V13H55zM81 12h2V13H81zM87 12h2V13H87zM46 11h1V14H46zM2 13h1V15H2zM88 13h1V15H88zM54 13h2V16H54zM81 13h1V16H81zM55 16h1V17H55zM80 16h2V17H80zM88 15h2V17H88zM2 15h2V18H2zM80 17h1V18H80zM74 17h1V19H74zM79 18h2V19H79zM77 19h4V20H77zM0 18h4V22H0zM75 20h3V22H75zM89 17h1V22H89zM96 20h2V22H96zM0 22h2V24H0zM98 22h1V24H98zM1 24h1V26H1zM4 22h1V26H4zM2 26h1V28H2zM4 26h2V28H4zM90 22h1V28H90zM2 28h4V32H2zM90 28h2V32H90zM95 28h1V32H95zM99 26h1V34H99zM4 32h2V36H4zM6 36h1V38H6zM90 32h5V38H90zM91 38h2V40H91zM100 44h1V48H100zM68 46h1V58H68zM101 48h1V64H101zM101 64h3V72H101zM101 72h1V78H101zM102 78h1V80H102z"/>
<path fill="#3650a0" d="M51 0h1V1H51zM2 0h8V2H2zM14 0h1V2H14zM46 0h4V2H46zM0 2h3V3H0zM50 2h1V3H50zM99 0h5V3H99zM0 3h2V4H0zM45 2h2V4H45zM49 3h2V4H49zM0 4h4V5H0zM46 4h3V5H46zM101 3h3V5H101zM4 5h2V6H4zM6 6h1V8H6zM7 8h1V9H7zM15 5h1V11H15zM8 9h1V12H8zM16 11h1V14H16zM9 12h1V15H9zM17 14h1V17H17zM36 16h2V17H36zM10 15h1V18H10zM34 17h4V18H34zM18 17h1V19H18zM33 18h3V19H33zM37 18h3V19H37zM18 19h2V20H18zM32 19h4V20H32zM11 18h1V22H11zM19 20h2V22H19zM31 20h4V22H31zM38 19h2V22H38zM12 22h1V24H12zM20 22h6V24H20zM30 22h4V24H30zM37 22h2V24H37zM12 24h2V26H12zM25 24h7V26H25zM36 24h2V26H36zM13 26h2V28H13zM26 26h6V28H26zM35 26h2V28H35zM14 28h2V30H14zM34 28h2V30H34zM33 30h2V32H33zM15 30h1V34H15zM28 32h6V34H28zM16 34h1V36H16zM28 34h5V36H28zM16 36h2V38H16zM26 36h4V38H26zM17 38h2V40H17zM26 38h3V40H26zM19 40h3V42H19zM26 40h1V42H26zM20 42h2V44H20zM25 42h1V44H25zM20 44h6V46H20zM21 46h4V48H21z"/>
<path fill="#3060a8" d="M52 0h1V1H52zM0 0h2V2H0zM45 0h1V2H45zM51 1h1V2H51zM98 0h1V3H98zM100 3h1V4H100zM15 2h1V5H15zM45 4h1V5H45zM49 4h2V5H49zM2 5h2V6H2zM5 6h1V7H5zM6 8h1V9H6zM7 9h1V10H7zM69 8h1V10H69zM16 8h1V11H16zM8 12h1V13H8zM17 12h1V14H17zM9 15h1V16H9zM36 15h4V16H36zM18 16h1V17H18zM34 16h2V17H34zM32 17h2V18H32zM38 16h3V18H38zM19 17h1V19H19zM31 18h2V19H31zM10 18h1V20H10zM20 19h1V20H20zM30 19h2V20H30zM21 20h6V22H21zM29 20h2V22H29zM40 18h1V22H40zM11 22h1V24H11zM26 22h4V24H26zM39 22h1V24H39zM38 24h1V26H38zM12 26h1V28H12zM37 26h1V28H37zM13 28h1V30H13zM36 28h2V30H36zM13 30h2V32H13zM35 30h2V32H35zM14 32h1V34H14zM34 32h2V34H34zM33 34h2V36H33zM15 34h1V38H15zM30 36h3V38H30zM16 38h1V40H16zM29 38h2V40H29zM16 40h3V42H16zM27 40h2V42H27zM17 42h3V44H17zM18 44h2V46H18zM26 42h1V46H26zM19 46h2V48H19zM25 46h1V48H25zM21 48h5V50H21zM23 50h2V52H23z"/>
<path fill="#2275b5" d="M53 0h1V1H53zM63 0h2V1H63zM15 0h1V2H15zM97 0h1V3H97zM44 3h1V5H44zM0 5h2V6H0zM45 5h1V6H45zM4 6h1V7H4zM5 7h1V8H5zM16 6h1V8H16zM68 7h2V8H68zM68 8h1V10H68zM68 10h2V11H68zM7 10h1V12H7zM17 10h1V12H17zM8 13h1V15H8zM37 14h4V15H37zM18 14h1V16H18zM35 15h1V16H35zM40 15h2V16H40zM19 16h1V17H19zM32 16h2V17H32zM9 16h1V18H9zM20 17h1V18H20zM31 17h1V18H31zM20 18h5V19H20zM30 18h1V19H30zM21 19h6V20H21zM29 19h1V20H29zM10 20h1V22H10zM27 20h2V22H27zM41 16h1V22H41zM40 22h1V24H40zM11 24h1V26H11zM39 24h1V26H39zM71 22h1V26H71zM38 26h1V30H38zM12 28h1V32H12zM37 30h1V32H37zM13 32h1V34H13zM36 32h1V34H36zM13 34h2V36H13zM35 34h1V36H35zM14 36h1V38H14zM33 36h2V38H33zM31 38h2V40H31zM15 38h1V42H15zM29 40h2V42H29zM16 42h1V44H16zM27 42h2V44H27zM16 44h2V46H16zM27 44h1V46H27zM17 46h2V48H17zM26 46h1V48H26zM19 48h2V50H19zM21 50h2V52H21zM25 50h1V52H25zM22 52h3V54H22z"/>
<path fill="#27a1d6" d="M54 0h1V1H54zM62 0h1V1H62zM44 2h1V3H44zM51 2h1V3H51zM99 3h1V4H99zM100 4h1V5H100zM16 5h1V6H16zM44 5h1V6H44zM46 5h2V6H46zM3 6h1V7H3zM4 7h1V8H4zM57 7h1V8H57zM5 8h1V9H5zM58 8h1V9H58zM6 9h1V10H6zM17 9h1V10H17zM70 8h1V10H70zM68 11h2V12H68zM7 12h1V13H7zM50 12h1V13H50zM18 12h1V14H18zM38 13h4V14H38zM27 14h2V15H27zM36 14h1V15H36zM41 14h1V15H41zM8 15h1V16H8zM19 15h1V16H19zM27 15h8V16H27zM20 16h1V17H20zM30 16h2V17H30zM21 17h5V18H21zM29 17h2V18H29zM25 18h5V19H25zM9 18h1V20H9zM27 19h2V20H27zM42 15h1V20H42zM67 18h1V20H67zM70 20h2V22H70zM10 22h1V24H10zM41 22h1V24H41zM40 24h1V26H40zM70 22h1V26H70zM72 22h1V26H72zM71 26h2V28H71zM11 26h1V30H11zM39 26h1V30H39zM71 28h1V30H71zM38 30h1V32H38zM37 32h1V34H37zM12 32h1V36H12zM36 34h1V36H36zM12 36h2V38H12zM35 36h1V38H35zM13 38h2V40H13zM33 38h2V40H33zM14 40h1V42H14zM31 40h2V42H31zM29 42h2V44H29zM14 42h2V46H14zM28 44h2V46H28zM15 46h2V48H15zM27 46h2V48H27zM16 48h3V50H16zM26 48h1V50H26zM16 50h5V52H16zM20 52h2V54H20zM25 52h1V54H25zM21 54h4V56H21zM80 64h1V66H80zM80 66h2V68H80zM79 68h3V72H79zM84 68h2V72H84zM79 72h7V76H79zM80 76h2V80H80zM84 76h2V80H84z"/>
<path fill="#3bbde4" d="M55 0h1V1H55zM44 0h1V2H44zM52 1h1V2H52zM63 1h2V2H63zM51 3h1V4H51zM97 3h2V4H97zM16 3h1V5H16zM48 5h3V6H48zM101 5h3V6H101zM2 6h1V7H2zM3 7h1V8H3zM58 7h1V8H58zM70 7h1V8H70zM17 7h1V9H17zM57 8h1V9H57zM59 8h1V9H59zM58 9h1V10H58zM67 7h1V10H67zM6 10h1V12H6zM18 10h1V12H18zM49 11h2V12H49zM70 10h1V12H70zM40 12h3V13H40zM49 12h1V13H49zM69 12h1V13H69zM7 13h1V14H7zM26 13h3V14H26zM37 13h1V14H37zM49 13h2V14H49zM19 13h1V15H19zM26 14h1V15H26zM29 14h3V15H29zM34 14h2V15H34zM42 13h1V15H42zM20 15h1V16H20zM25 15h2V16H25zM50 14h1V16H50zM66 15h2V16H66zM21 16h9V17H21zM50 16h2V17H50zM66 16h3V17H66zM8 16h1V18H8zM26 17h3V18H26zM66 17h4V18H66zM68 18h3V19H68zM51 17h2V20H51zM66 18h1V20H66zM68 19h4V20H68zM9 20h1V22H9zM42 20h1V22H42zM66 20h4V22H66zM72 20h1V22H72zM52 20h1V24H52zM69 22h1V24H69zM41 24h1V26H41zM10 24h1V28H10zM73 24h1V28H73zM40 26h1V30H40zM70 26h1V30H70zM72 28h1V30H72zM39 30h1V32H39zM71 30h2V32H71zM38 32h1V34H38zM37 34h1V36H37zM11 30h1V38H11zM78 28h1V38H78zM12 38h1V40H12zM35 38h1V40H35zM12 40h2V42H12zM33 40h2V42H33zM31 42h2V44H31zM13 42h1V46H13zM30 44h2V46H30zM13 46h2V48H13zM29 46h2V48H29zM27 48h3V50H27zM14 48h2V52H14zM26 50h3V52H26zM14 52h6V54H14zM26 52h1V54H26zM15 54h6V56H15zM25 54h1V56H25zM20 56h5V58H20zM20 58h3V60H20zM80 54h2V60H80zM20 60h2V62H20zM84 60h1V62H84zM79 60h3V64H79zM84 62h2V64H84zM81 64h6V66H81zM79 64h1V68H79zM82 66h5V68H82zM82 68h2V72H82zM78 68h1V76H78zM78 76h2V78H78zM79 78h1V80H79zM82 76h2V80H82zM86 68h1V80H86z"/>
<path fill="#82cde4" d="M56 0h2V1H56zM61 0h1V1H61zM65 0h1V1H65zM16 0h1V3H16zM96 2h1V4H96zM51 4h1V5H51zM43 4h1V6H43zM0 6h2V7H0zM17 6h1V7H17zM44 6h2V7H44zM59 7h1V8H59zM4 8h1V9H4zM5 9h1V10H5zM18 9h1V10H18zM57 9h1V10H57zM59 9h1V10H59zM71 8h1V10H71zM49 10h2V11H49zM41 11h2V12H41zM67 10h1V12H67zM6 12h1V13H6zM19 12h1V13H19zM26 12h3V13H26zM38 12h2V13H38zM68 12h1V13H68zM70 12h1V13H70zM25 13h1V14H25zM29 13h1V14H29zM36 13h1V14H36zM67 13h3V14H67zM20 14h6V15H20zM32 14h2V15H32zM65 14h5V15H65zM7 14h1V16H7zM21 15h4V16H21zM51 11h1V16H51zM68 15h2V16H68zM49 14h1V17H49zM52 16h1V17H52zM64 15h2V17H64zM69 16h1V17H69zM70 17h1V18H70zM71 18h2V19H71zM8 18h1V20H8zM50 17h1V20H50zM65 17h1V20H65zM72 19h1V20H72zM43 12h1V22H43zM9 22h1V24H9zM50 20h2V24H50zM53 17h1V24H53zM66 22h3V24H66zM73 22h1V24H73zM42 22h1V26H42zM50 24h4V26H50zM69 24h1V26H69zM50 26h3V28H50zM78 26h2V28H78zM41 26h2V30H41zM52 28h1V30H52zM10 28h1V32H10zM40 30h4V32H40zM70 30h1V32H70zM73 28h1V32H73zM39 32h5V34H39zM46 32h2V34H46zM70 32h4V34H70zM38 34h6V36H38zM46 34h1V36H46zM71 34h2V36H71zM36 36h2V38H36zM77 30h1V38H77zM79 28h1V38H79zM78 38h2V40H78zM11 38h1V42H11zM35 40h1V42H35zM33 42h2V44H33zM32 44h2V46H32zM12 42h1V48H12zM31 46h3V48H31zM12 48h2V50H12zM30 48h2V50H30zM29 50h3V52H29zM13 50h1V54H13zM27 52h3V54H27zM79 52h3V54H79zM84 52h1V54H84zM13 54h2V56H13zM26 54h3V56H26zM82 54h1V56H82zM84 54h2V56H84zM25 56h2V58H25zM79 54h1V58H79zM14 56h6V60H14zM23 58h2V60H23zM78 58h2V60H78zM82 56h4V60H82zM19 60h1V62H19zM22 60h1V62H22zM85 60h1V62H85zM16 60h2V64H16zM20 62h2V64H20zM82 60h2V64H82zM86 62h1V64H86zM78 60h1V68H78zM77 70h1V78H77zM78 78h1V80H78zM87 64h1V80H87z"/>
<path fill="#a8dbea" d="M58 0h3V1H58zM53 1h2V2H53zM62 1h1V2H62zM65 1h1V2H65zM96 0h1V2H96zM96 4h2V5H96zM17 5h1V6H17zM51 5h1V6H51zM43 6h1V7H43zM57 6h2V7H57zM67 6h3V7H67zM2 7h1V8H2zM71 7h1V8H71zM3 8h1V9H3zM18 8h1V9H18zM44 7h2V9H44zM56 7h1V9H56zM72 8h1V9H72zM4 9h1V10H4zM24 8h2V10H24zM43 9h3V10H43zM50 9h1V10H50zM60 9h1V10H60zM24 10h3V11H24zM41 10h3V11H41zM51 10h1V11H51zM25 11h4V12H25zM39 11h2V12H39zM43 11h1V12H43zM66 7h1V12H66zM5 10h1V13H5zM24 12h2V13H24zM29 12h1V13H29zM36 12h2V13H36zM66 12h2V13H66zM71 10h1V13H71zM20 13h5V14H20zM30 13h6V14H30zM65 13h2V14H65zM6 13h1V15H6zM62 14h3V15H62zM70 13h1V15H70zM48 10h1V16H48zM52 15h1V16H52zM53 16h1V17H53zM63 15h1V17H63zM70 15h2V17H70zM71 17h2V18H71zM64 17h1V19H64zM7 16h1V20H7zM8 20h1V22H8zM44 17h1V22H44zM73 19h1V22H73zM65 20h1V24H65zM49 17h1V26H49zM54 19h1V26H54zM66 24h3V26H66zM78 24h2V26H78zM43 22h1V28H43zM48 26h2V28H48zM69 26h1V28H69zM77 26h1V28H77zM9 24h1V30H9zM43 28h9V30H43zM53 26h1V30H53zM76 28h2V30H76zM44 30h11V32H44zM48 32h2V34H48zM74 24h1V34H74zM44 32h2V36H44zM47 34h3V36H47zM70 34h1V36H70zM73 34h1V36H73zM38 36h10V38H38zM52 32h4V38H52zM70 36h4V38H70zM76 30h1V38H76zM36 38h3V40H36zM42 38h5V40H42zM53 38h3V40H53zM58 26h2V40H58zM71 38h2V40H71zM77 38h1V40H77zM97 34h1V40H97zM10 32h1V42H10zM36 40h1V42H36zM77 40h3V42H77zM35 42h1V44H35zM78 42h2V44H78zM84 30h2V44H84zM44 44h2V46H44zM34 44h2V48H34zM44 46h1V48H44zM11 42h1V50H11zM32 48h4V50H32zM32 50h3V52H32zM78 44h8V52H78zM30 52h4V54H30zM82 52h2V54H82zM85 52h1V54H85zM96 40h2V54H96zM12 50h1V56H12zM29 54h5V56H29zM83 54h1V56H83zM86 54h1V56H86zM97 54h1V56H97zM12 56h2V58H12zM27 56h2V58H27zM78 52h1V58H78zM13 58h1V60H13zM25 58h3V60H25zM18 60h1V62H18zM23 60h3V62H23zM86 56h2V62H86zM13 60h3V64H13zM18 62h2V64H18zM22 62h4V64H22zM87 62h2V64H87zM13 64h11V68H13zM13 68h1V70H13zM77 58h1V70H77zM62 68h2V72H62zM57 72h3V74H57zM12 70h2V76H12zM76 70h1V78H76zM56 74h4V80H56zM62 72h4V80H62zM76 78h2V80H76zM88 64h2V80H88z"/>
<path fill="#b72029" d="M86 0h2V1H86zM22 0h18V2H22zM86 1h1V2H86zM22 2h2V3H22zM26 2h12V3H26zM68 0h10V3H68zM22 3h1V4H22zM27 3h11V4H27zM54 3h3V4H54zM69 3h4V4H69zM28 4h10V5H28zM54 4h2V5H54zM29 5h8V6H29zM32 6h4V7H32z"/>
<path fill="#e01f35" d="M88 0h2V1H88zM92 0h2V1H92zM19 0h3V2H19zM40 0h1V2H40zM78 0h2V2H78zM82 0h4V2H82zM87 1h1V2H87zM20 2h2V3H20zM24 2h2V3H24zM67 0h1V3H67zM78 2h1V3H78zM21 3h1V4H21zM23 3h1V4H23zM26 3h1V4H26zM38 2h3V4H38zM57 3h4V4H57zM67 3h2V4H67zM73 3h4V4H73zM82 2h5V4H82zM27 4h1V5H27zM38 4h2V5H38zM53 3h1V5H53zM56 4h1V5H56zM68 4h5V5H68zM83 4h5V5H83zM21 4h2V6H21zM27 5h2V6H27zM37 5h2V6H37zM53 5h2V6H53zM64 5h1V6H64zM83 5h7V6H83zM29 6h3V7H29zM36 6h2V7H36zM82 6h2V7H82zM86 6h4V7H86zM32 7h5V8H32zM99 7h5V14H99zM100 14h4V17H100zM94 17h1V18H94zM101 17h3V36H101zM102 36h2V38H102z"/>
<path fill="#e13346" d="M90 0h2V1H90zM94 0h1V1H94zM80 0h2V2H80zM88 1h1V2H88zM19 2h1V3H19zM41 0h1V3H41zM79 2h3V3H79zM24 3h2V4H24zM61 3h2V4H61zM77 3h1V4H77zM81 3h1V4H81zM87 2h1V4H87zM23 4h1V5H23zM26 4h1V5H26zM40 4h1V5H40zM57 4h7V5H57zM66 4h2V5H66zM73 4h1V5H73zM88 4h1V5H88zM20 3h1V6H20zM39 5h1V6H39zM55 5h1V6H55zM62 5h2V6H62zM65 5h1V6H65zM82 4h1V6H82zM21 6h2V7H21zM27 6h2V7H27zM38 6h1V7H38zM64 6h1V7H64zM81 6h1V7H81zM84 6h2V7H84zM90 5h1V7H90zM98 6h2V7H98zM21 7h1V8H21zM30 7h2V8H30zM37 7h1V8H37zM53 6h2V8H53zM80 7h11V8H80zM33 8h5V9H33zM79 8h1V10H79zM78 10h2V11H78zM98 7h1V14H98zM76 13h1V15H76zM93 16h3V17H93zM99 14h1V17H99zM93 17h1V18H93zM95 17h1V18H95zM93 18h3V19H93zM93 19h2V20H93zM93 20h1V22H93zM100 17h1V26H100zM101 36h1V38H101zM101 38h3V40H101z"/>
<path fill="#f3a674" d="M95 0h1V1H95zM62 2h1V3H62zM18 3h1V4H18zM52 3h1V4H52zM91 4h3V5H91zM19 5h1V6H19zM41 5h1V6H41zM57 5h3V6H57zM78 4h2V6H78zM95 5h1V6H95zM40 6h1V7H40zM48 6h1V7H48zM61 6h1V7H61zM78 6h1V7H78zM95 6h3V7H95zM101 6h3V7H101zM47 7h1V8H47zM55 7h1V8H55zM62 7h2V8H62zM65 7h1V8H65zM94 7h2V8H94zM28 8h2V9H28zM39 8h1V9H39zM93 8h3V9H93zM32 9h1V10H32zM38 9h1V10H38zM52 8h1V10H52zM83 9h6V10H83zM92 9h3V10H92zM53 10h2V11H53zM75 10h1V11H75zM82 10h1V11H82zM89 10h3V11H89zM21 11h1V12H21zM81 11h1V12H81zM89 11h2V12H89zM96 11h1V12H96zM0 12h1V13H0zM54 11h1V13H54zM74 11h1V14H74zM96 12h2V14H96zM80 12h1V15H80zM89 12h1V15H89zM96 14h1V15H96zM79 15h2V16H79zM74 15h1V17H74zM79 16h1V17H79zM0 13h2V18H0zM78 17h2V18H78zM75 18h4V19H75zM75 19h2V20H75zM96 19h3V20H96zM90 15h1V22H90zM98 20h1V22H98zM2 22h2V26H2zM91 24h1V26H91zM99 24h1V26H99zM3 26h1V28H3zM91 26h2V28H91zM95 22h1V28H95zM92 28h3V32H92zM100 40h1V44H100zM101 44h1V46H101zM101 46h2V48H101zM102 48h2V64H102zM102 72h2V78H102zM103 78h1V80H103z"/>
<path fill="#313d94" d="M10 0h4V2H10zM50 0h1V2H50zM3 2h12V3H3zM47 2h3V3H47zM2 3h13V4H2zM47 3h2V4H47zM4 4h11V5H4zM6 5h9V6H6zM7 6h8V8H7zM8 8h7V9H8zM9 9h6V11H9zM9 11h7V12H9zM10 12h6V14H10zM10 14h7V15H10zM11 15h6V17H11zM11 17h7V18H11zM36 18h1V19H36zM12 18h6V20H12zM36 19h2V20H36zM12 20h7V22H12zM35 20h3V22H35zM13 22h7V24H13zM34 22h3V24H34zM14 24h11V26H14zM32 24h4V26H32zM15 26h11V28H15zM32 26h3V28H32zM16 28h18V30H16zM16 30h17V32H16zM16 32h12V34H16zM17 34h11V36H17zM18 36h8V38H18zM19 38h7V40H19zM22 40h4V42H22zM22 42h3V44H22z"/>
<path fill="#fce3b8" d="M17 0h1V2H17zM43 1h1V2H43zM52 2h1V3H52zM63 2h1V3H63zM92 2h2V3H92zM93 3h1V4H93zM95 2h1V4H95zM42 4h1V5H42zM18 5h1V6H18zM97 5h1V6H97zM24 6h2V7H24zM47 6h1V7H47zM72 6h1V7H72zM46 7h1V8H46zM77 6h1V8H77zM0 8h2V9H0zM41 7h1V9H41zM47 8h1V9H47zM62 8h2V9H62zM65 8h1V9H65zM76 8h1V9H76zM19 7h1V10H19zM22 9h1V10H22zM28 9h2V10H28zM40 9h1V10H40zM64 9h1V10H64zM75 9h1V10H75zM2 9h1V11H2zM32 10h7V11H32zM46 10h1V11H46zM52 10h1V11H52zM2 11h2V12H2zM22 11h1V12H22zM56 11h1V12H56zM83 12h4V13H83zM45 11h1V14H45zM53 13h1V14H53zM56 12h3V14H56zM3 12h1V15H3zM86 13h2V15H86zM45 14h2V16H45zM56 14h2V16H56zM73 10h1V16H73zM46 16h1V17H46zM54 16h1V17H54zM56 16h1V17H56zM82 13h1V17H82zM87 15h1V17H87zM55 17h1V18H55zM4 15h1V19H4zM74 19h1V20H74zM81 17h1V20H81zM4 19h2V22H4zM60 17h2V22H60zM78 20h1V22H78zM88 17h1V22H88zM61 22h1V24H61zM75 22h2V24H75zM80 20h2V24H80zM96 22h1V24H96zM0 24h1V26H0zM5 22h1V26H5zM62 24h1V26H62zM98 24h1V26H98zM6 26h1V30H6zM62 26h2V30H62zM0 26h2V32H0zM63 30h1V32H63zM88 22h2V34H88zM0 32h4V36H0zM6 30h2V36H6zM81 24h1V36H81zM2 36h4V38H2zM7 36h2V38H7zM89 34h1V38H89zM95 32h1V38H95zM2 38h7V40H2zM89 38h2V40H89zM93 38h3V40H93zM99 34h1V40H99zM2 40h2V42H2zM68 40h1V42H68zM89 40h4V42H89zM3 42h1V44H3zM6 40h2V44H6zM68 42h2V44H68zM89 42h2V44H89zM67 44h3V46H67zM89 44h1V46H89zM49 48h1V50H49zM6 44h3V54H6zM6 54h4V56H6zM67 46h1V58H67zM69 46h1V58H69zM74 50h2V58H74zM68 58h2V62H68zM48 50h2V64H48zM68 62h1V64H68zM74 58h1V64H74zM8 56h2V70H8zM8 70h1V72H8zM44 64h6V72H44zM48 72h2V74H48zM100 48h1V78H100zM44 72h2V80H44zM48 74h1V80H48zM101 78h1V80H101z"/>
<path fill="#e4444a" d="M18 0h1V2H18zM42 0h1V2H42zM89 1h1V2H89zM92 1h3V2H92zM55 2h6V3H55zM19 3h1V4H19zM41 3h1V4H41zM66 2h1V4H66zM78 3h3V4H78zM64 4h2V5H64zM74 4h1V5H74zM89 4h1V5H89zM23 5h1V6H23zM26 5h1V6H26zM40 5h1V6H40zM61 5h1V6H61zM71 5h1V6H71zM81 4h1V6H81zM98 5h1V6H98zM39 6h1V7H39zM63 6h1V7H63zM79 6h2V7H79zM20 6h1V8H20zM28 7h2V8H28zM48 7h1V8H48zM79 7h1V8H79zM91 5h1V8H91zM32 8h1V9H32zM38 7h1V9H38zM53 8h2V9H53zM80 8h5V9H80zM88 8h3V9H88zM20 8h2V10H20zM78 8h1V10H78zM97 7h1V10H97zM21 10h1V11H21zM77 10h1V11H77zM80 9h1V11H80zM76 11h4V12H76zM76 12h3V13H76zM91 12h4V14H91zM75 13h1V15H75zM77 13h1V15H77zM92 14h3V15H92zM75 15h3V16H75zM92 15h4V16H92zM98 14h1V16H98zM76 16h2V17H76zM96 16h3V17H96zM96 17h4V18H96zM95 19h1V20H95zM99 18h1V20H99zM92 16h1V22H92zM94 20h1V22H94zM92 22h3V24H92zM100 26h1V36H100zM101 40h3V42H101zM103 42h1V44H103z"/>
<path fill="#c6e8f5" d="M55 1h2V2H55zM61 1h1V2H61zM64 2h1V3H64zM43 3h1V4H43zM91 3h1V4H91zM17 3h1V5H17zM100 5h1V6H100zM46 6h1V7H46zM50 6h1V7H50zM59 6h1V7H59zM75 6h1V7H75zM1 7h1V8H1zM18 6h1V8H18zM24 7h2V8H24zM72 7h5V8H72zM43 7h1V9H43zM60 8h1V9H60zM73 8h2V9H73zM23 9h1V10H23zM26 9h1V10H26zM42 9h1V10H42zM46 8h1V10H46zM51 9h1V10H51zM56 9h1V10H56zM61 9h1V10H61zM72 9h1V10H72zM4 10h1V11H4zM27 10h2V11H27zM40 10h1V11H40zM44 10h1V11H44zM57 10h7V11H57zM65 10h1V11H65zM19 11h1V12H19zM24 11h1V12H24zM29 11h3V12H29zM36 11h3V12H36zM22 12h2V13H22zM30 12h6V13H30zM60 11h6V13H60zM60 13h5V14H60zM5 13h1V15H5zM52 13h1V15H52zM60 14h2V15H60zM71 13h1V15H71zM53 15h1V16H53zM61 15h2V16H61zM6 15h1V17H6zM44 15h1V17H44zM62 16h1V17H62zM72 15h1V17H72zM54 18h1V19H54zM63 17h1V19H63zM73 18h1V19H73zM7 20h1V22H7zM45 19h1V22H45zM44 22h2V24H44zM48 16h1V24H48zM64 19h1V24H64zM74 22h1V24H74zM78 22h2V24H78zM44 24h5V26H44zM55 19h1V26H55zM58 22h2V26H58zM64 24h2V26H64zM77 24h1V26H77zM44 26h4V28H44zM54 26h2V28H54zM57 26h1V28H57zM65 26h4V28H65zM75 26h2V28H75zM8 22h1V30H8zM54 28h4V30H54zM84 15h2V30H84zM55 30h3V32H55zM97 26h1V32H97zM60 26h1V34H60zM75 28h1V34H75zM86 30h1V34H86zM96 32h2V34H96zM9 30h1V36H9zM50 32h2V36H50zM66 28h2V36H66zM83 30h1V36H83zM48 36h4V38H48zM69 28h1V38H69zM74 34h2V38H74zM39 38h3V40H39zM47 38h6V40H47zM56 32h2V40H56zM60 34h2V40H60zM70 38h1V40H70zM73 38h4V40H73zM80 36h1V40H80zM82 36h2V40H82zM96 34h1V40H96zM37 40h11V42H37zM70 40h4V42H70zM76 40h1V42H76zM86 34h2V42H86zM40 42h8V44H40zM52 40h10V44H52zM71 42h3V44H71zM80 40h4V44H80zM0 44h1V46H0zM46 44h2V46H46zM64 40h2V46H64zM72 44h2V46H72zM76 42h2V46H76zM86 42h1V46H86zM93 44h1V46H93zM40 44h4V48H40zM45 46h2V48H45zM92 46h2V48H92zM10 42h1V50H10zM36 42h2V50H36zM91 48h1V50H91zM35 50h3V52H35zM54 44h4V52H54zM64 46h1V52H64zM72 46h1V52H72zM86 46h2V52H86zM90 50h2V52H90zM62 52h3V54H62zM86 52h8V54H86zM95 42h1V54H95zM0 46h2V56H0zM34 52h2V56H34zM40 48h6V56H40zM87 54h7V56H87zM96 54h1V56H96zM98 34h1V56H98zM11 50h1V58H11zM29 56h7V58H29zM77 46h1V58H77zM28 58h8V60H28zM56 52h4V60H56zM62 54h4V60H62zM96 56h3V60H96zM88 56h6V62H88zM26 60h4V64H26zM32 60h4V64H32zM89 62h5V64H89zM71 64h1V66H71zM24 64h4V68H24zM32 64h2V68H32zM56 60h10V68H56zM70 66h2V68H70zM76 62h1V68H76zM12 58h1V70H12zM74 68h3V70H74zM0 56h4V72H0zM14 68h12V72H14zM52 68h2V72H52zM56 68h6V72H56zM64 68h8V72H64zM96 60h2V72H96zM11 70h1V74H11zM51 72h6V74H51zM10 74h2V76H10zM14 72h4V76H14zM0 72h6V80H0zM10 76h8V80H10zM20 72h4V80H20zM51 74h5V80H51zM60 72h2V80H60zM66 72h6V80H66zM74 70h2V80H74zM90 64h2V80H90zM96 72h3V80H96z"/>
<path fill="#ea6e5a" d="M66 0h1V2H66zM90 1h2V2H90zM18 2h1V3H18zM42 2h1V3H42zM53 2h2V3H53zM61 2h1V3H61zM63 3h1V4H63zM88 2h1V4H88zM19 4h1V5H19zM24 4h2V5H24zM41 4h1V5H41zM75 4h3V5H75zM90 4h1V5H90zM94 4h1V5H94zM56 5h1V6H56zM60 5h1V6H60zM66 5h5V6H66zM72 5h2V6H72zM80 4h1V6H80zM99 5h1V6H99zM23 6h1V7H23zM26 6h1V7H26zM55 6h1V7H55zM62 6h1V7H62zM65 6h1V7H65zM92 5h3V7H92zM100 6h1V7H100zM22 7h1V8H22zM27 7h1V8H27zM39 7h1V8H39zM49 7h1V8H49zM52 4h1V8H52zM64 7h1V8H64zM78 7h1V8H78zM92 7h2V8H92zM30 8h2V9H30zM85 8h3V9H85zM91 8h2V9H91zM96 7h1V9H96zM33 9h5V10H33zM53 9h2V10H53zM77 9h1V10H77zM81 9h2V10H81zM89 9h3V10H89zM95 9h2V10H95zM20 10h1V11H20zM76 10h1V11H76zM81 10h1V11H81zM92 10h6V11H92zM80 11h1V12H80zM91 11h5V12H91zM97 11h1V12H97zM75 11h1V13H75zM79 12h1V13H79zM90 12h1V14H90zM74 14h1V15H74zM78 13h2V15H78zM90 14h2V15H90zM95 12h1V15H95zM97 14h1V15H97zM96 15h2V16H96zM75 16h1V17H75zM78 15h1V17H78zM75 17h3V18H75zM96 18h3V19H96zM95 20h1V22H95zM91 15h1V24H91zM99 20h1V24H99zM92 24h3V26H92zM93 26h2V28H93zM100 36h1V40H100zM101 42h2V44H101zM102 44h2V46H102zM103 46h1V48H103z"/>
</g>
</g>
<rect x="618.48" y="950.65" width="9.75" height="26.30" fill="#3650a0"/>
<path d="M589.8,930.8 L632.2,930.8 L632.2,951.8 L627.5,952.8 L620.0,952.3 L600.0,950.0 L592.5,946.8 L589.8,940.8Z" fill="#474b78" stroke="none"/>
<path d="M620.0,978.8 L622.5,976.8 L626.0,977.8 L628.0,982.8 L626.5,995.8 L624.5,1010.8 L623.5,1012.8 L622.0,1009.8 L620.5,995.8 L619.8,982.8Z" fill="#505050" stroke="none"/>
<path d="M116.5,932.3 L129.0,937.8 L144.5,942.2 L155.5,940.0 L162.0,934.5 L163.8,930.8" fill="none" stroke="#505050" stroke-width="4.2" stroke-linejoin="round" stroke-linecap="butt"/>
<path d="M116.5,954.5 L138.0,977.6 L160.0,1019.5 L179.8,1063.5 L195.3,1089.9 L210.7,1103.1 L221.7,1106.4 L239.3,1102.0 L265.7,1081.1 L287.7,1054.7 L298.7,1030.5 L299.8,1020.6 L294.3,1016.2 L283.3,1015.1 L265.7,1016.2 L248.1,1018.4 L230.5,1019.5 L221.7,1015.1 L212.9,1004.1 L204.1,984.2 L199.7,962.2 L199.7,942.4 L203.0,930.8" fill="none" stroke="#505050" stroke-width="1.3" stroke-linejoin="round" stroke-linecap="butt"/>
<path d="M221.5,930.8 L222.6,945.5 L228.1,958.7 L239.1,967.5 L254.5,973.0 L264.4,974.6" fill="none" stroke="#505050" stroke-width="4.2" stroke-linejoin="round" stroke-linecap="butt"/>
<path d="M305.3,974.3 L327.4,965.5 L347.2,961.1 L374.0,961.1 L387.2,953.4 L402.6,945.7 L413.6,947.9 L426.8,957.8 L440.0,966.6 L448.9,971.0 L462.1,975.4 L470.9,979.8 L479.7,978.7 L495.1,980.9 L506.1,977.6 L514.9,968.8 L519.3,955.6 L519.3,942.4 L512.7,930.8" fill="none" stroke="#505050" stroke-width="4.2" stroke-linejoin="round" stroke-linecap="butt"/>
<path d="M248.1,930.8 L250.3,940.2 L265.7,951.2 L292.1,957.8 L314.2,955.6 L336.2,946.8 L340.6,943.5 L334.0,938.0 L318.5,933.6 L309.8,930.8" fill="none" stroke="#505050" stroke-width="1.3" stroke-linejoin="round" stroke-linecap="butt"/>
<path d="M348.5,930.8 L361.5,932.8 L373.8,935.6 L387.0,937.8 L392.5,938.8" fill="none" stroke="#505050" stroke-width="4.2" stroke-linejoin="round" stroke-linecap="butt"/>
<path d="M430.5,937.3 L434.5,936.1 L442.0,930.8" fill="none" stroke="#505050" stroke-width="4.2" stroke-linejoin="round" stroke-linecap="butt"/>
<path d="M457.5,930.8 L450.9,938.9 L448.7,945.5 L457.5,949.9 L468.5,951.7 L479.5,948.8 L488.3,941.1 L489.4,932.3 L487.2,930.8" fill="none" stroke="#505050" stroke-width="1.3" stroke-linejoin="round" stroke-linecap="butt"/>
<path d="M541.3,930.8 L550.1,942.4 L565.5,946.8 L583.2,949.0 L600.8,950.1" fill="none" stroke="#505050" stroke-width="4.2" stroke-linejoin="round" stroke-linecap="butt"/>
<path d="M621.5,930.8 L623.5,933.8" fill="none" stroke="#505050" stroke-width="4.2" stroke-linejoin="round" stroke-linecap="butt"/>
<path d="M532.5,930.8 L540.2,940.2 L544.6,960.0 L545.7,982.0 L550.1,984.2 L547.9,993.0 L556.7,1010.7 L563.3,1015.1 L572.1,1019.5 L582.1,1027.2 L587.6,1017.3 L594.2,999.7 L600.8,979.8 L609.6,964.4 L616.2,949.0 L618.4,942.4 L620.5,935.8" fill="none" stroke="#505050" stroke-width="1.3" stroke-linejoin="round" stroke-linecap="butt"/>
<path d="M620.0,978.8 L622.5,976.8 L626.0,977.8 L628.0,982.8 L626.5,995.8 L624.5,1010.8 L623.5,1012.8 L622.0,1009.8 L620.5,995.8 L619.8,982.8 L620.0,978.8" fill="none" stroke="#505050" stroke-width="1.5" stroke-linejoin="round" stroke-linecap="butt"/>
<text x="285.5" y="986.0" font-size="23.5" text-anchor="middle" fill="#000">35</text>
<text x="414.7" y="948.6" font-size="23.5" text-anchor="middle" fill="#000">35</text>
<text x="614.3" y="952.4" font-size="23.5" text-anchor="middle" fill="#000">34</text>
</g>
<rect x="116.50" y="930.80" width="517.30" height="248.10" fill="none" stroke="#262626" stroke-width="1.3"/>
<line x1="136.40" y1="1178.90" x2="136.40" y2="1183.90" stroke="#262626" stroke-width="1.3"/>
<line x1="136.40" y1="930.80" x2="136.40" y2="925.80" stroke="#262626" stroke-width="1.3"/>
<line x1="255.77" y1="1178.90" x2="255.77" y2="1183.90" stroke="#262626" stroke-width="1.3"/>
<line x1="255.77" y1="930.80" x2="255.77" y2="925.80" stroke="#262626" stroke-width="1.3"/>
<line x1="375.15" y1="1178.90" x2="375.15" y2="1183.90" stroke="#262626" stroke-width="1.3"/>
<line x1="375.15" y1="930.80" x2="375.15" y2="925.80" stroke="#262626" stroke-width="1.3"/>
<line x1="494.53" y1="1178.90" x2="494.53" y2="1183.90" stroke="#262626" stroke-width="1.3"/>
<line x1="494.53" y1="930.80" x2="494.53" y2="925.80" stroke="#262626" stroke-width="1.3"/>
<line x1="613.90" y1="1178.90" x2="613.90" y2="1183.90" stroke="#262626" stroke-width="1.3"/>
<line x1="613.90" y1="930.80" x2="613.90" y2="925.80" stroke="#262626" stroke-width="1.3"/>
<line x1="116.50" y1="930.80" x2="111.50" y2="930.80" stroke="#262626" stroke-width="1.3"/>
<line x1="633.80" y1="930.80" x2="638.80" y2="930.80" stroke="#262626" stroke-width="1.3"/>
<line x1="116.50" y1="992.83" x2="111.50" y2="992.83" stroke="#262626" stroke-width="1.3"/>
<line x1="633.80" y1="992.83" x2="638.80" y2="992.83" stroke="#262626" stroke-width="1.3"/>
<line x1="116.50" y1="1054.85" x2="111.50" y2="1054.85" stroke="#262626" stroke-width="1.3"/>
<line x1="633.80" y1="1054.85" x2="638.80" y2="1054.85" stroke="#262626" stroke-width="1.3"/>
<line x1="116.50" y1="1116.88" x2="111.50" y2="1116.88" stroke="#262626" stroke-width="1.3"/>
<line x1="633.80" y1="1116.88" x2="638.80" y2="1116.88" stroke="#262626" stroke-width="1.3"/>
<line x1="116.50" y1="1178.90" x2="111.50" y2="1178.90" stroke="#262626" stroke-width="1.3"/>
<line x1="633.80" y1="1178.90" x2="638.80" y2="1178.90" stroke="#262626" stroke-width="1.3"/>
<text x="99.2" y="941.1" font-size="27" text-anchor="end" fill="#262626">0</text>
<text x="99.2" y="1003.1" font-size="27" text-anchor="end" fill="#262626">500</text>
<text x="99.2" y="1065.2" font-size="27" text-anchor="end" fill="#262626">1000</text>
<text x="99.2" y="1127.2" font-size="27" text-anchor="end" fill="#262626">1500</text>
<text x="99.2" y="1189.2" font-size="27" text-anchor="end" fill="#262626">2000</text>
<text x="24.3" y="1054.9" font-size="28.5" text-anchor="middle" fill="#262626" transform="rotate(-90 24.3 1054.9)">Depth</text>
<text x="134.9" y="1221.9" font-size="28" text-anchor="middle" fill="#262626">60<tspan dy="1.5">°</tspan><tspan dy="-1.5">S</tspan></text>
<text x="254.3" y="1221.9" font-size="28" text-anchor="middle" fill="#262626">30<tspan dy="1.5">°</tspan><tspan dy="-1.5">S</tspan></text>
<text x="373.6" y="1221.9" font-size="28" text-anchor="middle" fill="#262626">0<tspan dy="1.5">°</tspan></text>
<text x="493.0" y="1221.9" font-size="28" text-anchor="middle" fill="#262626">30<tspan dy="1.5">°</tspan><tspan dy="-1.5">N</tspan></text>
<text x="612.4" y="1221.9" font-size="28" text-anchor="middle" fill="#262626">60<tspan dy="1.5">°</tspan><tspan dy="-1.5">N</tspan></text>
<text x="375.1" y="922.1" font-size="29.5" text-anchor="middle" fill="#000">SODA</text>
<text x="47.0" y="929.4" font-size="30.5" font-weight="bold" fill="#000">G</text>
<rect x="677.60" y="1052.10" width="26.78" height="22.00" fill="#313d94"/>
<rect x="704.08" y="1052.10" width="26.78" height="22.00" fill="#3650a0"/>
<rect x="730.56" y="1052.10" width="26.78" height="22.00" fill="#3060a8"/>
<rect x="757.03" y="1052.10" width="26.78" height="22.00" fill="#2275b5"/>
<rect x="783.51" y="1052.10" width="26.78" height="22.00" fill="#27a1d6"/>
<rect x="809.99" y="1052.10" width="26.78" height="22.00" fill="#3bbde4"/>
<rect x="836.47" y="1052.10" width="26.78" height="22.00" fill="#82cde4"/>
<rect x="862.94" y="1052.10" width="26.78" height="22.00" fill="#a8dbea"/>
<rect x="889.42" y="1052.10" width="26.78" height="22.00" fill="#c6e8f5"/>
<rect x="915.90" y="1052.10" width="26.78" height="22.00" fill="#fdf0dc"/>
<rect x="942.38" y="1052.10" width="26.78" height="22.00" fill="#fce3b8"/>
<rect x="968.86" y="1052.10" width="26.78" height="22.00" fill="#f9cd93"/>
<rect x="995.33" y="1052.10" width="26.78" height="22.00" fill="#f3a674"/>
<rect x="1021.81" y="1052.10" width="26.78" height="22.00" fill="#ea6e5a"/>
<rect x="1048.29" y="1052.10" width="26.78" height="22.00" fill="#e4444a"/>
<rect x="1074.77" y="1052.10" width="26.78" height="22.00" fill="#e13346"/>
<rect x="1101.24" y="1052.10" width="26.78" height="22.00" fill="#e01f35"/>
<rect x="1127.72" y="1052.10" width="26.78" height="22.00" fill="#b72029"/>
<rect x="677.60" y="1052.10" width="476.60" height="22.00" fill="none" stroke="#262626" stroke-width="1.3"/>
<line x1="677.60" y1="1074.10" x2="677.60" y2="1070.10" stroke="#262626" stroke-width="1.2"/>
<text x="677.6" y="1112.5" font-size="27" text-anchor="middle" fill="#262626">-1.4</text>
<line x1="796.75" y1="1074.10" x2="796.75" y2="1070.10" stroke="#262626" stroke-width="1.2"/>
<text x="796.8" y="1112.5" font-size="27" text-anchor="middle" fill="#262626">-0.7</text>
<line x1="915.90" y1="1074.10" x2="915.90" y2="1070.10" stroke="#262626" stroke-width="1.2"/>
<text x="915.9" y="1112.5" font-size="27" text-anchor="middle" fill="#262626">0</text>
<line x1="1035.05" y1="1074.10" x2="1035.05" y2="1070.10" stroke="#262626" stroke-width="1.2"/>
<text x="1035.1" y="1112.5" font-size="27" text-anchor="middle" fill="#262626">0.7</text>
<line x1="1154.20" y1="1074.10" x2="1154.20" y2="1070.10" stroke="#262626" stroke-width="1.2"/>
<text x="1154.2" y="1112.5" font-size="27" text-anchor="middle" fill="#262626">1.4</text>
<text x="1176.3" y="1146.7" font-size="26.5" text-anchor="end" fill="#262626">10<tspan dy="-14" font-size="21">-3</tspan><tspan dy="14"> psu yr</tspan><tspan dy="-14" font-size="21">-1</tspan></text>
</svg>
</body></html>
